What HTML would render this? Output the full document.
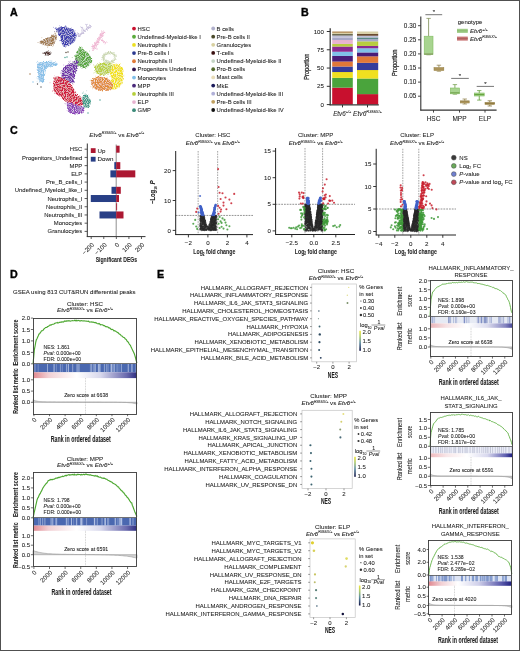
<!DOCTYPE html>
<html><head><meta charset="utf-8"><style>
html,body{margin:0;padding:0;background:#fff;}
svg{display:block;will-change:transform;}
text{font-family:"Liberation Sans", sans-serif;stroke:#1a1a1a;stroke-width:0.07px;}
</style></head><body>
<svg width="520" height="651" viewBox="0 0 520 651">
<rect x="0" y="0" width="520" height="651" fill="#fff"/>
<text x="9.90" y="15.80" font-size="10.7" text-anchor="start" fill="#000" font-weight="bold" style="stroke:#000;stroke-width:0.35px">A</text>
<defs><filter id="umf" x="-5%" y="-5%" width="110%" height="110%"><feTurbulence type="turbulence" baseFrequency="0.35" numOctaves="2" seed="4" result="t"/><feDisplacementMap in="SourceGraphic" in2="t" scale="2.6" xChannelSelector="R" yChannelSelector="G" result="d"/><feTurbulence type="fractalNoise" baseFrequency="0.9" numOctaves="1" seed="9" result="n"/><feColorMatrix in="n" type="matrix" values="0 0 0 0 1 0 0 0 0 1 0 0 0 0 1 2.3 0 0 0 -1.02" result="w"/><feComposite in="w" in2="d" operator="in" result="wc"/><feMerge><feMergeNode in="d"/><feMergeNode in="wc"/></feMerge></filter></defs>
<g filter="url(#umf)">
<path d="M55.00,28.00 C55.58,27.20 58.17,26.45 60.00,26.20 C61.83,25.95 64.17,26.20 66.00,26.50 C67.83,26.80 69.67,27.25 71.00,28.00 C72.33,28.75 73.25,29.83 74.00,31.00 C74.75,32.17 75.42,33.67 75.50,35.00 C75.58,36.33 75.08,37.83 74.50,39.00 C73.92,40.17 73.08,41.08 72.00,42.00 C70.92,42.92 69.33,43.75 68.00,44.50 C66.67,45.25 65.08,46.58 64.00,46.50 C62.92,46.42 62.17,45.08 61.50,44.00 C60.83,42.92 60.42,41.50 60.00,40.00 C59.58,38.50 59.58,36.50 59.00,35.00 C58.42,33.50 57.17,32.17 56.50,31.00 C55.83,29.83 54.42,28.80 55.00,28.00Z" fill="#3c3cb0" />
<path d="M38.50,41.00 C38.83,40.22 42.08,39.42 44.00,38.50 C45.92,37.58 48.17,36.33 50.00,35.50 C51.83,34.67 54.03,33.25 55.00,33.50 C55.97,33.75 55.83,35.75 55.80,37.00 C55.77,38.25 55.35,39.75 54.80,41.00 C54.25,42.25 53.80,43.87 52.50,44.50 C51.20,45.13 48.75,45.02 47.00,44.80 C45.25,44.58 43.42,43.83 42.00,43.20 C40.58,42.57 38.17,41.78 38.50,41.00Z" fill="#a07a50" />
<path d="M43.50,52.50 C43.83,52.03 45.00,51.35 46.00,51.20 C47.00,51.05 48.80,51.22 49.50,51.60 C50.20,51.98 50.62,53.02 50.20,53.50 C49.78,53.98 48.03,54.42 47.00,54.50 C45.97,54.58 44.58,54.33 44.00,54.00 C43.42,53.67 43.17,52.97 43.50,52.50Z" fill="#4a2820" />
<path d="M79.50,46.60 C80.58,46.27 81.75,48.10 83.00,49.00 C84.25,49.90 85.75,50.67 87.00,52.00 C88.25,53.33 89.83,55.50 90.50,57.00 C91.17,58.50 91.42,59.75 91.00,61.00 C90.58,62.25 89.17,63.38 88.00,64.50 C86.83,65.62 85.50,67.45 84.00,67.70 C82.50,67.95 80.50,66.95 79.00,66.00 C77.50,65.05 75.83,63.50 75.00,62.00 C74.17,60.50 73.75,58.83 74.00,57.00 C74.25,55.17 75.58,52.73 76.50,51.00 C77.42,49.27 78.42,46.93 79.50,46.60Z" fill="#58a840" />
<path d="M94.30,66.00 C94.80,64.50 96.38,63.60 98.00,63.00 C99.62,62.40 102.00,62.40 104.00,62.40 C106.00,62.40 108.50,62.40 110.00,63.00 C111.50,63.60 112.67,64.67 113.00,66.00 C113.33,67.33 113.17,69.67 112.00,71.00 C110.83,72.33 108.00,73.33 106.00,74.00 C104.00,74.67 101.83,75.33 100.00,75.00 C98.17,74.67 95.95,73.50 95.00,72.00 C94.05,70.50 93.80,67.50 94.30,66.00Z" fill="#b8d040" />
<path d="M112.30,64.00 C113.63,62.58 115.55,63.17 117.00,63.50 C118.45,63.83 120.00,64.58 121.00,66.00 C122.00,67.42 122.75,69.67 123.00,72.00 C123.25,74.33 123.17,77.67 122.50,80.00 C121.83,82.33 120.42,84.58 119.00,86.00 C117.58,87.42 115.50,88.33 114.00,88.50 C112.50,88.67 110.50,88.42 110.00,87.00 C109.50,85.58 111.17,82.50 111.00,80.00 C110.83,77.50 108.78,74.67 109.00,72.00 C109.22,69.33 110.97,65.42 112.30,64.00Z" fill="#f2e21c" />
<path d="M91.00,80.00 C91.50,78.42 93.33,77.17 95.00,76.50 C96.67,75.83 99.00,75.75 101.00,76.00 C103.00,76.25 105.33,77.17 107.00,78.00 C108.67,78.83 110.17,79.67 111.00,81.00 C111.83,82.33 112.33,84.58 112.00,86.00 C111.67,87.42 110.67,88.83 109.00,89.50 C107.33,90.17 104.17,90.08 102.00,90.00 C99.83,89.92 97.67,89.67 96.00,89.00 C94.33,88.33 92.83,87.50 92.00,86.00 C91.17,84.50 90.50,81.58 91.00,80.00Z" fill="#e08a3a" />
<path d="M37.00,62.00 C38.33,60.50 42.50,61.17 45.00,61.00 C47.50,60.83 50.08,60.75 52.00,61.00 C53.92,61.25 56.00,61.83 56.50,62.50 C57.00,63.17 56.25,64.33 55.00,65.00 C53.75,65.67 50.67,65.83 49.00,66.50 C47.33,67.17 45.83,67.75 45.00,69.00 C44.17,70.25 44.25,72.17 44.00,74.00 C43.75,75.83 44.17,78.67 43.50,80.00 C42.83,81.33 41.00,82.33 40.00,82.00 C39.00,81.67 38.00,80.00 37.50,78.00 C37.00,76.00 37.08,72.67 37.00,70.00 C36.92,67.33 35.67,63.50 37.00,62.00Z" fill="#88c0e8" />
<path d="M62.00,68.00 C62.92,66.33 64.50,66.00 66.00,65.00 C67.50,64.00 69.25,62.83 71.00,62.00 C72.75,61.17 75.42,59.67 76.50,60.00 C77.58,60.33 77.58,62.33 77.50,64.00 C77.42,65.67 76.58,68.00 76.00,70.00 C75.42,72.00 74.50,74.00 74.00,76.00 C73.50,78.00 74.17,81.00 73.00,82.00 C71.83,83.00 69.00,82.17 67.00,82.00 C65.00,81.83 62.08,82.17 61.00,81.00 C59.92,79.83 60.33,77.17 60.50,75.00 C60.67,72.83 61.08,69.67 62.00,68.00Z" fill="#7030a8" />
<path d="M54.30,75.90 C55.83,74.88 59.05,75.67 61.70,76.90 C64.35,78.13 68.08,80.83 70.20,83.30 C72.32,85.77 72.77,89.42 74.40,91.70 C76.03,93.98 78.73,95.20 80.00,97.00 C81.27,98.80 82.05,101.25 82.00,102.50 C81.95,103.75 81.37,104.25 79.70,104.50 C78.03,104.75 74.47,104.72 72.00,104.00 C69.53,103.28 67.23,101.70 64.90,100.20 C62.57,98.70 59.93,96.58 58.00,95.00 C56.07,93.42 54.22,92.70 53.30,90.70 C52.38,88.70 52.33,85.47 52.50,83.00 C52.67,80.53 52.77,76.92 54.30,75.90Z" fill="#d01a3e" />
<path d="M66.00,102.00 C66.75,100.83 70.00,102.50 72.00,103.00 C74.00,103.50 76.17,104.42 78.00,105.00 C79.83,105.58 82.17,105.50 83.00,106.50 C83.83,107.50 83.67,109.92 83.00,111.00 C82.33,112.08 80.83,112.58 79.00,113.00 C77.17,113.42 73.92,114.00 72.00,113.50 C70.08,113.00 68.50,111.92 67.50,110.00 C66.50,108.08 65.25,103.17 66.00,102.00Z" fill="#8a40b8" />
<path d="M82.00,95.00 C82.67,94.00 84.50,92.83 85.50,93.00 C86.50,93.17 87.25,94.67 88.00,96.00 C88.75,97.33 89.92,99.33 90.00,101.00 C90.08,102.67 89.33,104.92 88.50,106.00 C87.67,107.08 86.08,107.83 85.00,107.50 C83.92,107.17 82.58,105.42 82.00,104.00 C81.42,102.58 81.50,100.50 81.50,99.00 C81.50,97.50 81.33,96.00 82.00,95.00Z" fill="#3a9a88" />
<g stroke="#c8c0dc" stroke-linecap="round" fill="none">
<path d="M78,35 L83,31 L86.5,28 L89.5,25.5" stroke-width="2.6"/>
<path d="M83,31 L81,26 M86.5,28 L86,24.5 M79,34 L76.5,33" stroke-width="1.6"/>
</g>
<g stroke="#f0b8d4" stroke-linecap="round" fill="none">
<path d="M102.5,32 L99,37 L95.5,43 L92.5,48" stroke-width="3.6"/>
<path d="M101,39 L104,42.5 L106,41" stroke-width="1.4"/>
</g>
<ellipse cx="108.5" cy="57" rx="6" ry="5" fill="none" stroke="#ccd8b4" stroke-width="2.6"/>
</g>
<circle cx="61.63" cy="27.67" r="0.45" fill="#3c3cb0" fill-opacity="0.7"/>
<circle cx="59.39" cy="25.84" r="0.45" fill="#3c3cb0" fill-opacity="0.7"/>
<circle cx="76.18" cy="34.93" r="0.45" fill="#3c3cb0" fill-opacity="0.7"/>
<circle cx="59.90" cy="32.78" r="0.45" fill="#3c3cb0" fill-opacity="0.7"/>
<circle cx="58.88" cy="35.82" r="0.45" fill="#3c3cb0" fill-opacity="0.7"/>
<circle cx="75.34" cy="34.55" r="0.45" fill="#3c3cb0" fill-opacity="0.7"/>
<circle cx="74.99" cy="30.76" r="0.45" fill="#3c3cb0" fill-opacity="0.7"/>
<circle cx="59.82" cy="40.82" r="0.45" fill="#3c3cb0" fill-opacity="0.7"/>
<circle cx="54.68" cy="31.47" r="0.45" fill="#3c3cb0" fill-opacity="0.7"/>
<circle cx="55.70" cy="28.70" r="0.45" fill="#3c3cb0" fill-opacity="0.7"/>
<circle cx="58.44" cy="33.57" r="0.45" fill="#3c3cb0" fill-opacity="0.7"/>
<circle cx="66.21" cy="44.54" r="0.45" fill="#3c3cb0" fill-opacity="0.7"/>
<circle cx="61.22" cy="43.11" r="0.45" fill="#3c3cb0" fill-opacity="0.7"/>
<circle cx="74.96" cy="39.86" r="0.45" fill="#3c3cb0" fill-opacity="0.7"/>
<circle cx="71.65" cy="29.25" r="0.45" fill="#3c3cb0" fill-opacity="0.7"/>
<circle cx="65.75" cy="25.52" r="0.45" fill="#3c3cb0" fill-opacity="0.7"/>
<circle cx="68.30" cy="45.82" r="0.45" fill="#3c3cb0" fill-opacity="0.7"/>
<circle cx="53.46" cy="27.21" r="0.45" fill="#3c3cb0" fill-opacity="0.7"/>
<circle cx="65.92" cy="44.65" r="0.45" fill="#3c3cb0" fill-opacity="0.7"/>
<circle cx="64.63" cy="45.61" r="0.45" fill="#3c3cb0" fill-opacity="0.7"/>
<circle cx="60.99" cy="26.95" r="0.45" fill="#3c3cb0" fill-opacity="0.7"/>
<circle cx="74.98" cy="40.15" r="0.45" fill="#3c3cb0" fill-opacity="0.7"/>
<circle cx="60.74" cy="26.92" r="0.45" fill="#3c3cb0" fill-opacity="0.7"/>
<circle cx="65.88" cy="44.92" r="0.45" fill="#3c3cb0" fill-opacity="0.7"/>
<circle cx="75.44" cy="38.47" r="0.45" fill="#3c3cb0" fill-opacity="0.7"/>
<circle cx="54.98" cy="28.41" r="0.45" fill="#3c3cb0" fill-opacity="0.7"/>
<circle cx="59.72" cy="34.87" r="0.45" fill="#3c3cb0" fill-opacity="0.7"/>
<circle cx="55.59" cy="27.37" r="0.45" fill="#3c3cb0" fill-opacity="0.7"/>
<circle cx="56.53" cy="36.79" r="0.45" fill="#a07a50" fill-opacity="0.7"/>
<circle cx="44.76" cy="40.01" r="0.45" fill="#a07a50" fill-opacity="0.7"/>
<circle cx="52.91" cy="42.06" r="0.45" fill="#a07a50" fill-opacity="0.7"/>
<circle cx="56.36" cy="36.89" r="0.45" fill="#a07a50" fill-opacity="0.7"/>
<circle cx="56.51" cy="31.99" r="0.45" fill="#a07a50" fill-opacity="0.7"/>
<circle cx="42.68" cy="44.76" r="0.45" fill="#a07a50" fill-opacity="0.7"/>
<circle cx="41.64" cy="41.63" r="0.45" fill="#a07a50" fill-opacity="0.7"/>
<circle cx="52.79" cy="46.32" r="0.45" fill="#a07a50" fill-opacity="0.7"/>
<circle cx="41.87" cy="37.81" r="0.45" fill="#a07a50" fill-opacity="0.7"/>
<circle cx="47.84" cy="46.70" r="0.45" fill="#a07a50" fill-opacity="0.7"/>
<circle cx="46.10" cy="45.16" r="0.45" fill="#a07a50" fill-opacity="0.7"/>
<circle cx="46.98" cy="44.56" r="0.45" fill="#a07a50" fill-opacity="0.7"/>
<circle cx="55.26" cy="41.37" r="0.45" fill="#a07a50" fill-opacity="0.7"/>
<circle cx="54.89" cy="33.23" r="0.45" fill="#a07a50" fill-opacity="0.7"/>
<circle cx="37.92" cy="42.45" r="0.45" fill="#a07a50" fill-opacity="0.7"/>
<circle cx="54.77" cy="31.77" r="0.45" fill="#a07a50" fill-opacity="0.7"/>
<circle cx="47.64" cy="47.33" r="0.45" fill="#a07a50" fill-opacity="0.7"/>
<circle cx="55.08" cy="32.95" r="0.45" fill="#a07a50" fill-opacity="0.7"/>
<circle cx="45.09" cy="55.58" r="0.45" fill="#4a2820" fill-opacity="0.7"/>
<circle cx="48.51" cy="50.82" r="0.45" fill="#4a2820" fill-opacity="0.7"/>
<circle cx="49.20" cy="53.18" r="0.45" fill="#4a2820" fill-opacity="0.7"/>
<circle cx="43.08" cy="52.73" r="0.45" fill="#4a2820" fill-opacity="0.7"/>
<circle cx="43.53" cy="53.60" r="0.45" fill="#4a2820" fill-opacity="0.7"/>
<circle cx="49.00" cy="51.99" r="0.45" fill="#4a2820" fill-opacity="0.7"/>
<circle cx="48.46" cy="54.46" r="0.45" fill="#4a2820" fill-opacity="0.7"/>
<circle cx="42.79" cy="53.20" r="0.45" fill="#4a2820" fill-opacity="0.7"/>
<circle cx="51.09" cy="52.57" r="0.45" fill="#4a2820" fill-opacity="0.7"/>
<circle cx="48.22" cy="54.37" r="0.45" fill="#4a2820" fill-opacity="0.7"/>
<circle cx="46.12" cy="53.91" r="0.45" fill="#4a2820" fill-opacity="0.7"/>
<circle cx="48.14" cy="50.94" r="0.45" fill="#4a2820" fill-opacity="0.7"/>
<circle cx="74.30" cy="56.59" r="0.45" fill="#58a840" fill-opacity="0.7"/>
<circle cx="72.69" cy="61.91" r="0.45" fill="#58a840" fill-opacity="0.7"/>
<circle cx="80.80" cy="47.29" r="0.45" fill="#58a840" fill-opacity="0.7"/>
<circle cx="90.23" cy="60.13" r="0.45" fill="#58a840" fill-opacity="0.7"/>
<circle cx="80.41" cy="48.80" r="0.45" fill="#58a840" fill-opacity="0.7"/>
<circle cx="89.56" cy="51.02" r="0.45" fill="#58a840" fill-opacity="0.7"/>
<circle cx="83.55" cy="49.67" r="0.45" fill="#58a840" fill-opacity="0.7"/>
<circle cx="75.65" cy="62.24" r="0.45" fill="#58a840" fill-opacity="0.7"/>
<circle cx="89.20" cy="60.80" r="0.45" fill="#58a840" fill-opacity="0.7"/>
<circle cx="86.10" cy="52.15" r="0.45" fill="#58a840" fill-opacity="0.7"/>
<circle cx="88.74" cy="65.48" r="0.45" fill="#58a840" fill-opacity="0.7"/>
<circle cx="83.37" cy="49.38" r="0.45" fill="#58a840" fill-opacity="0.7"/>
<circle cx="78.46" cy="65.80" r="0.45" fill="#58a840" fill-opacity="0.7"/>
<circle cx="74.41" cy="62.47" r="0.45" fill="#58a840" fill-opacity="0.7"/>
<circle cx="79.70" cy="64.41" r="0.45" fill="#58a840" fill-opacity="0.7"/>
<circle cx="75.07" cy="56.08" r="0.45" fill="#58a840" fill-opacity="0.7"/>
<circle cx="86.76" cy="51.32" r="0.45" fill="#58a840" fill-opacity="0.7"/>
<circle cx="91.35" cy="60.31" r="0.45" fill="#58a840" fill-opacity="0.7"/>
<circle cx="85.99" cy="53.57" r="0.45" fill="#58a840" fill-opacity="0.7"/>
<circle cx="79.05" cy="64.60" r="0.45" fill="#58a840" fill-opacity="0.7"/>
<circle cx="86.13" cy="66.65" r="0.45" fill="#58a840" fill-opacity="0.7"/>
<circle cx="72.17" cy="57.57" r="0.45" fill="#58a840" fill-opacity="0.7"/>
<circle cx="108.26" cy="63.36" r="0.45" fill="#b8d040" fill-opacity="0.7"/>
<circle cx="111.20" cy="63.56" r="0.45" fill="#b8d040" fill-opacity="0.7"/>
<circle cx="105.14" cy="62.59" r="0.45" fill="#b8d040" fill-opacity="0.7"/>
<circle cx="113.40" cy="65.85" r="0.45" fill="#b8d040" fill-opacity="0.7"/>
<circle cx="93.87" cy="72.95" r="0.45" fill="#b8d040" fill-opacity="0.7"/>
<circle cx="93.69" cy="64.69" r="0.45" fill="#b8d040" fill-opacity="0.7"/>
<circle cx="100.03" cy="64.15" r="0.45" fill="#b8d040" fill-opacity="0.7"/>
<circle cx="112.38" cy="66.84" r="0.45" fill="#b8d040" fill-opacity="0.7"/>
<circle cx="99.85" cy="75.11" r="0.45" fill="#b8d040" fill-opacity="0.7"/>
<circle cx="110.22" cy="66.23" r="0.45" fill="#b8d040" fill-opacity="0.7"/>
<circle cx="105.16" cy="72.23" r="0.45" fill="#b8d040" fill-opacity="0.7"/>
<circle cx="108.18" cy="61.87" r="0.45" fill="#b8d040" fill-opacity="0.7"/>
<circle cx="97.00" cy="71.97" r="0.45" fill="#b8d040" fill-opacity="0.7"/>
<circle cx="99.31" cy="62.68" r="0.45" fill="#b8d040" fill-opacity="0.7"/>
<circle cx="104.18" cy="62.93" r="0.45" fill="#b8d040" fill-opacity="0.7"/>
<circle cx="97.49" cy="63.36" r="0.45" fill="#b8d040" fill-opacity="0.7"/>
<circle cx="110.96" cy="69.23" r="0.45" fill="#b8d040" fill-opacity="0.7"/>
<circle cx="94.03" cy="65.75" r="0.45" fill="#b8d040" fill-opacity="0.7"/>
<circle cx="122.18" cy="68.07" r="0.45" fill="#f2e21c" fill-opacity="0.7"/>
<circle cx="122.00" cy="80.84" r="0.45" fill="#f2e21c" fill-opacity="0.7"/>
<circle cx="111.86" cy="81.26" r="0.45" fill="#f2e21c" fill-opacity="0.7"/>
<circle cx="111.83" cy="64.89" r="0.45" fill="#f2e21c" fill-opacity="0.7"/>
<circle cx="110.96" cy="86.26" r="0.45" fill="#f2e21c" fill-opacity="0.7"/>
<circle cx="117.73" cy="65.01" r="0.45" fill="#f2e21c" fill-opacity="0.7"/>
<circle cx="122.32" cy="73.85" r="0.45" fill="#f2e21c" fill-opacity="0.7"/>
<circle cx="115.50" cy="64.10" r="0.45" fill="#f2e21c" fill-opacity="0.7"/>
<circle cx="108.57" cy="88.46" r="0.45" fill="#f2e21c" fill-opacity="0.7"/>
<circle cx="119.42" cy="84.60" r="0.45" fill="#f2e21c" fill-opacity="0.7"/>
<circle cx="120.48" cy="63.72" r="0.45" fill="#f2e21c" fill-opacity="0.7"/>
<circle cx="116.17" cy="63.82" r="0.45" fill="#f2e21c" fill-opacity="0.7"/>
<circle cx="112.50" cy="64.05" r="0.45" fill="#f2e21c" fill-opacity="0.7"/>
<circle cx="119.56" cy="85.75" r="0.45" fill="#f2e21c" fill-opacity="0.7"/>
<circle cx="110.18" cy="87.35" r="0.45" fill="#f2e21c" fill-opacity="0.7"/>
<circle cx="119.65" cy="84.73" r="0.45" fill="#f2e21c" fill-opacity="0.7"/>
<circle cx="110.83" cy="72.40" r="0.45" fill="#f2e21c" fill-opacity="0.7"/>
<circle cx="109.66" cy="87.41" r="0.45" fill="#f2e21c" fill-opacity="0.7"/>
<circle cx="119.33" cy="85.20" r="0.45" fill="#f2e21c" fill-opacity="0.7"/>
<circle cx="112.63" cy="62.11" r="0.45" fill="#f2e21c" fill-opacity="0.7"/>
<circle cx="100.38" cy="74.10" r="0.45" fill="#e08a3a" fill-opacity="0.7"/>
<circle cx="101.73" cy="89.55" r="0.45" fill="#e08a3a" fill-opacity="0.7"/>
<circle cx="107.63" cy="89.98" r="0.45" fill="#e08a3a" fill-opacity="0.7"/>
<circle cx="95.35" cy="78.47" r="0.45" fill="#e08a3a" fill-opacity="0.7"/>
<circle cx="101.63" cy="90.23" r="0.45" fill="#e08a3a" fill-opacity="0.7"/>
<circle cx="99.83" cy="88.62" r="0.45" fill="#e08a3a" fill-opacity="0.7"/>
<circle cx="94.95" cy="78.46" r="0.45" fill="#e08a3a" fill-opacity="0.7"/>
<circle cx="90.15" cy="80.21" r="0.45" fill="#e08a3a" fill-opacity="0.7"/>
<circle cx="100.08" cy="74.92" r="0.45" fill="#e08a3a" fill-opacity="0.7"/>
<circle cx="106.96" cy="77.95" r="0.45" fill="#e08a3a" fill-opacity="0.7"/>
<circle cx="107.16" cy="77.09" r="0.45" fill="#e08a3a" fill-opacity="0.7"/>
<circle cx="107.25" cy="81.17" r="0.45" fill="#e08a3a" fill-opacity="0.7"/>
<circle cx="92.66" cy="88.83" r="0.45" fill="#e08a3a" fill-opacity="0.7"/>
<circle cx="90.95" cy="86.75" r="0.45" fill="#e08a3a" fill-opacity="0.7"/>
<circle cx="97.32" cy="77.62" r="0.45" fill="#e08a3a" fill-opacity="0.7"/>
<circle cx="97.07" cy="89.22" r="0.45" fill="#e08a3a" fill-opacity="0.7"/>
<circle cx="102.41" cy="91.55" r="0.45" fill="#e08a3a" fill-opacity="0.7"/>
<circle cx="95.64" cy="76.08" r="0.45" fill="#e08a3a" fill-opacity="0.7"/>
<circle cx="91.23" cy="79.91" r="0.45" fill="#e08a3a" fill-opacity="0.7"/>
<circle cx="110.05" cy="80.32" r="0.45" fill="#e08a3a" fill-opacity="0.7"/>
<circle cx="41.65" cy="62.22" r="0.45" fill="#88c0e8" fill-opacity="0.7"/>
<circle cx="37.68" cy="61.74" r="0.45" fill="#88c0e8" fill-opacity="0.7"/>
<circle cx="55.53" cy="65.45" r="0.45" fill="#88c0e8" fill-opacity="0.7"/>
<circle cx="37.03" cy="81.72" r="0.45" fill="#88c0e8" fill-opacity="0.7"/>
<circle cx="53.93" cy="63.21" r="0.45" fill="#88c0e8" fill-opacity="0.7"/>
<circle cx="41.71" cy="80.61" r="0.45" fill="#88c0e8" fill-opacity="0.7"/>
<circle cx="55.68" cy="65.03" r="0.45" fill="#88c0e8" fill-opacity="0.7"/>
<circle cx="45.16" cy="73.85" r="0.45" fill="#88c0e8" fill-opacity="0.7"/>
<circle cx="42.20" cy="74.54" r="0.45" fill="#88c0e8" fill-opacity="0.7"/>
<circle cx="36.47" cy="62.42" r="0.45" fill="#88c0e8" fill-opacity="0.7"/>
<circle cx="51.86" cy="61.38" r="0.45" fill="#88c0e8" fill-opacity="0.7"/>
<circle cx="43.48" cy="80.91" r="0.45" fill="#88c0e8" fill-opacity="0.7"/>
<circle cx="48.34" cy="65.79" r="0.45" fill="#88c0e8" fill-opacity="0.7"/>
<circle cx="42.09" cy="81.88" r="0.45" fill="#88c0e8" fill-opacity="0.7"/>
<circle cx="37.47" cy="61.32" r="0.45" fill="#88c0e8" fill-opacity="0.7"/>
<circle cx="42.60" cy="80.14" r="0.45" fill="#88c0e8" fill-opacity="0.7"/>
<circle cx="38.24" cy="76.48" r="0.45" fill="#88c0e8" fill-opacity="0.7"/>
<circle cx="36.79" cy="77.89" r="0.45" fill="#88c0e8" fill-opacity="0.7"/>
<circle cx="53.67" cy="63.03" r="0.45" fill="#88c0e8" fill-opacity="0.7"/>
<circle cx="54.35" cy="65.52" r="0.45" fill="#88c0e8" fill-opacity="0.7"/>
<circle cx="37.94" cy="79.88" r="0.45" fill="#88c0e8" fill-opacity="0.7"/>
<circle cx="37.93" cy="78.52" r="0.45" fill="#88c0e8" fill-opacity="0.7"/>
<circle cx="39.10" cy="82.65" r="0.45" fill="#88c0e8" fill-opacity="0.7"/>
<circle cx="39.75" cy="81.03" r="0.45" fill="#88c0e8" fill-opacity="0.7"/>
<circle cx="73.73" cy="76.90" r="0.45" fill="#7030a8" fill-opacity="0.7"/>
<circle cx="60.95" cy="80.36" r="0.45" fill="#7030a8" fill-opacity="0.7"/>
<circle cx="77.69" cy="61.52" r="0.45" fill="#7030a8" fill-opacity="0.7"/>
<circle cx="61.73" cy="80.87" r="0.45" fill="#7030a8" fill-opacity="0.7"/>
<circle cx="60.66" cy="82.14" r="0.45" fill="#7030a8" fill-opacity="0.7"/>
<circle cx="76.63" cy="58.22" r="0.45" fill="#7030a8" fill-opacity="0.7"/>
<circle cx="69.30" cy="62.20" r="0.45" fill="#7030a8" fill-opacity="0.7"/>
<circle cx="74.56" cy="68.48" r="0.45" fill="#7030a8" fill-opacity="0.7"/>
<circle cx="60.41" cy="73.01" r="0.45" fill="#7030a8" fill-opacity="0.7"/>
<circle cx="71.90" cy="64.60" r="0.45" fill="#7030a8" fill-opacity="0.7"/>
<circle cx="68.18" cy="64.17" r="0.45" fill="#7030a8" fill-opacity="0.7"/>
<circle cx="73.41" cy="75.79" r="0.45" fill="#7030a8" fill-opacity="0.7"/>
<circle cx="74.56" cy="82.59" r="0.45" fill="#7030a8" fill-opacity="0.7"/>
<circle cx="73.10" cy="75.67" r="0.45" fill="#7030a8" fill-opacity="0.7"/>
<circle cx="65.58" cy="66.12" r="0.45" fill="#7030a8" fill-opacity="0.7"/>
<circle cx="68.94" cy="61.48" r="0.45" fill="#7030a8" fill-opacity="0.7"/>
<circle cx="62.26" cy="82.62" r="0.45" fill="#7030a8" fill-opacity="0.7"/>
<circle cx="70.45" cy="61.11" r="0.45" fill="#7030a8" fill-opacity="0.7"/>
<circle cx="76.06" cy="59.63" r="0.45" fill="#7030a8" fill-opacity="0.7"/>
<circle cx="67.30" cy="67.03" r="0.45" fill="#7030a8" fill-opacity="0.7"/>
<circle cx="65.77" cy="65.69" r="0.45" fill="#7030a8" fill-opacity="0.7"/>
<circle cx="63.73" cy="64.98" r="0.45" fill="#7030a8" fill-opacity="0.7"/>
<circle cx="73.07" cy="84.16" r="0.45" fill="#d01a3e" fill-opacity="0.7"/>
<circle cx="82.17" cy="102.27" r="0.45" fill="#d01a3e" fill-opacity="0.7"/>
<circle cx="82.86" cy="104.46" r="0.45" fill="#d01a3e" fill-opacity="0.7"/>
<circle cx="60.83" cy="77.72" r="0.45" fill="#d01a3e" fill-opacity="0.7"/>
<circle cx="77.84" cy="105.62" r="0.45" fill="#d01a3e" fill-opacity="0.7"/>
<circle cx="81.33" cy="104.77" r="0.45" fill="#d01a3e" fill-opacity="0.7"/>
<circle cx="82.95" cy="100.65" r="0.45" fill="#d01a3e" fill-opacity="0.7"/>
<circle cx="54.41" cy="77.17" r="0.45" fill="#d01a3e" fill-opacity="0.7"/>
<circle cx="62.89" cy="76.40" r="0.45" fill="#d01a3e" fill-opacity="0.7"/>
<circle cx="50.00" cy="82.87" r="0.45" fill="#d01a3e" fill-opacity="0.7"/>
<circle cx="65.28" cy="98.79" r="0.45" fill="#d01a3e" fill-opacity="0.7"/>
<circle cx="66.16" cy="99.31" r="0.45" fill="#d01a3e" fill-opacity="0.7"/>
<circle cx="73.69" cy="91.31" r="0.45" fill="#d01a3e" fill-opacity="0.7"/>
<circle cx="75.83" cy="91.96" r="0.45" fill="#d01a3e" fill-opacity="0.7"/>
<circle cx="60.20" cy="78.29" r="0.45" fill="#d01a3e" fill-opacity="0.7"/>
<circle cx="54.18" cy="90.31" r="0.45" fill="#d01a3e" fill-opacity="0.7"/>
<circle cx="80.76" cy="101.28" r="0.45" fill="#d01a3e" fill-opacity="0.7"/>
<circle cx="78.71" cy="104.92" r="0.45" fill="#d01a3e" fill-opacity="0.7"/>
<circle cx="52.41" cy="91.59" r="0.45" fill="#d01a3e" fill-opacity="0.7"/>
<circle cx="72.94" cy="104.21" r="0.45" fill="#d01a3e" fill-opacity="0.7"/>
<circle cx="52.96" cy="90.56" r="0.45" fill="#d01a3e" fill-opacity="0.7"/>
<circle cx="58.57" cy="94.96" r="0.45" fill="#d01a3e" fill-opacity="0.7"/>
<circle cx="80.50" cy="104.21" r="0.45" fill="#d01a3e" fill-opacity="0.7"/>
<circle cx="73.46" cy="91.50" r="0.45" fill="#d01a3e" fill-opacity="0.7"/>
<circle cx="72.72" cy="104.53" r="0.45" fill="#8a40b8" fill-opacity="0.7"/>
<circle cx="67.29" cy="103.00" r="0.45" fill="#8a40b8" fill-opacity="0.7"/>
<circle cx="82.06" cy="110.44" r="0.45" fill="#8a40b8" fill-opacity="0.7"/>
<circle cx="64.88" cy="103.35" r="0.45" fill="#8a40b8" fill-opacity="0.7"/>
<circle cx="71.97" cy="103.59" r="0.45" fill="#8a40b8" fill-opacity="0.7"/>
<circle cx="76.86" cy="103.91" r="0.45" fill="#8a40b8" fill-opacity="0.7"/>
<circle cx="72.60" cy="103.41" r="0.45" fill="#8a40b8" fill-opacity="0.7"/>
<circle cx="68.19" cy="111.29" r="0.45" fill="#8a40b8" fill-opacity="0.7"/>
<circle cx="71.33" cy="103.18" r="0.45" fill="#8a40b8" fill-opacity="0.7"/>
<circle cx="70.38" cy="112.86" r="0.45" fill="#8a40b8" fill-opacity="0.7"/>
<circle cx="67.32" cy="103.29" r="0.45" fill="#8a40b8" fill-opacity="0.7"/>
<circle cx="79.05" cy="112.75" r="0.45" fill="#8a40b8" fill-opacity="0.7"/>
<circle cx="67.05" cy="110.41" r="0.45" fill="#8a40b8" fill-opacity="0.7"/>
<circle cx="69.09" cy="109.56" r="0.45" fill="#8a40b8" fill-opacity="0.7"/>
<circle cx="78.99" cy="113.72" r="0.45" fill="#8a40b8" fill-opacity="0.7"/>
<circle cx="78.58" cy="105.19" r="0.45" fill="#8a40b8" fill-opacity="0.7"/>
<circle cx="83.58" cy="91.97" r="0.45" fill="#3a9a88" fill-opacity="0.7"/>
<circle cx="88.70" cy="104.89" r="0.45" fill="#3a9a88" fill-opacity="0.7"/>
<circle cx="83.55" cy="106.40" r="0.45" fill="#3a9a88" fill-opacity="0.7"/>
<circle cx="88.29" cy="104.77" r="0.45" fill="#3a9a88" fill-opacity="0.7"/>
<circle cx="83.54" cy="98.82" r="0.45" fill="#3a9a88" fill-opacity="0.7"/>
<circle cx="83.53" cy="104.35" r="0.45" fill="#3a9a88" fill-opacity="0.7"/>
<circle cx="88.19" cy="104.82" r="0.45" fill="#3a9a88" fill-opacity="0.7"/>
<circle cx="82.92" cy="93.62" r="0.45" fill="#3a9a88" fill-opacity="0.7"/>
<circle cx="82.69" cy="101.57" r="0.45" fill="#3a9a88" fill-opacity="0.7"/>
<circle cx="86.44" cy="94.86" r="0.45" fill="#3a9a88" fill-opacity="0.7"/>
<circle cx="86.68" cy="90.84" r="0.45" fill="#3a9a88" fill-opacity="0.7"/>
<circle cx="82.30" cy="93.01" r="0.45" fill="#3a9a88" fill-opacity="0.7"/>
<circle cx="79.85" cy="100.84" r="0.45" fill="#3a9a88" fill-opacity="0.7"/>
<circle cx="85.98" cy="95.75" r="0.45" fill="#3a9a88" fill-opacity="0.7"/>
<circle cx="89.00" cy="96.13" r="0.45" fill="#3a9a88" fill-opacity="0.7"/>
<circle cx="85.11" cy="93.74" r="0.45" fill="#3a9a88" fill-opacity="0.7"/>
<circle cx="30.00" cy="74.00" r="0.70" fill="#9a6b3c"/>
<circle cx="33.00" cy="82.00" r="0.70" fill="#88c4ea"/>
<circle cx="88.00" cy="113.00" r="0.70" fill="#3a9a88"/>
<circle cx="97.00" cy="49.00" r="0.70" fill="#f0b8d8"/>
<circle cx="52.00" cy="36.00" r="0.70" fill="#9a6b3c"/>
<circle cx="66.00" cy="52.50" r="0.70" fill="#4a3a2a"/>
<circle cx="68.00" cy="52.00" r="0.70" fill="#4a3a2a"/>
<circle cx="100.00" cy="100.00" r="0.70" fill="#3a9a88"/>
<circle cx="65.00" cy="57.50" r="0.70" fill="#3a9a88"/>
<circle cx="67.00" cy="57.00" r="0.70" fill="#3a9a88"/>
<circle cx="37.50" cy="84.00" r="0.70" fill="#555"/>
<circle cx="41.00" cy="87.00" r="0.70" fill="#555"/>
<circle cx="134.00" cy="28.60" r="1.90" fill="#c8102e"/>
<text x="137.60" y="30.69" font-size="5.9" text-anchor="start" fill="#1e1e1e" >HSC</text>
<circle cx="134.00" cy="36.76" r="1.90" fill="#5aab3c"/>
<text x="137.60" y="38.85" font-size="5.9" text-anchor="start" fill="#1e1e1e" >Undefined-Myeloid-like I</text>
<circle cx="134.00" cy="44.92" r="1.90" fill="#ece020"/>
<text x="137.60" y="47.01" font-size="5.9" text-anchor="start" fill="#1e1e1e" >Neutrophils I</text>
<circle cx="134.00" cy="53.08" r="1.90" fill="#2b3990"/>
<text x="137.60" y="55.17" font-size="5.9" text-anchor="start" fill="#1e1e1e" >Pre-B cells I</text>
<circle cx="134.00" cy="61.24" r="1.90" fill="#e07b39"/>
<text x="137.60" y="63.33" font-size="5.9" text-anchor="start" fill="#1e1e1e" >Neutrophils II</text>
<circle cx="134.00" cy="69.40" r="1.90" fill="#30154f"/>
<text x="137.60" y="71.49" font-size="5.9" text-anchor="start" fill="#1e1e1e" >Progenitors Undefined</text>
<circle cx="134.00" cy="77.56" r="1.90" fill="#7fbfe8"/>
<text x="137.60" y="79.65" font-size="5.9" text-anchor="start" fill="#1e1e1e" >Monocytes</text>
<circle cx="134.00" cy="85.72" r="1.90" fill="#4a2a7a"/>
<text x="137.60" y="87.81" font-size="5.9" text-anchor="start" fill="#1e1e1e" >MPP</text>
<circle cx="134.00" cy="93.88" r="1.90" fill="#b5cf3a"/>
<text x="137.60" y="95.97" font-size="5.9" text-anchor="start" fill="#1e1e1e" >Neutrophils III</text>
<circle cx="134.00" cy="102.04" r="1.90" fill="#e7b3d0"/>
<text x="137.60" y="104.13" font-size="5.9" text-anchor="start" fill="#1e1e1e" >ELP</text>
<circle cx="134.00" cy="110.20" r="1.90" fill="#3d8b7a"/>
<text x="137.60" y="112.29" font-size="5.9" text-anchor="start" fill="#1e1e1e" >GMP</text>
<circle cx="213.20" cy="28.50" r="1.90" fill="#b0b0cc"/>
<text x="216.60" y="30.59" font-size="5.9" text-anchor="start" fill="#1e1e1e" >B cells</text>
<circle cx="213.20" cy="36.65" r="1.90" fill="#4a4a2a"/>
<text x="216.60" y="38.74" font-size="5.9" text-anchor="start" fill="#1e1e1e" >Pre-B cells II</text>
<circle cx="213.20" cy="44.80" r="1.90" fill="#d8d0a0"/>
<text x="216.60" y="46.89" font-size="5.9" text-anchor="start" fill="#1e1e1e" >Granulocytes</text>
<circle cx="213.20" cy="52.95" r="1.90" fill="#3a1010"/>
<text x="216.60" y="55.04" font-size="5.9" text-anchor="start" fill="#1e1e1e" >T-cells</text>
<circle cx="213.20" cy="61.10" r="1.90" fill="#c4d4c4"/>
<text x="216.60" y="63.19" font-size="5.9" text-anchor="start" fill="#1e1e1e" >Undefined-Myeloid-like II</text>
<circle cx="213.20" cy="69.25" r="1.90" fill="#556b2f"/>
<text x="216.60" y="71.34" font-size="5.9" text-anchor="start" fill="#1e1e1e" >Pro-B cells</text>
<circle cx="213.20" cy="77.40" r="1.90" fill="#e8dcb8"/>
<text x="216.60" y="79.49" font-size="5.9" text-anchor="start" fill="#1e1e1e" >Mast cells</text>
<circle cx="213.20" cy="85.55" r="1.90" fill="#1a1a5a"/>
<text x="216.60" y="87.64" font-size="5.9" text-anchor="start" fill="#1e1e1e" >MkE</text>
<circle cx="213.20" cy="93.70" r="1.90" fill="#b0b0d8"/>
<text x="216.60" y="95.79" font-size="5.9" text-anchor="start" fill="#1e1e1e" >Undefined-Myeloid-like III</text>
<circle cx="213.20" cy="101.85" r="1.90" fill="#c0a060"/>
<text x="216.60" y="103.94" font-size="5.9" text-anchor="start" fill="#1e1e1e" >Pre-B cells III</text>
<circle cx="213.20" cy="110.00" r="1.90" fill="#111"/>
<text x="216.60" y="112.09" font-size="5.9" text-anchor="start" fill="#1e1e1e" >Undefined-Myeloid-like IV</text>
<text x="301.10" y="15.80" font-size="10.7" text-anchor="start" fill="#000" font-weight="bold" style="stroke:#000;stroke-width:0.35px">B</text>
<rect x="332.20" y="87.60" width="20.60" height="17.05" fill="#c8102e" />
<rect x="332.20" y="77.80" width="20.60" height="9.85" fill="#4aa43c" />
<rect x="332.20" y="72.00" width="20.60" height="5.85" fill="#f0e020" />
<rect x="332.20" y="66.50" width="20.60" height="5.55" fill="#343c9c" />
<rect x="332.20" y="61.50" width="20.60" height="5.05" fill="#e07838" />
<rect x="332.20" y="55.90" width="20.60" height="5.65" fill="#4a1c78" />
<rect x="332.20" y="51.70" width="20.60" height="4.25" fill="#80c0e8" />
<rect x="332.20" y="46.50" width="20.60" height="5.25" fill="#8a2a90" />
<rect x="332.20" y="43.90" width="20.60" height="2.65" fill="#b8cc40" />
<rect x="332.20" y="40.00" width="20.60" height="3.95" fill="#e8b4d0" />
<rect x="332.20" y="37.40" width="20.60" height="2.65" fill="#a8a8c8" />
<rect x="332.20" y="35.40" width="20.60" height="2.05" fill="#c0c0d8" />
<rect x="332.20" y="34.10" width="20.60" height="1.35" fill="#4a4a30" />
<rect x="332.20" y="32.80" width="20.60" height="1.35" fill="#d8d0a8" />
<rect x="332.20" y="31.50" width="20.60" height="1.35" fill="#b08850" />
<rect x="357.00" y="94.10" width="21.20" height="10.55" fill="#c8102e" />
<rect x="357.00" y="78.50" width="21.20" height="15.65" fill="#4aa43c" />
<rect x="357.00" y="70.00" width="21.20" height="8.55" fill="#f0e020" />
<rect x="357.00" y="62.80" width="21.20" height="7.25" fill="#343c9c" />
<rect x="357.00" y="56.30" width="21.20" height="6.55" fill="#e07838" />
<rect x="357.00" y="52.40" width="21.20" height="3.95" fill="#4a1c78" />
<rect x="357.00" y="48.20" width="21.20" height="4.25" fill="#80c0e8" />
<rect x="357.00" y="45.90" width="21.20" height="2.35" fill="#8a2a90" />
<rect x="357.00" y="41.30" width="21.20" height="4.65" fill="#b8cc40" />
<rect x="357.00" y="39.10" width="21.20" height="2.25" fill="#a8a8c8" />
<rect x="357.00" y="37.40" width="21.20" height="1.75" fill="#5a8a88" />
<rect x="357.00" y="35.70" width="21.20" height="1.75" fill="#c0c0d8" />
<rect x="357.00" y="33.90" width="21.20" height="1.85" fill="#6a4a30" />
<rect x="357.00" y="31.50" width="21.20" height="2.45" fill="#d8d0a8" />
<line x1="330.20" y1="28.30" x2="330.20" y2="105.20" stroke="#3a3a3a" stroke-width="1.3"/>
<line x1="329.60" y1="104.90" x2="378.80" y2="104.90" stroke="#3a3a3a" stroke-width="1.3"/>
<line x1="326.80" y1="104.60" x2="330.20" y2="104.60" stroke="#333" stroke-width="1.0"/>
<text x="323.90" y="106.77" font-size="6.1" text-anchor="end" fill="#222" >0</text>
<line x1="326.80" y1="86.32" x2="330.20" y2="86.32" stroke="#333" stroke-width="1.0"/>
<text x="323.90" y="88.49" font-size="6.1" text-anchor="end" fill="#222" >25</text>
<line x1="326.80" y1="68.05" x2="330.20" y2="68.05" stroke="#333" stroke-width="1.0"/>
<text x="323.90" y="70.22" font-size="6.1" text-anchor="end" fill="#222" >50</text>
<line x1="326.80" y1="49.77" x2="330.20" y2="49.77" stroke="#333" stroke-width="1.0"/>
<text x="323.90" y="51.94" font-size="6.1" text-anchor="end" fill="#222" >75</text>
<line x1="326.80" y1="31.50" x2="330.20" y2="31.50" stroke="#333" stroke-width="1.0"/>
<text x="323.90" y="33.67" font-size="6.1" text-anchor="end" fill="#222" >100</text>
<line x1="342.50" y1="104.90" x2="342.50" y2="107.40" stroke="#333" stroke-width="1.0"/>
<line x1="367.50" y1="104.90" x2="367.50" y2="107.40" stroke="#333" stroke-width="1.0"/>
<text x="306.20" y="69.33" font-size="7.4" text-anchor="middle" fill="#1e1e1e" textLength="26" lengthAdjust="spacingAndGlyphs" transform="rotate(-90 306.20 66.70)" style="stroke-width:0.25px">Proportion</text>
<text x="342.20" y="115.89" font-size="7.0" text-anchor="middle" fill="#1e1e1e" textLength="18" lengthAdjust="spacingAndGlyphs"><tspan font-style="italic">Etv6</tspan><tspan font-size="4.20" dy="-2.66" font-style="italic">+/+</tspan></text>
<text x="367.50" y="115.89" font-size="7.0" text-anchor="middle" fill="#1e1e1e" textLength="28.8" lengthAdjust="spacingAndGlyphs"><tspan font-style="italic">Etv6</tspan><tspan font-size="4.20" dy="-2.66" font-style="italic">R355X/+</tspan></text>
<line x1="420.80" y1="16.50" x2="420.80" y2="110.50" stroke="#333" stroke-width="1.1"/>
<line x1="420.30" y1="110.10" x2="496.60" y2="110.10" stroke="#333" stroke-width="1.1"/>
<line x1="418.00" y1="96.20" x2="420.80" y2="96.20" stroke="#333" stroke-width="0.9"/>
<text x="416.30" y="98.47" font-size="6.4" text-anchor="end" fill="#222" >0.05</text>
<line x1="418.00" y1="82.10" x2="420.80" y2="82.10" stroke="#333" stroke-width="0.9"/>
<text x="416.30" y="84.37" font-size="6.4" text-anchor="end" fill="#222" >0.10</text>
<line x1="418.00" y1="68.00" x2="420.80" y2="68.00" stroke="#333" stroke-width="0.9"/>
<text x="416.30" y="70.27" font-size="6.4" text-anchor="end" fill="#222" >0.15</text>
<line x1="418.00" y1="53.90" x2="420.80" y2="53.90" stroke="#333" stroke-width="0.9"/>
<text x="416.30" y="56.17" font-size="6.4" text-anchor="end" fill="#222" >0.20</text>
<line x1="418.00" y1="39.80" x2="420.80" y2="39.80" stroke="#333" stroke-width="0.9"/>
<text x="416.30" y="42.07" font-size="6.4" text-anchor="end" fill="#222" >0.25</text>
<line x1="418.00" y1="25.70" x2="420.80" y2="25.70" stroke="#333" stroke-width="0.9"/>
<text x="416.30" y="27.97" font-size="6.4" text-anchor="end" fill="#222" >0.30</text>
<line x1="433.50" y1="110.00" x2="433.50" y2="112.60" stroke="#333" stroke-width="0.9"/>
<text x="433.50" y="121.31" font-size="6.5" text-anchor="middle" fill="#1e1e1e" >HSC</text>
<line x1="459.50" y1="110.00" x2="459.50" y2="112.60" stroke="#333" stroke-width="0.9"/>
<text x="459.50" y="121.31" font-size="6.5" text-anchor="middle" fill="#1e1e1e" >MPP</text>
<line x1="485.00" y1="110.00" x2="485.00" y2="112.60" stroke="#333" stroke-width="0.9"/>
<text x="485.00" y="121.31" font-size="6.5" text-anchor="middle" fill="#1e1e1e" >ELP</text>
<text x="394.60" y="65.43" font-size="7.4" text-anchor="middle" fill="#1e1e1e" textLength="26.3" lengthAdjust="spacingAndGlyphs" transform="rotate(-90 394.60 62.80)" style="stroke-width:0.25px">Proportion</text>
<line x1="428.60" y1="18.40" x2="428.60" y2="36.20" stroke="#7a8a50" stroke-width="0.8"/>
<line x1="428.60" y1="54.60" x2="428.60" y2="54.80" stroke="#7a8a50" stroke-width="0.8"/>
<line x1="426.40" y1="18.40" x2="430.80" y2="18.40" stroke="#7a8a50" stroke-width="0.7"/>
<line x1="426.40" y1="54.80" x2="430.80" y2="54.80" stroke="#7a8a50" stroke-width="0.7"/>
<rect x="424.20" y="36.20" width="8.80" height="18.40" fill="#a8d490" stroke="#80bc60" stroke-width="0.6" />
<line x1="424.20" y1="54.00" x2="433.00" y2="54.00" stroke="#7a8a50" stroke-width="0.9"/>
<line x1="438.90" y1="65.20" x2="438.90" y2="67.50" stroke="#8a7a40" stroke-width="0.8"/>
<line x1="438.90" y1="70.60" x2="438.90" y2="71.20" stroke="#8a7a40" stroke-width="0.8"/>
<line x1="436.70" y1="65.20" x2="441.10" y2="65.20" stroke="#8a7a40" stroke-width="0.7"/>
<line x1="436.70" y1="71.20" x2="441.10" y2="71.20" stroke="#8a7a40" stroke-width="0.7"/>
<rect x="434.00" y="67.50" width="9.80" height="3.10" fill="#c8a870" stroke="#9a8850" stroke-width="0.6" />
<line x1="434.00" y1="69.00" x2="443.80" y2="69.00" stroke="#8a7a40" stroke-width="0.9"/>
<line x1="454.90" y1="84.60" x2="454.90" y2="88.00" stroke="#6a9a40" stroke-width="0.8"/>
<line x1="454.90" y1="93.80" x2="454.90" y2="94.20" stroke="#6a9a40" stroke-width="0.8"/>
<line x1="452.70" y1="84.60" x2="457.10" y2="84.60" stroke="#6a9a40" stroke-width="0.7"/>
<line x1="452.70" y1="94.20" x2="457.10" y2="94.20" stroke="#6a9a40" stroke-width="0.7"/>
<rect x="450.30" y="88.00" width="9.20" height="5.80" fill="#a8d490" stroke="#80bc60" stroke-width="0.6" />
<line x1="450.30" y1="92.80" x2="459.50" y2="92.80" stroke="#6a9a40" stroke-width="0.9"/>
<line x1="464.75" y1="99.00" x2="464.75" y2="100.80" stroke="#8a7a40" stroke-width="0.8"/>
<line x1="464.75" y1="103.00" x2="464.75" y2="104.00" stroke="#8a7a40" stroke-width="0.8"/>
<line x1="462.55" y1="99.00" x2="466.95" y2="99.00" stroke="#8a7a40" stroke-width="0.7"/>
<line x1="462.55" y1="104.00" x2="466.95" y2="104.00" stroke="#8a7a40" stroke-width="0.7"/>
<rect x="460.30" y="100.80" width="8.90" height="2.20" fill="#c8a870" stroke="#9a8850" stroke-width="0.6" />
<line x1="460.30" y1="101.80" x2="469.20" y2="101.80" stroke="#8a7a40" stroke-width="0.9"/>
<line x1="479.25" y1="90.60" x2="479.25" y2="93.00" stroke="#5a9a30" stroke-width="0.8"/>
<line x1="479.25" y1="96.00" x2="479.25" y2="100.10" stroke="#5a9a30" stroke-width="0.8"/>
<line x1="477.05" y1="90.60" x2="481.45" y2="90.60" stroke="#5a9a30" stroke-width="0.7"/>
<line x1="477.05" y1="100.10" x2="481.45" y2="100.10" stroke="#5a9a30" stroke-width="0.7"/>
<rect x="474.30" y="93.00" width="9.90" height="3.00" fill="#a8d490" stroke="#80bc60" stroke-width="0.6" />
<line x1="474.30" y1="94.60" x2="484.20" y2="94.60" stroke="#5a9a30" stroke-width="0.9"/>
<line x1="489.80" y1="100.80" x2="489.80" y2="102.40" stroke="#7a6a30" stroke-width="0.8"/>
<line x1="489.80" y1="104.60" x2="489.80" y2="106.00" stroke="#7a6a30" stroke-width="0.8"/>
<line x1="487.60" y1="100.80" x2="492.00" y2="100.80" stroke="#7a6a30" stroke-width="0.7"/>
<line x1="487.60" y1="106.00" x2="492.00" y2="106.00" stroke="#7a6a30" stroke-width="0.7"/>
<rect x="485.00" y="102.40" width="9.60" height="2.20" fill="#c8a870" stroke="#9a8850" stroke-width="0.6" />
<line x1="485.00" y1="103.30" x2="494.60" y2="103.30" stroke="#7a6a30" stroke-width="0.9"/>
<line x1="425.40" y1="14.70" x2="442.20" y2="14.70" stroke="#666" stroke-width="0.9"/>
<text x="433.80" y="14.23" font-size="6.0" text-anchor="middle" fill="#1e1e1e" >*</text>
<line x1="451.20" y1="78.40" x2="468.80" y2="78.40" stroke="#666" stroke-width="0.9"/>
<text x="460.00" y="77.93" font-size="6.0" text-anchor="middle" fill="#1e1e1e" >*</text>
<line x1="476.70" y1="86.40" x2="494.00" y2="86.40" stroke="#666" stroke-width="0.9"/>
<text x="485.35" y="85.93" font-size="6.0" text-anchor="middle" fill="#1e1e1e" >*</text>
<text x="457.80" y="24.23" font-size="6.0" text-anchor="start" fill="#222" textLength="24.5" lengthAdjust="spacingAndGlyphs" >genotype</text>
<rect x="457.00" y="28.80" width="10.80" height="4.10" fill="#a0cc88" />
<line x1="457.00" y1="30.85" x2="467.80" y2="30.85" stroke="#80b060" stroke-width="0.7"/>
<rect x="457.00" y="36.60" width="10.80" height="4.00" fill="#c87474" />
<line x1="457.00" y1="38.60" x2="467.80" y2="38.60" stroke="#a05858" stroke-width="0.7"/>
<text x="469.90" y="33.00" font-size="6.2" text-anchor="start" fill="#1e1e1e"><tspan font-style="italic">Etv6</tspan><tspan font-size="3.72" dy="-2.36" font-style="italic">+/+</tspan></text>
<text x="469.90" y="40.60" font-size="6.2" text-anchor="start" fill="#1e1e1e"><tspan font-style="italic">Etv6</tspan><tspan font-size="3.72" dy="-2.36" font-style="italic">R355X/+</tspan></text>
<text x="9.90" y="134.20" font-size="10.7" text-anchor="start" fill="#000" font-weight="bold" style="stroke:#000;stroke-width:0.35px">C</text>
<text x="116.80" y="136.59" font-size="5.6" text-anchor="middle" fill="#1e1e1e" textLength="55" lengthAdjust="spacingAndGlyphs"><tspan font-style="italic">Etv6</tspan><tspan font-size="3.36" dy="-2.13" font-style="italic">R355X/+</tspan><tspan dy="2.13"> vs </tspan><tspan font-style="italic">Etv6</tspan><tspan font-size="3.36" dy="-2.13" font-style="italic">+/+</tspan></text>
<text x="82.30" y="151.29" font-size="5.9" text-anchor="end" fill="#1e1e1e" >HSC</text>
<line x1="84.60" y1="149.20" x2="87.30" y2="149.20" stroke="#333" stroke-width="0.8"/>
<text x="82.30" y="159.51" font-size="5.9" text-anchor="end" fill="#1e1e1e" >Progenitors_Undefined</text>
<line x1="84.60" y1="157.42" x2="87.30" y2="157.42" stroke="#333" stroke-width="0.8"/>
<text x="82.30" y="167.73" font-size="5.9" text-anchor="end" fill="#1e1e1e" >MPP</text>
<line x1="84.60" y1="165.64" x2="87.30" y2="165.64" stroke="#333" stroke-width="0.8"/>
<text x="82.30" y="175.95" font-size="5.9" text-anchor="end" fill="#1e1e1e" >ELP</text>
<line x1="84.60" y1="173.86" x2="87.30" y2="173.86" stroke="#333" stroke-width="0.8"/>
<text x="82.30" y="184.17" font-size="5.9" text-anchor="end" fill="#1e1e1e" >Pre_B_cells_I</text>
<line x1="84.60" y1="182.08" x2="87.30" y2="182.08" stroke="#333" stroke-width="0.8"/>
<text x="82.30" y="192.39" font-size="5.9" text-anchor="end" fill="#1e1e1e" >Undefined_Myeloid_like_I</text>
<line x1="84.60" y1="190.30" x2="87.30" y2="190.30" stroke="#333" stroke-width="0.8"/>
<text x="82.30" y="200.61" font-size="5.9" text-anchor="end" fill="#1e1e1e" >Neutrophils_I</text>
<line x1="84.60" y1="198.52" x2="87.30" y2="198.52" stroke="#333" stroke-width="0.8"/>
<text x="82.30" y="208.83" font-size="5.9" text-anchor="end" fill="#1e1e1e" >Neutrophils_II</text>
<line x1="84.60" y1="206.74" x2="87.30" y2="206.74" stroke="#333" stroke-width="0.8"/>
<text x="82.30" y="217.05" font-size="5.9" text-anchor="end" fill="#1e1e1e" >Neutrophils_III</text>
<line x1="84.60" y1="214.96" x2="87.30" y2="214.96" stroke="#333" stroke-width="0.8"/>
<text x="82.30" y="225.27" font-size="5.9" text-anchor="end" fill="#1e1e1e" >Monocytes</text>
<line x1="84.60" y1="223.18" x2="87.30" y2="223.18" stroke="#333" stroke-width="0.8"/>
<text x="82.30" y="233.49" font-size="5.9" text-anchor="end" fill="#1e1e1e" >Granulocytes</text>
<line x1="84.60" y1="231.40" x2="87.30" y2="231.40" stroke="#333" stroke-width="0.8"/>
<line x1="116.20" y1="144.50" x2="116.20" y2="236.50" stroke="#444" stroke-width="0.6"/>
<rect x="116.20" y="145.70" width="3.40" height="7.00" fill="#ac1832" />
<rect x="114.30" y="162.14" width="1.90" height="7.00" fill="#283f86" />
<rect x="116.20" y="162.14" width="4.10" height="7.00" fill="#ac1832" />
<rect x="110.40" y="170.36" width="5.80" height="7.00" fill="#283f86" />
<rect x="116.20" y="170.36" width="19.10" height="7.00" fill="#ac1832" />
<rect x="111.50" y="186.80" width="4.70" height="7.00" fill="#283f86" />
<rect x="116.20" y="186.80" width="4.60" height="7.00" fill="#ac1832" />
<rect x="90.80" y="195.02" width="25.40" height="7.00" fill="#283f86" />
<rect x="116.20" y="195.02" width="2.80" height="7.00" fill="#ac1832" />
<rect x="116.20" y="203.24" width="0.90" height="7.00" fill="#ac1832" />
<rect x="99.50" y="211.46" width="16.70" height="7.00" fill="#283f86" />
<rect x="116.20" y="211.46" width="7.30" height="7.00" fill="#ac1832" />
<line x1="87.30" y1="143.50" x2="87.30" y2="237.00" stroke="#333" stroke-width="1.0"/>
<line x1="86.80" y1="236.60" x2="145.50" y2="236.60" stroke="#333" stroke-width="1.0"/>
<line x1="91.20" y1="236.60" x2="91.20" y2="239.00" stroke="#333" stroke-width="0.8"/>
<text x="93.00" y="245.84" font-size="6.3" text-anchor="end" fill="#222" transform="rotate(-45 93.00 243.60)" >−200</text>
<line x1="103.77" y1="236.60" x2="103.77" y2="239.00" stroke="#333" stroke-width="0.8"/>
<text x="105.57" y="245.84" font-size="6.3" text-anchor="end" fill="#222" transform="rotate(-45 105.57 243.60)" >−100</text>
<line x1="116.34" y1="236.60" x2="116.34" y2="239.00" stroke="#333" stroke-width="0.8"/>
<text x="118.14" y="245.84" font-size="6.3" text-anchor="end" fill="#222" transform="rotate(-45 118.14 243.60)" >0</text>
<line x1="128.91" y1="236.60" x2="128.91" y2="239.00" stroke="#333" stroke-width="0.8"/>
<text x="130.71" y="245.84" font-size="6.3" text-anchor="end" fill="#222" transform="rotate(-45 130.71 243.60)" >100</text>
<line x1="141.48" y1="236.60" x2="141.48" y2="239.00" stroke="#333" stroke-width="0.8"/>
<text x="143.28" y="245.84" font-size="6.3" text-anchor="end" fill="#222" transform="rotate(-45 143.28 243.60)" >200</text>
<text x="116.40" y="261.97" font-size="7.8" text-anchor="middle" fill="#1e1e1e" font-weight="bold" textLength="41.5" lengthAdjust="spacingAndGlyphs" >Significant DEGs</text>
<rect x="90.80" y="148.20" width="4.80" height="4.80" fill="#ac1832" />
<text x="97.50" y="152.80" font-size="6.2" text-anchor="start" fill="#1e1e1e" >Up</text>
<rect x="90.80" y="156.80" width="4.80" height="4.80" fill="#283f86" />
<text x="97.50" y="161.40" font-size="6.2" text-anchor="start" fill="#1e1e1e" >Down</text>
<text x="212.85" y="137.13" font-size="6.0" text-anchor="middle" fill="#1e1e1e" >Cluster: HSC</text>
<text x="212.85" y="144.99" font-size="5.6" text-anchor="middle" fill="#1e1e1e" textLength="54" lengthAdjust="spacingAndGlyphs"><tspan font-style="italic">Etv6</tspan><tspan font-size="3.36" dy="-2.13" font-style="italic">R355X/+</tspan><tspan dy="2.13"> vs </tspan><tspan font-style="italic">Etv6</tspan><tspan font-size="3.36" dy="-2.13" font-style="italic">+/+</tspan></text>
<line x1="198.15" y1="151.00" x2="198.15" y2="234.60" stroke="#666" stroke-width="0.6" stroke-dasharray="1.6,1.0"/>
<line x1="217.65" y1="151.00" x2="217.65" y2="234.60" stroke="#666" stroke-width="0.6" stroke-dasharray="1.6,1.0"/>
<line x1="175.70" y1="215.45" x2="253.00" y2="215.45" stroke="#666" stroke-width="0.7" stroke-dasharray="1.8,1.0"/>
<g fill="#2a2a2a" fill-opacity="0.72">
<circle cx="203.6" cy="217.2" r="0.85"/>
<circle cx="203.4" cy="229.7" r="0.85"/>
<circle cx="203.9" cy="221.9" r="0.85"/>
<circle cx="213.1" cy="218.7" r="0.85"/>
<circle cx="214.5" cy="225.2" r="0.85"/>
<circle cx="216.2" cy="223.2" r="0.85"/>
<circle cx="216.1" cy="223.3" r="0.85"/>
<circle cx="214.5" cy="217.1" r="0.85"/>
<circle cx="204.0" cy="229.4" r="0.85"/>
<circle cx="200.8" cy="228.8" r="0.85"/>
<circle cx="200.7" cy="217.3" r="0.85"/>
<circle cx="202.2" cy="226.6" r="0.85"/>
<circle cx="215.2" cy="225.5" r="0.85"/>
<circle cx="213.9" cy="223.4" r="0.85"/>
<circle cx="200.9" cy="224.9" r="0.85"/>
<circle cx="200.2" cy="229.8" r="0.85"/>
<circle cx="204.9" cy="224.1" r="0.85"/>
<circle cx="211.2" cy="226.2" r="0.85"/>
<circle cx="211.4" cy="230.3" r="0.85"/>
<circle cx="204.7" cy="227.7" r="0.85"/>
<circle cx="204.4" cy="221.6" r="0.85"/>
<circle cx="214.3" cy="228.5" r="0.85"/>
<circle cx="202.5" cy="219.6" r="0.85"/>
<circle cx="212.5" cy="221.0" r="0.85"/>
<circle cx="210.3" cy="227.6" r="0.85"/>
<circle cx="213.6" cy="222.3" r="0.85"/>
<circle cx="211.9" cy="217.8" r="0.85"/>
<circle cx="202.9" cy="217.4" r="0.85"/>
<circle cx="210.7" cy="225.6" r="0.85"/>
<circle cx="215.9" cy="222.5" r="0.85"/>
<circle cx="201.3" cy="225.2" r="0.85"/>
<circle cx="203.2" cy="221.1" r="0.85"/>
<circle cx="205.2" cy="220.6" r="0.85"/>
<circle cx="205.3" cy="221.1" r="0.85"/>
<circle cx="213.5" cy="218.9" r="0.85"/>
<circle cx="212.6" cy="227.1" r="0.85"/>
<circle cx="201.8" cy="220.4" r="0.85"/>
<circle cx="204.4" cy="223.0" r="0.85"/>
<circle cx="203.4" cy="228.5" r="0.85"/>
<circle cx="213.6" cy="229.5" r="0.85"/>
<circle cx="216.1" cy="215.7" r="0.85"/>
<circle cx="206.0" cy="226.4" r="0.85"/>
<circle cx="209.5" cy="229.2" r="0.85"/>
<circle cx="216.1" cy="216.6" r="0.85"/>
<circle cx="208.7" cy="227.4" r="0.85"/>
<circle cx="214.6" cy="223.0" r="0.85"/>
<circle cx="204.1" cy="219.4" r="0.85"/>
<circle cx="211.0" cy="220.5" r="0.85"/>
<circle cx="212.5" cy="224.8" r="0.85"/>
<circle cx="210.7" cy="227.0" r="0.85"/>
<circle cx="216.0" cy="229.8" r="0.85"/>
<circle cx="202.5" cy="223.3" r="0.85"/>
<circle cx="214.2" cy="217.6" r="0.85"/>
<circle cx="212.6" cy="229.0" r="0.85"/>
<circle cx="209.7" cy="228.7" r="0.85"/>
<circle cx="207.9" cy="226.9" r="0.85"/>
<circle cx="214.1" cy="221.0" r="0.85"/>
<circle cx="208.6" cy="229.2" r="0.85"/>
<circle cx="200.8" cy="223.4" r="0.85"/>
<circle cx="215.1" cy="223.5" r="0.85"/>
<circle cx="212.6" cy="225.3" r="0.85"/>
<circle cx="214.1" cy="217.0" r="0.85"/>
<circle cx="204.7" cy="224.9" r="0.85"/>
<circle cx="211.7" cy="225.9" r="0.85"/>
<circle cx="212.1" cy="226.3" r="0.85"/>
<circle cx="213.0" cy="225.2" r="0.85"/>
<circle cx="216.1" cy="219.4" r="0.85"/>
<circle cx="211.8" cy="225.3" r="0.85"/>
<circle cx="202.7" cy="218.1" r="0.85"/>
<circle cx="216.1" cy="220.1" r="0.85"/>
<circle cx="206.7" cy="226.0" r="0.85"/>
<circle cx="216.2" cy="228.0" r="0.85"/>
<circle cx="213.1" cy="223.7" r="0.85"/>
<circle cx="201.3" cy="218.2" r="0.85"/>
<circle cx="203.1" cy="215.9" r="0.85"/>
<circle cx="209.1" cy="227.7" r="0.85"/>
<circle cx="203.4" cy="216.1" r="0.85"/>
<circle cx="205.8" cy="226.1" r="0.85"/>
<circle cx="204.0" cy="216.2" r="0.85"/>
<circle cx="204.1" cy="226.2" r="0.85"/>
<circle cx="211.7" cy="227.9" r="0.85"/>
<circle cx="214.4" cy="229.9" r="0.85"/>
<circle cx="210.5" cy="229.9" r="0.85"/>
<circle cx="215.7" cy="216.7" r="0.85"/>
<circle cx="214.2" cy="229.7" r="0.85"/>
<circle cx="210.0" cy="228.2" r="0.85"/>
<circle cx="214.6" cy="220.9" r="0.85"/>
<circle cx="202.4" cy="222.2" r="0.85"/>
<circle cx="215.6" cy="217.9" r="0.85"/>
<circle cx="202.2" cy="219.2" r="0.85"/>
<circle cx="203.3" cy="219.8" r="0.85"/>
<circle cx="201.6" cy="228.0" r="0.85"/>
<circle cx="204.7" cy="225.8" r="0.85"/>
<circle cx="209.4" cy="225.9" r="0.85"/>
<circle cx="214.9" cy="228.6" r="0.85"/>
<circle cx="212.6" cy="216.4" r="0.85"/>
<circle cx="202.9" cy="219.2" r="0.85"/>
<circle cx="203.3" cy="217.4" r="0.85"/>
<circle cx="203.3" cy="221.2" r="0.85"/>
<circle cx="211.6" cy="220.4" r="0.85"/>
<circle cx="211.9" cy="224.8" r="0.85"/>
<circle cx="214.7" cy="224.3" r="0.85"/>
<circle cx="214.2" cy="221.5" r="0.85"/>
<circle cx="200.7" cy="227.8" r="0.85"/>
<circle cx="212.0" cy="219.3" r="0.85"/>
<circle cx="200.6" cy="223.1" r="0.85"/>
<circle cx="202.8" cy="224.8" r="0.85"/>
<circle cx="200.5" cy="219.0" r="0.85"/>
<circle cx="209.9" cy="224.8" r="0.85"/>
<circle cx="214.1" cy="218.2" r="0.85"/>
<circle cx="213.5" cy="220.8" r="0.85"/>
<circle cx="211.0" cy="220.9" r="0.85"/>
<circle cx="203.7" cy="219.2" r="0.85"/>
<circle cx="201.2" cy="226.2" r="0.85"/>
<circle cx="216.0" cy="224.1" r="0.85"/>
<circle cx="210.9" cy="227.0" r="0.85"/>
<circle cx="201.2" cy="216.4" r="0.85"/>
<circle cx="200.4" cy="219.3" r="0.85"/>
<circle cx="214.4" cy="219.3" r="0.85"/>
<circle cx="201.6" cy="224.5" r="0.85"/>
<circle cx="212.7" cy="219.3" r="0.85"/>
<circle cx="205.6" cy="222.3" r="0.85"/>
<circle cx="215.2" cy="229.5" r="0.85"/>
<circle cx="215.0" cy="221.8" r="0.85"/>
<circle cx="203.5" cy="222.2" r="0.85"/>
<circle cx="210.9" cy="222.7" r="0.85"/>
<circle cx="200.6" cy="228.5" r="0.85"/>
<circle cx="200.2" cy="218.6" r="0.85"/>
<circle cx="200.9" cy="220.4" r="0.85"/>
<circle cx="214.2" cy="228.4" r="0.85"/>
<circle cx="201.4" cy="216.4" r="0.85"/>
<circle cx="201.6" cy="228.6" r="0.85"/>
<circle cx="201.0" cy="226.8" r="0.85"/>
<circle cx="204.4" cy="218.8" r="0.85"/>
<circle cx="200.2" cy="226.4" r="0.85"/>
<circle cx="205.7" cy="226.6" r="0.85"/>
<circle cx="215.7" cy="230.2" r="0.85"/>
<circle cx="203.6" cy="223.6" r="0.85"/>
<circle cx="216.0" cy="217.5" r="0.85"/>
<circle cx="205.0" cy="227.6" r="0.85"/>
<circle cx="214.7" cy="229.4" r="0.85"/>
<circle cx="202.4" cy="227.0" r="0.85"/>
<circle cx="201.8" cy="230.3" r="0.85"/>
<circle cx="210.3" cy="229.5" r="0.85"/>
<circle cx="212.2" cy="229.3" r="0.85"/>
<circle cx="214.5" cy="223.9" r="0.85"/>
<circle cx="204.8" cy="225.2" r="0.85"/>
<circle cx="209.1" cy="225.4" r="0.85"/>
<circle cx="212.2" cy="219.1" r="0.85"/>
<circle cx="202.9" cy="218.3" r="0.85"/>
<circle cx="205.9" cy="229.4" r="0.85"/>
<circle cx="213.9" cy="222.7" r="0.85"/>
<circle cx="203.6" cy="216.4" r="0.85"/>
<circle cx="201.6" cy="220.3" r="0.85"/>
<circle cx="202.5" cy="216.0" r="0.85"/>
<circle cx="206.0" cy="230.1" r="0.85"/>
<circle cx="203.4" cy="220.4" r="0.85"/>
<circle cx="213.1" cy="220.9" r="0.85"/>
<circle cx="214.9" cy="226.9" r="0.85"/>
<circle cx="204.3" cy="218.7" r="0.85"/>
<circle cx="201.8" cy="223.1" r="0.85"/>
<circle cx="200.9" cy="221.0" r="0.85"/>
<circle cx="202.8" cy="224.3" r="0.85"/>
<circle cx="213.3" cy="215.9" r="0.85"/>
<circle cx="206.2" cy="229.2" r="0.85"/>
<circle cx="203.3" cy="218.1" r="0.85"/>
<circle cx="200.2" cy="224.6" r="0.85"/>
<circle cx="214.4" cy="216.7" r="0.85"/>
<circle cx="202.8" cy="218.2" r="0.85"/>
<circle cx="213.2" cy="224.6" r="0.85"/>
<circle cx="203.5" cy="218.4" r="0.85"/>
<circle cx="205.1" cy="220.2" r="0.85"/>
<circle cx="204.9" cy="222.6" r="0.85"/>
<circle cx="205.9" cy="224.2" r="0.85"/>
<circle cx="216.1" cy="217.9" r="0.85"/>
<circle cx="212.5" cy="221.3" r="0.85"/>
<circle cx="200.9" cy="218.8" r="0.85"/>
<circle cx="212.6" cy="217.1" r="0.85"/>
<circle cx="209.7" cy="223.8" r="0.85"/>
<circle cx="201.3" cy="218.5" r="0.85"/>
<circle cx="209.5" cy="229.3" r="0.85"/>
<circle cx="215.1" cy="216.4" r="0.85"/>
<circle cx="211.5" cy="227.0" r="0.85"/>
<circle cx="213.7" cy="227.6" r="0.85"/>
<circle cx="204.5" cy="224.4" r="0.85"/>
<circle cx="211.3" cy="221.8" r="0.85"/>
<circle cx="202.0" cy="215.5" r="0.85"/>
<circle cx="203.0" cy="219.8" r="0.85"/>
<circle cx="200.6" cy="218.0" r="0.85"/>
<circle cx="213.1" cy="229.1" r="0.85"/>
<circle cx="202.5" cy="229.9" r="0.85"/>
<circle cx="200.2" cy="228.7" r="0.85"/>
<circle cx="201.4" cy="217.2" r="0.85"/>
<circle cx="216.2" cy="221.8" r="0.85"/>
<circle cx="211.1" cy="219.2" r="0.85"/>
<circle cx="205.2" cy="230.0" r="0.85"/>
<circle cx="212.6" cy="224.5" r="0.85"/>
<circle cx="202.2" cy="221.6" r="0.85"/>
<circle cx="201.8" cy="217.6" r="0.85"/>
<circle cx="206.6" cy="229.9" r="0.85"/>
<circle cx="200.5" cy="216.2" r="0.85"/>
<circle cx="200.3" cy="216.5" r="0.85"/>
<circle cx="207.7" cy="228.5" r="0.85"/>
<circle cx="215.3" cy="226.5" r="0.85"/>
<circle cx="200.8" cy="221.9" r="0.85"/>
<circle cx="214.0" cy="218.3" r="0.85"/>
<circle cx="202.9" cy="222.3" r="0.85"/>
<circle cx="211.1" cy="229.9" r="0.85"/>
<circle cx="212.0" cy="221.7" r="0.85"/>
<circle cx="212.2" cy="222.2" r="0.85"/>
<circle cx="211.4" cy="226.5" r="0.85"/>
<circle cx="212.2" cy="221.2" r="0.85"/>
<circle cx="213.8" cy="226.0" r="0.85"/>
<circle cx="210.3" cy="230.4" r="0.85"/>
<circle cx="214.7" cy="216.2" r="0.85"/>
<circle cx="209.3" cy="224.6" r="0.85"/>
<circle cx="212.2" cy="216.2" r="0.85"/>
<circle cx="202.6" cy="228.6" r="0.85"/>
<circle cx="207.0" cy="226.2" r="0.85"/>
<circle cx="211.7" cy="224.5" r="0.85"/>
<circle cx="202.5" cy="224.1" r="0.85"/>
<circle cx="211.3" cy="228.3" r="0.85"/>
<circle cx="215.0" cy="217.2" r="0.85"/>
<circle cx="212.8" cy="228.1" r="0.85"/>
<circle cx="212.6" cy="228.2" r="0.85"/>
<circle cx="215.3" cy="215.9" r="0.85"/>
<circle cx="203.8" cy="217.9" r="0.85"/>
<circle cx="204.1" cy="228.7" r="0.85"/>
<circle cx="205.0" cy="221.7" r="0.85"/>
<circle cx="212.6" cy="217.5" r="0.85"/>
<circle cx="203.8" cy="216.7" r="0.85"/>
<circle cx="202.7" cy="228.9" r="0.85"/>
<circle cx="215.1" cy="218.2" r="0.85"/>
<circle cx="204.5" cy="221.0" r="0.85"/>
<circle cx="212.3" cy="229.9" r="0.85"/>
<circle cx="215.5" cy="220.9" r="0.85"/>
<circle cx="216.1" cy="216.0" r="0.85"/>
<circle cx="215.1" cy="219.8" r="0.85"/>
<circle cx="208.8" cy="229.0" r="0.85"/>
<circle cx="213.5" cy="223.8" r="0.85"/>
<circle cx="212.0" cy="215.7" r="0.85"/>
<circle cx="211.5" cy="217.0" r="0.85"/>
<circle cx="210.9" cy="219.4" r="0.85"/>
<circle cx="214.5" cy="222.7" r="0.85"/>
<circle cx="204.8" cy="223.1" r="0.85"/>
<circle cx="213.8" cy="220.1" r="0.85"/>
<circle cx="213.4" cy="216.5" r="0.85"/>
<circle cx="214.2" cy="221.8" r="0.85"/>
<circle cx="202.7" cy="226.0" r="0.85"/>
<circle cx="212.9" cy="227.3" r="0.85"/>
<circle cx="211.4" cy="229.3" r="0.85"/>
<circle cx="204.1" cy="218.9" r="0.85"/>
<circle cx="215.0" cy="224.9" r="0.85"/>
<circle cx="212.9" cy="222.6" r="0.85"/>
<circle cx="204.0" cy="218.7" r="0.85"/>
<circle cx="211.6" cy="219.6" r="0.85"/>
<circle cx="204.4" cy="222.2" r="0.85"/>
<circle cx="202.2" cy="222.7" r="0.85"/>
<circle cx="202.9" cy="221.9" r="0.85"/>
<circle cx="211.1" cy="218.6" r="0.85"/>
<circle cx="213.2" cy="229.8" r="0.85"/>
<circle cx="205.7" cy="224.3" r="0.85"/>
<circle cx="204.4" cy="217.6" r="0.85"/>
<circle cx="211.8" cy="220.7" r="0.85"/>
<circle cx="200.9" cy="215.7" r="0.85"/>
<circle cx="215.4" cy="227.1" r="0.85"/>
<circle cx="214.8" cy="216.0" r="0.85"/>
<circle cx="201.7" cy="229.3" r="0.85"/>
<circle cx="201.6" cy="220.2" r="0.85"/>
<circle cx="214.6" cy="221.9" r="0.85"/>
<circle cx="206.6" cy="229.7" r="0.85"/>
<circle cx="211.4" cy="222.8" r="0.85"/>
<circle cx="202.4" cy="229.4" r="0.85"/>
<circle cx="201.9" cy="221.2" r="0.85"/>
<circle cx="213.5" cy="225.7" r="0.85"/>
<circle cx="204.3" cy="222.4" r="0.85"/>
<circle cx="215.3" cy="220.3" r="0.85"/>
<circle cx="213.6" cy="217.7" r="0.85"/>
<circle cx="213.6" cy="226.0" r="0.85"/>
<circle cx="209.5" cy="226.9" r="0.85"/>
<circle cx="208.6" cy="229.7" r="0.85"/>
<circle cx="212.3" cy="215.6" r="0.85"/>
<circle cx="208.4" cy="228.4" r="0.85"/>
<circle cx="213.8" cy="220.7" r="0.85"/>
<circle cx="209.0" cy="230.1" r="0.85"/>
<circle cx="202.8" cy="219.3" r="0.85"/>
<circle cx="215.9" cy="226.6" r="0.85"/>
<circle cx="203.0" cy="227.0" r="0.85"/>
<circle cx="214.1" cy="215.9" r="0.85"/>
<circle cx="204.4" cy="230.3" r="0.85"/>
<circle cx="206.0" cy="224.8" r="0.85"/>
<circle cx="213.0" cy="224.0" r="0.85"/>
<circle cx="213.0" cy="216.7" r="0.85"/>
<circle cx="215.7" cy="228.6" r="0.85"/>
<circle cx="203.7" cy="219.7" r="0.85"/>
<circle cx="212.2" cy="216.8" r="0.85"/>
<circle cx="211.2" cy="223.2" r="0.85"/>
<circle cx="213.6" cy="229.9" r="0.85"/>
<circle cx="210.7" cy="224.0" r="0.85"/>
<circle cx="205.0" cy="224.7" r="0.85"/>
<circle cx="215.8" cy="225.3" r="0.85"/>
<circle cx="214.6" cy="217.3" r="0.85"/>
<circle cx="201.7" cy="226.9" r="0.85"/>
<circle cx="211.5" cy="219.1" r="0.85"/>
<circle cx="205.5" cy="223.7" r="0.85"/>
<circle cx="214.9" cy="227.3" r="0.85"/>
<circle cx="215.0" cy="225.8" r="0.85"/>
<circle cx="208.7" cy="226.9" r="0.85"/>
<circle cx="211.2" cy="219.8" r="0.85"/>
<circle cx="201.3" cy="215.8" r="0.85"/>
<circle cx="205.5" cy="227.4" r="0.85"/>
<circle cx="216.1" cy="226.8" r="0.85"/>
<circle cx="201.7" cy="226.2" r="0.85"/>
<circle cx="210.3" cy="222.0" r="0.85"/>
<circle cx="208.2" cy="228.2" r="0.85"/>
<circle cx="200.2" cy="225.7" r="0.85"/>
<circle cx="211.3" cy="223.9" r="0.85"/>
<circle cx="210.8" cy="221.3" r="0.85"/>
<circle cx="212.6" cy="223.0" r="0.85"/>
<circle cx="211.5" cy="217.6" r="0.85"/>
<circle cx="211.2" cy="225.1" r="0.85"/>
<circle cx="202.8" cy="227.6" r="0.85"/>
<circle cx="202.7" cy="221.0" r="0.85"/>
<circle cx="211.5" cy="224.9" r="0.85"/>
<circle cx="207.6" cy="226.9" r="0.85"/>
<circle cx="203.8" cy="226.3" r="0.85"/>
<circle cx="203.6" cy="230.1" r="0.85"/>
<circle cx="212.6" cy="218.5" r="0.85"/>
<circle cx="203.1" cy="223.9" r="0.85"/>
<circle cx="210.4" cy="229.1" r="0.85"/>
<circle cx="215.7" cy="222.9" r="0.85"/>
<circle cx="200.3" cy="223.4" r="0.85"/>
<circle cx="215.7" cy="219.1" r="0.85"/>
<circle cx="215.5" cy="220.0" r="0.85"/>
<circle cx="213.6" cy="218.0" r="0.85"/>
<circle cx="215.4" cy="229.2" r="0.85"/>
<circle cx="213.6" cy="215.7" r="0.85"/>
<circle cx="211.6" cy="220.0" r="0.85"/>
<circle cx="204.9" cy="228.7" r="0.85"/>
<circle cx="203.1" cy="228.9" r="0.85"/>
<circle cx="205.9" cy="227.4" r="0.85"/>
<circle cx="202.3" cy="218.7" r="0.85"/>
<circle cx="216.1" cy="229.7" r="0.85"/>
<circle cx="204.8" cy="228.9" r="0.85"/>
<circle cx="203.9" cy="223.3" r="0.85"/>
<circle cx="200.1" cy="220.6" r="0.85"/>
<circle cx="210.4" cy="225.8" r="0.85"/>
<circle cx="204.6" cy="225.5" r="0.85"/>
<circle cx="211.8" cy="223.1" r="0.85"/>
<circle cx="214.3" cy="227.0" r="0.85"/>
<circle cx="204.0" cy="223.8" r="0.85"/>
<circle cx="211.0" cy="229.5" r="0.85"/>
<circle cx="205.8" cy="225.4" r="0.85"/>
<circle cx="211.0" cy="225.3" r="0.85"/>
<circle cx="207.2" cy="228.5" r="0.85"/>
<circle cx="200.8" cy="226.3" r="0.85"/>
<circle cx="200.5" cy="225.6" r="0.85"/>
<circle cx="213.7" cy="222.8" r="0.85"/>
<circle cx="213.4" cy="228.3" r="0.85"/>
<circle cx="204.1" cy="227.5" r="0.85"/>
<circle cx="211.6" cy="227.7" r="0.85"/>
<circle cx="200.6" cy="220.1" r="0.85"/>
<circle cx="203.5" cy="226.5" r="0.85"/>
<circle cx="214.7" cy="229.0" r="0.85"/>
<circle cx="210.2" cy="223.8" r="0.85"/>
<circle cx="212.5" cy="225.9" r="0.85"/>
<circle cx="202.7" cy="222.5" r="0.85"/>
<circle cx="210.1" cy="222.0" r="0.85"/>
<circle cx="215.4" cy="217.5" r="0.85"/>
<circle cx="213.3" cy="218.5" r="0.85"/>
<circle cx="211.3" cy="218.1" r="0.85"/>
<circle cx="201.1" cy="215.8" r="0.85"/>
<circle cx="205.5" cy="225.0" r="0.85"/>
<circle cx="204.1" cy="220.1" r="0.85"/>
<circle cx="207.1" cy="229.2" r="0.85"/>
<circle cx="215.2" cy="220.6" r="0.85"/>
<circle cx="200.7" cy="221.2" r="0.85"/>
<circle cx="202.9" cy="228.0" r="0.85"/>
<circle cx="202.2" cy="226.8" r="0.85"/>
<circle cx="207.1" cy="226.7" r="0.85"/>
<circle cx="214.3" cy="219.9" r="0.85"/>
<circle cx="201.8" cy="216.1" r="0.85"/>
<circle cx="213.4" cy="224.9" r="0.85"/>
<circle cx="204.4" cy="229.6" r="0.85"/>
<circle cx="206.9" cy="227.0" r="0.85"/>
<circle cx="200.4" cy="229.1" r="0.85"/>
<circle cx="214.0" cy="224.0" r="0.85"/>
<circle cx="214.4" cy="228.0" r="0.85"/>
<circle cx="200.9" cy="227.7" r="0.85"/>
<circle cx="200.8" cy="225.6" r="0.85"/>
<circle cx="215.5" cy="215.7" r="0.85"/>
<circle cx="211.7" cy="216.5" r="0.85"/>
</g>
<g fill="#3f9a3a" fill-opacity="0.85">
<circle cx="219.6" cy="216.9" r="1.05"/>
<circle cx="222.5" cy="218.4" r="1.05"/>
<circle cx="220.6" cy="221.4" r="1.05"/>
<circle cx="224.5" cy="219.9" r="1.05"/>
<circle cx="218.6" cy="223.8" r="1.05"/>
<circle cx="226.4" cy="225.3" r="1.05"/>
<circle cx="221.6" cy="226.8" r="1.05"/>
<circle cx="229.4" cy="226.2" r="1.05"/>
<circle cx="223.5" cy="228.6" r="1.05"/>
<circle cx="227.4" cy="229.5" r="1.05"/>
<circle cx="219.6" cy="228.0" r="1.05"/>
<circle cx="196.2" cy="226.5" r="1.05"/>
<circle cx="193.3" cy="223.8" r="1.05"/>
<circle cx="195.2" cy="219.9" r="1.05"/>
<circle cx="197.2" cy="228.9" r="1.05"/>
<circle cx="221.6" cy="222.9" r="1.05"/>
<circle cx="218.1" cy="219.3" r="1.05"/>
<circle cx="225.5" cy="222.6" r="1.05"/>
</g>
<g fill="#4060c8" fill-opacity="0.85">
<circle cx="215.4" cy="206.0" r="1.05"/>
<circle cx="200.6" cy="208.3" r="1.05"/>
<circle cx="215.6" cy="205.6" r="1.05"/>
<circle cx="214.2" cy="212.6" r="1.05"/>
<circle cx="215.5" cy="204.8" r="1.05"/>
<circle cx="202.7" cy="212.7" r="1.05"/>
<circle cx="213.9" cy="211.2" r="1.05"/>
<circle cx="213.5" cy="212.0" r="1.05"/>
<circle cx="213.2" cy="215.0" r="1.05"/>
<circle cx="214.4" cy="207.7" r="1.05"/>
<circle cx="214.4" cy="207.9" r="1.05"/>
<circle cx="203.3" cy="214.2" r="1.05"/>
<circle cx="202.0" cy="213.8" r="1.05"/>
<circle cx="213.9" cy="214.4" r="1.05"/>
<circle cx="200.7" cy="206.9" r="1.05"/>
<circle cx="201.7" cy="212.6" r="1.05"/>
<circle cx="202.5" cy="211.7" r="1.05"/>
<circle cx="214.7" cy="212.2" r="1.05"/>
<circle cx="200.8" cy="206.8" r="1.05"/>
<circle cx="214.9" cy="207.5" r="1.05"/>
<circle cx="201.1" cy="210.0" r="1.05"/>
<circle cx="200.7" cy="207.6" r="1.05"/>
<circle cx="201.0" cy="213.0" r="1.05"/>
<circle cx="213.2" cy="214.1" r="1.05"/>
<circle cx="203.6" cy="215.2" r="1.05"/>
<circle cx="201.3" cy="208.6" r="1.05"/>
<circle cx="214.6" cy="209.8" r="1.05"/>
<circle cx="203.0" cy="213.3" r="1.05"/>
<circle cx="201.4" cy="207.5" r="1.05"/>
<circle cx="201.2" cy="211.0" r="1.05"/>
<circle cx="202.3" cy="212.2" r="1.05"/>
<circle cx="214.9" cy="212.8" r="1.05"/>
<circle cx="214.2" cy="210.2" r="1.05"/>
<circle cx="201.4" cy="210.2" r="1.05"/>
<circle cx="214.6" cy="208.4" r="1.05"/>
<circle cx="214.8" cy="212.3" r="1.05"/>
<circle cx="214.9" cy="206.3" r="1.05"/>
<circle cx="213.7" cy="214.5" r="1.05"/>
<circle cx="200.8" cy="206.4" r="1.05"/>
<circle cx="200.5" cy="208.0" r="1.05"/>
<circle cx="215.0" cy="207.8" r="1.05"/>
<circle cx="215.8" cy="204.8" r="1.05"/>
<circle cx="201.5" cy="214.8" r="1.05"/>
<circle cx="202.0" cy="209.9" r="1.05"/>
<circle cx="214.7" cy="209.7" r="1.05"/>
<circle cx="200.3" cy="206.6" r="1.05"/>
<circle cx="202.3" cy="212.8" r="1.05"/>
<circle cx="213.7" cy="214.2" r="1.05"/>
<circle cx="214.9" cy="209.5" r="1.05"/>
<circle cx="214.5" cy="212.8" r="1.05"/>
<circle cx="201.0" cy="209.3" r="1.05"/>
<circle cx="213.3" cy="213.7" r="1.05"/>
<circle cx="215.6" cy="206.4" r="1.05"/>
<circle cx="201.6" cy="211.7" r="1.05"/>
<circle cx="201.4" cy="210.6" r="1.05"/>
<circle cx="202.1" cy="214.4" r="1.05"/>
<circle cx="201.5" cy="209.5" r="1.05"/>
<circle cx="201.9" cy="211.4" r="1.05"/>
<circle cx="201.5" cy="208.9" r="1.05"/>
<circle cx="200.7" cy="210.1" r="1.05"/>
<circle cx="212.2" cy="215.2" r="1.05"/>
<circle cx="200.2" cy="206.6" r="1.05"/>
<circle cx="215.0" cy="208.6" r="1.05"/>
<circle cx="201.7" cy="214.4" r="1.05"/>
<circle cx="213.0" cy="213.4" r="1.05"/>
<circle cx="214.0" cy="210.4" r="1.05"/>
<circle cx="214.3" cy="209.2" r="1.05"/>
<circle cx="202.6" cy="214.9" r="1.05"/>
<circle cx="201.9" cy="209.3" r="1.05"/>
<circle cx="201.9" cy="210.7" r="1.05"/>
<circle cx="214.3" cy="214.5" r="1.05"/>
<circle cx="200.2" cy="206.1" r="1.05"/>
<circle cx="214.2" cy="215.3" r="1.05"/>
<circle cx="201.3" cy="213.3" r="1.05"/>
<circle cx="202.2" cy="211.9" r="1.05"/>
<circle cx="214.4" cy="213.3" r="1.05"/>
<circle cx="200.8" cy="212.1" r="1.05"/>
<circle cx="200.1" cy="196.0" r="1.05"/>
<circle cx="198.6" cy="212.5" r="1.05"/>
</g>
<g fill="#c8202e" fill-opacity="0.85">
<circle cx="218.1" cy="169.1" r="1.05"/>
<circle cx="218.6" cy="187.0" r="1.05"/>
<circle cx="219.6" cy="192.7" r="1.05"/>
<circle cx="222.5" cy="193.3" r="1.05"/>
<circle cx="234.2" cy="193.9" r="1.05"/>
<circle cx="220.6" cy="199.0" r="1.05"/>
<circle cx="225.5" cy="197.5" r="1.05"/>
<circle cx="229.4" cy="199.6" r="1.05"/>
<circle cx="223.5" cy="202.6" r="1.05"/>
<circle cx="231.3" cy="203.2" r="1.05"/>
<circle cx="218.1" cy="205.9" r="1.05"/>
<circle cx="226.4" cy="209.2" r="1.05"/>
<circle cx="219.6" cy="207.7" r="1.05"/>
<circle cx="220.6" cy="211.6" r="1.05"/>
<circle cx="218.6" cy="213.7" r="1.05"/>
<circle cx="196.2" cy="211.9" r="1.05"/>
<circle cx="197.2" cy="208.6" r="1.05"/>
<circle cx="223.5" cy="205.6" r="1.05"/>
<circle cx="221.1" cy="209.5" r="1.05"/>
</g>
<line x1="175.70" y1="151.00" x2="175.70" y2="235.00" stroke="#222" stroke-width="1.0"/>
<line x1="175.30" y1="234.60" x2="253.00" y2="234.60" stroke="#222" stroke-width="1.0"/>
<line x1="172.70" y1="230.40" x2="175.70" y2="230.40" stroke="#222" stroke-width="0.9"/>
<text x="170.90" y="232.57" font-size="6.1" text-anchor="end" fill="#1e1e1e" >0</text>
<line x1="172.70" y1="200.50" x2="175.70" y2="200.50" stroke="#222" stroke-width="0.9"/>
<text x="170.90" y="202.67" font-size="6.1" text-anchor="end" fill="#1e1e1e" >10</text>
<line x1="172.70" y1="170.60" x2="175.70" y2="170.60" stroke="#222" stroke-width="0.9"/>
<text x="170.90" y="172.77" font-size="6.1" text-anchor="end" fill="#1e1e1e" >20</text>
<line x1="188.40" y1="234.60" x2="188.40" y2="237.40" stroke="#222" stroke-width="0.9"/>
<text x="188.40" y="245.10" font-size="6.2" text-anchor="middle" fill="#1e1e1e" >−2</text>
<line x1="207.90" y1="234.60" x2="207.90" y2="237.40" stroke="#222" stroke-width="0.9"/>
<text x="207.90" y="245.10" font-size="6.2" text-anchor="middle" fill="#1e1e1e" >0</text>
<line x1="227.40" y1="234.60" x2="227.40" y2="237.40" stroke="#222" stroke-width="0.9"/>
<text x="227.40" y="245.10" font-size="6.2" text-anchor="middle" fill="#1e1e1e" >2</text>
<line x1="246.90" y1="234.60" x2="246.90" y2="237.40" stroke="#222" stroke-width="0.9"/>
<text x="246.90" y="245.10" font-size="6.2" text-anchor="middle" fill="#1e1e1e" >4</text>
<text x="214.30" y="253.90" font-size="7.6" text-anchor="middle" fill="#1e1e1e" textLength="42" lengthAdjust="spacingAndGlyphs" font-weight="bold"><tspan>Log</tspan><tspan font-size="4.56" dy="1.67">2</tspan><tspan dy="-1.67"> fold change</tspan></text>
<text x="315.70" y="137.13" font-size="6.0" text-anchor="middle" fill="#1e1e1e" >Cluster: MPP</text>
<text x="315.70" y="144.99" font-size="5.6" text-anchor="middle" fill="#1e1e1e" textLength="54" lengthAdjust="spacingAndGlyphs"><tspan font-style="italic">Etv6</tspan><tspan font-size="3.36" dy="-2.13" font-style="italic">R355X/+</tspan><tspan dy="2.13"> vs </tspan><tspan font-style="italic">Etv6</tspan><tspan font-size="3.36" dy="-2.13" font-style="italic">+/+</tspan></text>
<line x1="305.00" y1="148.00" x2="305.00" y2="234.50" stroke="#666" stroke-width="0.6" stroke-dasharray="1.6,1.0"/>
<line x1="322.60" y1="148.00" x2="322.60" y2="234.50" stroke="#666" stroke-width="0.6" stroke-dasharray="1.6,1.0"/>
<line x1="275.60" y1="204.30" x2="355.00" y2="204.30" stroke="#666" stroke-width="0.7" stroke-dasharray="1.8,1.0"/>
<g fill="#2a2a2a" fill-opacity="0.72">
<circle cx="321.0" cy="219.4" r="0.85"/>
<circle cx="307.6" cy="225.9" r="0.85"/>
<circle cx="316.8" cy="222.1" r="0.85"/>
<circle cx="309.4" cy="206.9" r="0.85"/>
<circle cx="308.9" cy="213.8" r="0.85"/>
<circle cx="306.9" cy="207.6" r="0.85"/>
<circle cx="318.1" cy="215.1" r="0.85"/>
<circle cx="306.5" cy="211.3" r="0.85"/>
<circle cx="309.0" cy="217.5" r="0.85"/>
<circle cx="318.2" cy="205.9" r="0.85"/>
<circle cx="307.8" cy="221.6" r="0.85"/>
<circle cx="306.0" cy="211.1" r="0.85"/>
<circle cx="307.7" cy="213.6" r="0.85"/>
<circle cx="310.4" cy="216.8" r="0.85"/>
<circle cx="319.8" cy="225.6" r="0.85"/>
<circle cx="306.2" cy="213.0" r="0.85"/>
<circle cx="308.0" cy="215.3" r="0.85"/>
<circle cx="319.2" cy="222.7" r="0.85"/>
<circle cx="321.0" cy="225.1" r="0.85"/>
<circle cx="318.0" cy="225.6" r="0.85"/>
<circle cx="305.4" cy="208.0" r="0.85"/>
<circle cx="309.7" cy="211.4" r="0.85"/>
<circle cx="309.6" cy="206.0" r="0.85"/>
<circle cx="306.8" cy="218.2" r="0.85"/>
<circle cx="313.8" cy="229.9" r="0.85"/>
<circle cx="316.2" cy="227.9" r="0.85"/>
<circle cx="317.7" cy="210.9" r="0.85"/>
<circle cx="317.1" cy="221.3" r="0.85"/>
<circle cx="322.0" cy="208.2" r="0.85"/>
<circle cx="310.1" cy="209.7" r="0.85"/>
<circle cx="319.7" cy="222.2" r="0.85"/>
<circle cx="309.1" cy="227.7" r="0.85"/>
<circle cx="319.0" cy="226.2" r="0.85"/>
<circle cx="321.1" cy="215.3" r="0.85"/>
<circle cx="307.9" cy="214.6" r="0.85"/>
<circle cx="309.6" cy="209.8" r="0.85"/>
<circle cx="317.6" cy="210.2" r="0.85"/>
<circle cx="308.6" cy="230.6" r="0.85"/>
<circle cx="318.2" cy="221.5" r="0.85"/>
<circle cx="310.9" cy="216.1" r="0.85"/>
<circle cx="307.6" cy="212.6" r="0.85"/>
<circle cx="308.9" cy="205.9" r="0.85"/>
<circle cx="318.8" cy="223.4" r="0.85"/>
<circle cx="320.1" cy="214.1" r="0.85"/>
<circle cx="322.1" cy="206.4" r="0.85"/>
<circle cx="309.2" cy="204.6" r="0.85"/>
<circle cx="321.1" cy="221.8" r="0.85"/>
<circle cx="308.7" cy="204.9" r="0.85"/>
<circle cx="318.2" cy="205.3" r="0.85"/>
<circle cx="321.0" cy="204.4" r="0.85"/>
<circle cx="321.7" cy="218.7" r="0.85"/>
<circle cx="317.6" cy="220.1" r="0.85"/>
<circle cx="316.3" cy="222.0" r="0.85"/>
<circle cx="318.1" cy="204.8" r="0.85"/>
<circle cx="309.5" cy="220.0" r="0.85"/>
<circle cx="316.4" cy="220.5" r="0.85"/>
<circle cx="316.9" cy="216.1" r="0.85"/>
<circle cx="310.3" cy="228.1" r="0.85"/>
<circle cx="308.6" cy="206.9" r="0.85"/>
<circle cx="322.2" cy="207.3" r="0.85"/>
<circle cx="318.5" cy="208.1" r="0.85"/>
<circle cx="316.9" cy="223.2" r="0.85"/>
<circle cx="320.6" cy="214.2" r="0.85"/>
<circle cx="316.5" cy="227.4" r="0.85"/>
<circle cx="311.3" cy="222.3" r="0.85"/>
<circle cx="320.6" cy="218.1" r="0.85"/>
<circle cx="310.3" cy="216.0" r="0.85"/>
<circle cx="320.2" cy="229.3" r="0.85"/>
<circle cx="312.3" cy="227.8" r="0.85"/>
<circle cx="321.8" cy="213.6" r="0.85"/>
<circle cx="311.1" cy="218.0" r="0.85"/>
<circle cx="316.5" cy="216.6" r="0.85"/>
<circle cx="311.1" cy="217.7" r="0.85"/>
<circle cx="317.5" cy="212.8" r="0.85"/>
<circle cx="307.9" cy="224.7" r="0.85"/>
<circle cx="320.5" cy="215.5" r="0.85"/>
<circle cx="305.5" cy="208.5" r="0.85"/>
<circle cx="308.1" cy="212.2" r="0.85"/>
<circle cx="308.2" cy="210.0" r="0.85"/>
<circle cx="317.3" cy="216.7" r="0.85"/>
<circle cx="321.1" cy="227.6" r="0.85"/>
<circle cx="321.4" cy="206.9" r="0.85"/>
<circle cx="309.7" cy="215.9" r="0.85"/>
<circle cx="312.2" cy="225.9" r="0.85"/>
<circle cx="308.5" cy="227.7" r="0.85"/>
<circle cx="311.8" cy="224.4" r="0.85"/>
<circle cx="319.6" cy="218.0" r="0.85"/>
<circle cx="320.6" cy="224.3" r="0.85"/>
<circle cx="318.9" cy="205.2" r="0.85"/>
<circle cx="319.0" cy="205.9" r="0.85"/>
<circle cx="306.9" cy="208.1" r="0.85"/>
<circle cx="305.4" cy="204.3" r="0.85"/>
<circle cx="321.7" cy="219.7" r="0.85"/>
<circle cx="320.9" cy="221.5" r="0.85"/>
<circle cx="307.0" cy="215.6" r="0.85"/>
<circle cx="312.4" cy="229.8" r="0.85"/>
<circle cx="305.9" cy="210.2" r="0.85"/>
<circle cx="322.6" cy="210.9" r="0.85"/>
<circle cx="308.0" cy="217.9" r="0.85"/>
<circle cx="320.0" cy="206.0" r="0.85"/>
<circle cx="319.8" cy="227.7" r="0.85"/>
<circle cx="318.9" cy="229.2" r="0.85"/>
<circle cx="318.4" cy="219.6" r="0.85"/>
<circle cx="316.3" cy="221.0" r="0.85"/>
<circle cx="310.1" cy="221.9" r="0.85"/>
<circle cx="319.9" cy="219.5" r="0.85"/>
<circle cx="309.7" cy="209.5" r="0.85"/>
<circle cx="318.3" cy="204.4" r="0.85"/>
<circle cx="317.9" cy="207.3" r="0.85"/>
<circle cx="318.8" cy="214.5" r="0.85"/>
<circle cx="308.7" cy="205.5" r="0.85"/>
<circle cx="320.2" cy="206.7" r="0.85"/>
<circle cx="311.1" cy="216.6" r="0.85"/>
<circle cx="306.2" cy="229.7" r="0.85"/>
<circle cx="309.9" cy="222.5" r="0.85"/>
<circle cx="318.5" cy="211.1" r="0.85"/>
<circle cx="307.9" cy="208.0" r="0.85"/>
<circle cx="310.6" cy="212.4" r="0.85"/>
<circle cx="307.5" cy="228.1" r="0.85"/>
<circle cx="321.3" cy="210.4" r="0.85"/>
<circle cx="320.2" cy="217.4" r="0.85"/>
<circle cx="318.0" cy="208.5" r="0.85"/>
<circle cx="321.8" cy="223.8" r="0.85"/>
<circle cx="316.1" cy="225.1" r="0.85"/>
<circle cx="319.1" cy="209.4" r="0.85"/>
<circle cx="309.5" cy="223.8" r="0.85"/>
<circle cx="307.3" cy="215.8" r="0.85"/>
<circle cx="320.5" cy="211.0" r="0.85"/>
<circle cx="318.2" cy="208.9" r="0.85"/>
<circle cx="320.3" cy="205.9" r="0.85"/>
<circle cx="322.2" cy="207.0" r="0.85"/>
<circle cx="312.9" cy="230.7" r="0.85"/>
<circle cx="320.6" cy="221.2" r="0.85"/>
<circle cx="322.2" cy="215.8" r="0.85"/>
<circle cx="318.3" cy="206.4" r="0.85"/>
<circle cx="322.2" cy="205.9" r="0.85"/>
<circle cx="307.3" cy="225.2" r="0.85"/>
<circle cx="321.9" cy="221.2" r="0.85"/>
<circle cx="322.0" cy="222.4" r="0.85"/>
<circle cx="308.9" cy="206.8" r="0.85"/>
<circle cx="319.9" cy="211.8" r="0.85"/>
<circle cx="321.3" cy="222.1" r="0.85"/>
<circle cx="320.9" cy="218.0" r="0.85"/>
<circle cx="308.5" cy="208.4" r="0.85"/>
<circle cx="309.7" cy="214.9" r="0.85"/>
<circle cx="307.2" cy="208.8" r="0.85"/>
<circle cx="319.7" cy="208.9" r="0.85"/>
<circle cx="322.5" cy="217.5" r="0.85"/>
<circle cx="318.8" cy="208.1" r="0.85"/>
<circle cx="307.2" cy="210.4" r="0.85"/>
<circle cx="306.4" cy="223.1" r="0.85"/>
<circle cx="309.1" cy="223.7" r="0.85"/>
<circle cx="317.3" cy="217.8" r="0.85"/>
<circle cx="319.5" cy="220.7" r="0.85"/>
<circle cx="319.7" cy="210.0" r="0.85"/>
<circle cx="317.8" cy="207.8" r="0.85"/>
<circle cx="309.3" cy="205.6" r="0.85"/>
<circle cx="310.7" cy="214.7" r="0.85"/>
<circle cx="306.5" cy="219.8" r="0.85"/>
<circle cx="318.9" cy="225.5" r="0.85"/>
<circle cx="305.0" cy="210.2" r="0.85"/>
<circle cx="317.1" cy="214.8" r="0.85"/>
<circle cx="309.1" cy="209.7" r="0.85"/>
<circle cx="310.6" cy="221.7" r="0.85"/>
<circle cx="321.2" cy="229.8" r="0.85"/>
<circle cx="310.1" cy="225.2" r="0.85"/>
<circle cx="319.3" cy="219.8" r="0.85"/>
<circle cx="319.0" cy="210.8" r="0.85"/>
<circle cx="315.9" cy="223.3" r="0.85"/>
<circle cx="306.0" cy="219.5" r="0.85"/>
<circle cx="307.1" cy="213.1" r="0.85"/>
<circle cx="306.5" cy="205.7" r="0.85"/>
<circle cx="320.6" cy="208.9" r="0.85"/>
<circle cx="321.4" cy="207.5" r="0.85"/>
<circle cx="308.1" cy="218.9" r="0.85"/>
<circle cx="317.0" cy="225.1" r="0.85"/>
<circle cx="317.1" cy="218.0" r="0.85"/>
<circle cx="320.2" cy="210.5" r="0.85"/>
<circle cx="317.5" cy="214.3" r="0.85"/>
<circle cx="307.8" cy="208.9" r="0.85"/>
<circle cx="322.0" cy="216.4" r="0.85"/>
<circle cx="317.9" cy="223.5" r="0.85"/>
<circle cx="318.2" cy="224.2" r="0.85"/>
<circle cx="306.5" cy="206.3" r="0.85"/>
<circle cx="320.8" cy="223.2" r="0.85"/>
<circle cx="312.0" cy="224.9" r="0.85"/>
<circle cx="309.9" cy="219.0" r="0.85"/>
<circle cx="321.5" cy="223.5" r="0.85"/>
<circle cx="319.7" cy="207.7" r="0.85"/>
<circle cx="318.7" cy="212.7" r="0.85"/>
<circle cx="314.7" cy="229.3" r="0.85"/>
<circle cx="306.9" cy="211.3" r="0.85"/>
<circle cx="318.6" cy="216.8" r="0.85"/>
<circle cx="309.5" cy="212.8" r="0.85"/>
<circle cx="320.0" cy="212.8" r="0.85"/>
<circle cx="321.6" cy="209.9" r="0.85"/>
<circle cx="307.2" cy="220.3" r="0.85"/>
<circle cx="306.8" cy="221.9" r="0.85"/>
<circle cx="317.7" cy="215.2" r="0.85"/>
<circle cx="310.4" cy="213.5" r="0.85"/>
<circle cx="322.3" cy="209.7" r="0.85"/>
<circle cx="308.4" cy="212.3" r="0.85"/>
<circle cx="310.4" cy="224.2" r="0.85"/>
<circle cx="308.4" cy="219.3" r="0.85"/>
<circle cx="308.6" cy="219.2" r="0.85"/>
<circle cx="305.8" cy="223.5" r="0.85"/>
<circle cx="305.3" cy="230.7" r="0.85"/>
<circle cx="317.7" cy="220.7" r="0.85"/>
<circle cx="316.2" cy="223.0" r="0.85"/>
<circle cx="305.6" cy="214.3" r="0.85"/>
<circle cx="319.6" cy="213.4" r="0.85"/>
<circle cx="307.4" cy="212.2" r="0.85"/>
<circle cx="317.8" cy="212.6" r="0.85"/>
<circle cx="308.8" cy="227.9" r="0.85"/>
<circle cx="319.8" cy="209.5" r="0.85"/>
<circle cx="318.9" cy="208.5" r="0.85"/>
<circle cx="322.4" cy="221.8" r="0.85"/>
<circle cx="313.9" cy="228.5" r="0.85"/>
<circle cx="316.6" cy="217.9" r="0.85"/>
<circle cx="318.1" cy="209.6" r="0.85"/>
<circle cx="307.0" cy="205.1" r="0.85"/>
<circle cx="321.1" cy="216.2" r="0.85"/>
<circle cx="308.3" cy="211.5" r="0.85"/>
<circle cx="309.4" cy="204.6" r="0.85"/>
<circle cx="309.8" cy="212.1" r="0.85"/>
<circle cx="308.5" cy="205.8" r="0.85"/>
<circle cx="321.0" cy="209.2" r="0.85"/>
<circle cx="318.6" cy="204.8" r="0.85"/>
<circle cx="309.8" cy="216.7" r="0.85"/>
<circle cx="317.4" cy="223.9" r="0.85"/>
<circle cx="319.5" cy="204.9" r="0.85"/>
<circle cx="309.8" cy="212.6" r="0.85"/>
<circle cx="312.6" cy="226.9" r="0.85"/>
<circle cx="320.2" cy="223.2" r="0.85"/>
<circle cx="309.7" cy="227.9" r="0.85"/>
<circle cx="318.4" cy="214.7" r="0.85"/>
<circle cx="308.9" cy="219.7" r="0.85"/>
<circle cx="305.1" cy="229.5" r="0.85"/>
<circle cx="319.6" cy="205.3" r="0.85"/>
<circle cx="311.3" cy="217.4" r="0.85"/>
<circle cx="318.1" cy="213.1" r="0.85"/>
<circle cx="309.8" cy="211.0" r="0.85"/>
<circle cx="310.6" cy="215.6" r="0.85"/>
<circle cx="307.9" cy="219.5" r="0.85"/>
<circle cx="305.3" cy="224.9" r="0.85"/>
<circle cx="322.2" cy="213.2" r="0.85"/>
<circle cx="309.1" cy="208.7" r="0.85"/>
<circle cx="312.4" cy="224.8" r="0.85"/>
<circle cx="317.2" cy="219.7" r="0.85"/>
<circle cx="321.1" cy="210.0" r="0.85"/>
<circle cx="305.2" cy="209.1" r="0.85"/>
<circle cx="307.4" cy="222.3" r="0.85"/>
<circle cx="308.8" cy="212.4" r="0.85"/>
<circle cx="316.3" cy="230.2" r="0.85"/>
<circle cx="312.1" cy="225.7" r="0.85"/>
<circle cx="321.9" cy="218.0" r="0.85"/>
<circle cx="320.9" cy="212.7" r="0.85"/>
<circle cx="320.1" cy="227.0" r="0.85"/>
<circle cx="321.9" cy="230.6" r="0.85"/>
<circle cx="307.3" cy="204.9" r="0.85"/>
<circle cx="310.4" cy="225.1" r="0.85"/>
<circle cx="321.2" cy="210.3" r="0.85"/>
<circle cx="316.5" cy="222.6" r="0.85"/>
<circle cx="319.7" cy="208.3" r="0.85"/>
<circle cx="307.3" cy="228.7" r="0.85"/>
<circle cx="320.4" cy="213.7" r="0.85"/>
<circle cx="318.6" cy="227.1" r="0.85"/>
<circle cx="309.8" cy="213.6" r="0.85"/>
<circle cx="321.5" cy="222.3" r="0.85"/>
<circle cx="318.3" cy="205.8" r="0.85"/>
<circle cx="314.9" cy="226.6" r="0.85"/>
<circle cx="307.4" cy="208.1" r="0.85"/>
<circle cx="311.4" cy="226.0" r="0.85"/>
<circle cx="305.1" cy="212.9" r="0.85"/>
<circle cx="320.9" cy="205.5" r="0.85"/>
<circle cx="317.9" cy="211.2" r="0.85"/>
<circle cx="320.5" cy="219.5" r="0.85"/>
<circle cx="305.5" cy="221.7" r="0.85"/>
<circle cx="319.8" cy="204.9" r="0.85"/>
<circle cx="316.5" cy="225.8" r="0.85"/>
<circle cx="321.8" cy="205.3" r="0.85"/>
<circle cx="306.3" cy="206.8" r="0.85"/>
<circle cx="319.1" cy="213.5" r="0.85"/>
<circle cx="317.9" cy="229.0" r="0.85"/>
<circle cx="311.3" cy="219.0" r="0.85"/>
<circle cx="306.0" cy="223.2" r="0.85"/>
<circle cx="305.2" cy="215.8" r="0.85"/>
<circle cx="320.5" cy="221.4" r="0.85"/>
<circle cx="317.9" cy="221.1" r="0.85"/>
<circle cx="317.6" cy="212.0" r="0.85"/>
<circle cx="309.7" cy="225.3" r="0.85"/>
<circle cx="306.7" cy="225.3" r="0.85"/>
<circle cx="305.4" cy="224.2" r="0.85"/>
<circle cx="317.9" cy="216.4" r="0.85"/>
<circle cx="309.9" cy="221.6" r="0.85"/>
<circle cx="308.0" cy="221.2" r="0.85"/>
<circle cx="308.0" cy="213.5" r="0.85"/>
<circle cx="309.4" cy="223.7" r="0.85"/>
<circle cx="308.9" cy="226.9" r="0.85"/>
<circle cx="316.0" cy="219.7" r="0.85"/>
<circle cx="308.6" cy="207.3" r="0.85"/>
<circle cx="305.2" cy="218.7" r="0.85"/>
<circle cx="309.6" cy="208.8" r="0.85"/>
<circle cx="313.0" cy="228.8" r="0.85"/>
<circle cx="318.0" cy="220.6" r="0.85"/>
<circle cx="306.5" cy="220.9" r="0.85"/>
<circle cx="307.2" cy="204.6" r="0.85"/>
<circle cx="307.1" cy="210.1" r="0.85"/>
<circle cx="320.8" cy="217.5" r="0.85"/>
<circle cx="312.0" cy="222.8" r="0.85"/>
<circle cx="315.6" cy="225.8" r="0.85"/>
<circle cx="317.5" cy="210.5" r="0.85"/>
<circle cx="320.7" cy="218.5" r="0.85"/>
<circle cx="309.7" cy="221.2" r="0.85"/>
<circle cx="308.1" cy="209.3" r="0.85"/>
<circle cx="310.8" cy="224.1" r="0.85"/>
<circle cx="310.7" cy="219.4" r="0.85"/>
<circle cx="320.8" cy="218.3" r="0.85"/>
<circle cx="322.6" cy="230.5" r="0.85"/>
<circle cx="320.6" cy="211.9" r="0.85"/>
<circle cx="315.5" cy="222.4" r="0.85"/>
<circle cx="315.4" cy="227.7" r="0.85"/>
<circle cx="320.1" cy="208.4" r="0.85"/>
<circle cx="317.1" cy="212.8" r="0.85"/>
<circle cx="305.1" cy="211.0" r="0.85"/>
<circle cx="312.5" cy="230.6" r="0.85"/>
<circle cx="310.9" cy="221.3" r="0.85"/>
<circle cx="317.1" cy="211.8" r="0.85"/>
<circle cx="321.9" cy="212.2" r="0.85"/>
<circle cx="321.8" cy="229.0" r="0.85"/>
<circle cx="311.6" cy="219.7" r="0.85"/>
<circle cx="306.1" cy="205.9" r="0.85"/>
<circle cx="307.8" cy="205.8" r="0.85"/>
<circle cx="318.3" cy="208.3" r="0.85"/>
<circle cx="318.8" cy="217.0" r="0.85"/>
<circle cx="308.7" cy="211.0" r="0.85"/>
<circle cx="309.6" cy="221.8" r="0.85"/>
<circle cx="313.7" cy="230.3" r="0.85"/>
<circle cx="310.9" cy="224.5" r="0.85"/>
<circle cx="321.9" cy="214.3" r="0.85"/>
<circle cx="308.4" cy="209.5" r="0.85"/>
<circle cx="319.7" cy="227.9" r="0.85"/>
<circle cx="307.2" cy="213.7" r="0.85"/>
<circle cx="322.0" cy="222.0" r="0.85"/>
<circle cx="309.7" cy="217.1" r="0.85"/>
<circle cx="306.8" cy="219.6" r="0.85"/>
<circle cx="317.0" cy="227.4" r="0.85"/>
<circle cx="317.2" cy="223.8" r="0.85"/>
<circle cx="316.2" cy="226.5" r="0.85"/>
<circle cx="305.5" cy="205.8" r="0.85"/>
<circle cx="308.0" cy="227.3" r="0.85"/>
<circle cx="308.8" cy="224.2" r="0.85"/>
<circle cx="305.4" cy="210.5" r="0.85"/>
<circle cx="317.9" cy="207.2" r="0.85"/>
<circle cx="319.7" cy="215.1" r="0.85"/>
<circle cx="316.9" cy="214.3" r="0.85"/>
<circle cx="317.9" cy="227.5" r="0.85"/>
<circle cx="320.4" cy="220.3" r="0.85"/>
<circle cx="309.2" cy="205.1" r="0.85"/>
<circle cx="319.5" cy="222.5" r="0.85"/>
<circle cx="307.9" cy="217.2" r="0.85"/>
<circle cx="307.7" cy="207.5" r="0.85"/>
<circle cx="310.4" cy="218.0" r="0.85"/>
<circle cx="306.9" cy="205.7" r="0.85"/>
<circle cx="318.0" cy="210.2" r="0.85"/>
<circle cx="311.4" cy="222.0" r="0.85"/>
<circle cx="321.6" cy="208.6" r="0.85"/>
<circle cx="305.4" cy="223.6" r="0.85"/>
<circle cx="321.8" cy="216.9" r="0.85"/>
<circle cx="306.4" cy="207.3" r="0.85"/>
<circle cx="314.7" cy="230.4" r="0.85"/>
<circle cx="306.0" cy="208.8" r="0.85"/>
<circle cx="310.5" cy="211.7" r="0.85"/>
<circle cx="316.4" cy="218.6" r="0.85"/>
<circle cx="316.7" cy="217.1" r="0.85"/>
<circle cx="305.0" cy="207.1" r="0.85"/>
<circle cx="318.4" cy="205.4" r="0.85"/>
<circle cx="308.6" cy="212.8" r="0.85"/>
<circle cx="322.1" cy="229.3" r="0.85"/>
<circle cx="310.4" cy="220.6" r="0.85"/>
<circle cx="317.2" cy="227.8" r="0.85"/>
<circle cx="318.7" cy="228.6" r="0.85"/>
<circle cx="322.2" cy="205.0" r="0.85"/>
<circle cx="311.3" cy="228.7" r="0.85"/>
<circle cx="317.5" cy="211.3" r="0.85"/>
<circle cx="318.2" cy="206.7" r="0.85"/>
<circle cx="308.6" cy="222.1" r="0.85"/>
<circle cx="307.0" cy="211.2" r="0.85"/>
<circle cx="313.8" cy="230.3" r="0.85"/>
<circle cx="322.2" cy="227.2" r="0.85"/>
<circle cx="320.6" cy="224.2" r="0.85"/>
<circle cx="320.4" cy="209.9" r="0.85"/>
<circle cx="317.1" cy="220.2" r="0.85"/>
<circle cx="310.2" cy="223.2" r="0.85"/>
<circle cx="307.6" cy="215.1" r="0.85"/>
<circle cx="311.8" cy="226.5" r="0.85"/>
<circle cx="310.8" cy="214.8" r="0.85"/>
<circle cx="318.9" cy="215.9" r="0.85"/>
<circle cx="322.2" cy="210.9" r="0.85"/>
<circle cx="321.2" cy="209.7" r="0.85"/>
<circle cx="321.2" cy="206.7" r="0.85"/>
<circle cx="318.3" cy="207.2" r="0.85"/>
<circle cx="313.3" cy="229.5" r="0.85"/>
<circle cx="316.9" cy="216.4" r="0.85"/>
<circle cx="312.2" cy="230.4" r="0.85"/>
<circle cx="306.5" cy="215.9" r="0.85"/>
<circle cx="308.4" cy="210.7" r="0.85"/>
<circle cx="308.3" cy="214.0" r="0.85"/>
<circle cx="307.7" cy="219.3" r="0.85"/>
<circle cx="309.2" cy="223.2" r="0.85"/>
<circle cx="305.8" cy="213.3" r="0.85"/>
<circle cx="312.7" cy="227.6" r="0.85"/>
<circle cx="311.0" cy="226.9" r="0.85"/>
<circle cx="308.4" cy="213.3" r="0.85"/>
<circle cx="321.4" cy="204.9" r="0.85"/>
<circle cx="320.8" cy="217.2" r="0.85"/>
<circle cx="307.9" cy="212.7" r="0.85"/>
<circle cx="321.0" cy="207.9" r="0.85"/>
<circle cx="310.8" cy="219.9" r="0.85"/>
<circle cx="306.7" cy="218.9" r="0.85"/>
<circle cx="316.2" cy="220.8" r="0.85"/>
<circle cx="309.4" cy="214.5" r="0.85"/>
<circle cx="307.5" cy="206.4" r="0.85"/>
<circle cx="316.0" cy="229.4" r="0.85"/>
<circle cx="317.3" cy="222.1" r="0.85"/>
<circle cx="310.6" cy="213.9" r="0.85"/>
<circle cx="321.7" cy="204.4" r="0.85"/>
<circle cx="319.0" cy="210.7" r="0.85"/>
<circle cx="309.6" cy="216.5" r="0.85"/>
<circle cx="318.8" cy="221.6" r="0.85"/>
<circle cx="317.0" cy="222.5" r="0.85"/>
<circle cx="318.6" cy="211.4" r="0.85"/>
<circle cx="306.6" cy="212.6" r="0.85"/>
<circle cx="308.7" cy="215.3" r="0.85"/>
<circle cx="311.2" cy="219.3" r="0.85"/>
<circle cx="315.7" cy="220.8" r="0.85"/>
<circle cx="317.3" cy="216.2" r="0.85"/>
<circle cx="305.2" cy="210.4" r="0.85"/>
<circle cx="313.6" cy="229.2" r="0.85"/>
<circle cx="318.4" cy="226.2" r="0.85"/>
<circle cx="322.5" cy="210.3" r="0.85"/>
<circle cx="309.4" cy="218.4" r="0.85"/>
<circle cx="320.0" cy="224.9" r="0.85"/>
<circle cx="308.9" cy="205.3" r="0.85"/>
<circle cx="320.6" cy="207.7" r="0.85"/>
<circle cx="310.0" cy="214.9" r="0.85"/>
<circle cx="314.0" cy="229.0" r="0.85"/>
<circle cx="316.8" cy="220.8" r="0.85"/>
<circle cx="319.8" cy="221.8" r="0.85"/>
<circle cx="322.1" cy="214.9" r="0.85"/>
<circle cx="322.1" cy="220.4" r="0.85"/>
<circle cx="319.1" cy="208.9" r="0.85"/>
<circle cx="320.6" cy="216.9" r="0.85"/>
<circle cx="310.3" cy="221.0" r="0.85"/>
<circle cx="320.5" cy="207.9" r="0.85"/>
<circle cx="322.5" cy="206.8" r="0.85"/>
<circle cx="309.4" cy="213.9" r="0.85"/>
<circle cx="312.3" cy="226.0" r="0.85"/>
<circle cx="321.3" cy="229.5" r="0.85"/>
<circle cx="318.4" cy="221.8" r="0.85"/>
<circle cx="322.4" cy="225.9" r="0.85"/>
<circle cx="321.7" cy="217.4" r="0.85"/>
<circle cx="318.7" cy="215.3" r="0.85"/>
<circle cx="321.8" cy="204.5" r="0.85"/>
<circle cx="306.8" cy="209.4" r="0.85"/>
<circle cx="309.9" cy="215.7" r="0.85"/>
<circle cx="306.1" cy="218.8" r="0.85"/>
<circle cx="321.0" cy="216.5" r="0.85"/>
<circle cx="322.0" cy="209.8" r="0.85"/>
<circle cx="308.6" cy="228.5" r="0.85"/>
<circle cx="306.8" cy="229.9" r="0.85"/>
<circle cx="309.7" cy="212.6" r="0.85"/>
<circle cx="316.3" cy="217.5" r="0.85"/>
<circle cx="305.6" cy="220.1" r="0.85"/>
<circle cx="308.6" cy="209.8" r="0.85"/>
<circle cx="319.8" cy="221.5" r="0.85"/>
<circle cx="308.4" cy="209.2" r="0.85"/>
<circle cx="305.8" cy="206.4" r="0.85"/>
<circle cx="316.4" cy="226.9" r="0.85"/>
<circle cx="306.6" cy="211.2" r="0.85"/>
<circle cx="319.8" cy="224.4" r="0.85"/>
<circle cx="308.0" cy="212.9" r="0.85"/>
<circle cx="321.0" cy="213.6" r="0.85"/>
<circle cx="319.0" cy="212.6" r="0.85"/>
<circle cx="305.3" cy="206.4" r="0.85"/>
<circle cx="320.5" cy="229.2" r="0.85"/>
<circle cx="319.1" cy="215.4" r="0.85"/>
<circle cx="305.6" cy="215.8" r="0.85"/>
<circle cx="317.4" cy="223.1" r="0.85"/>
<circle cx="318.5" cy="226.5" r="0.85"/>
<circle cx="310.4" cy="220.0" r="0.85"/>
<circle cx="305.6" cy="216.9" r="0.85"/>
<circle cx="305.8" cy="217.5" r="0.85"/>
<circle cx="320.9" cy="220.8" r="0.85"/>
<circle cx="306.3" cy="219.4" r="0.85"/>
<circle cx="317.5" cy="229.2" r="0.85"/>
<circle cx="320.1" cy="220.7" r="0.85"/>
<circle cx="315.6" cy="223.6" r="0.85"/>
<circle cx="317.3" cy="221.4" r="0.85"/>
<circle cx="318.5" cy="210.6" r="0.85"/>
<circle cx="308.3" cy="220.0" r="0.85"/>
<circle cx="319.6" cy="206.1" r="0.85"/>
<circle cx="321.7" cy="206.5" r="0.85"/>
<circle cx="309.8" cy="227.2" r="0.85"/>
<circle cx="319.1" cy="207.6" r="0.85"/>
<circle cx="312.4" cy="225.6" r="0.85"/>
<circle cx="318.0" cy="219.5" r="0.85"/>
<circle cx="305.6" cy="205.7" r="0.85"/>
<circle cx="306.0" cy="213.8" r="0.85"/>
<circle cx="306.2" cy="220.4" r="0.85"/>
<circle cx="305.5" cy="220.8" r="0.85"/>
<circle cx="309.4" cy="227.4" r="0.85"/>
<circle cx="320.3" cy="210.6" r="0.85"/>
<circle cx="313.7" cy="228.3" r="0.85"/>
<circle cx="310.1" cy="213.8" r="0.85"/>
<circle cx="305.1" cy="226.1" r="0.85"/>
<circle cx="321.5" cy="210.9" r="0.85"/>
<circle cx="318.9" cy="229.8" r="0.85"/>
<circle cx="307.3" cy="216.4" r="0.85"/>
<circle cx="310.2" cy="218.7" r="0.85"/>
<circle cx="319.0" cy="224.6" r="0.85"/>
<circle cx="306.9" cy="212.1" r="0.85"/>
<circle cx="308.1" cy="206.7" r="0.85"/>
<circle cx="320.9" cy="204.8" r="0.85"/>
<circle cx="311.0" cy="229.8" r="0.85"/>
<circle cx="316.4" cy="224.3" r="0.85"/>
<circle cx="321.4" cy="221.7" r="0.85"/>
<circle cx="317.1" cy="212.5" r="0.85"/>
<circle cx="305.6" cy="217.9" r="0.85"/>
<circle cx="306.5" cy="230.8" r="0.85"/>
<circle cx="308.0" cy="222.1" r="0.85"/>
<circle cx="311.7" cy="220.9" r="0.85"/>
<circle cx="310.0" cy="224.2" r="0.85"/>
<circle cx="321.7" cy="226.2" r="0.85"/>
<circle cx="307.4" cy="230.4" r="0.85"/>
<circle cx="311.0" cy="217.1" r="0.85"/>
<circle cx="312.0" cy="227.9" r="0.85"/>
<circle cx="307.3" cy="217.8" r="0.85"/>
<circle cx="318.4" cy="212.9" r="0.85"/>
<circle cx="306.3" cy="213.6" r="0.85"/>
<circle cx="319.6" cy="219.2" r="0.85"/>
<circle cx="319.7" cy="206.3" r="0.85"/>
<circle cx="309.2" cy="222.0" r="0.85"/>
<circle cx="308.9" cy="207.7" r="0.85"/>
<circle cx="309.0" cy="220.7" r="0.85"/>
<circle cx="315.8" cy="220.6" r="0.85"/>
<circle cx="315.9" cy="226.2" r="0.85"/>
<circle cx="321.8" cy="223.4" r="0.85"/>
<circle cx="308.8" cy="211.4" r="0.85"/>
<circle cx="318.3" cy="218.9" r="0.85"/>
<circle cx="308.7" cy="218.0" r="0.85"/>
<circle cx="306.6" cy="209.9" r="0.85"/>
<circle cx="311.1" cy="222.3" r="0.85"/>
<circle cx="308.7" cy="206.5" r="0.85"/>
<circle cx="319.3" cy="223.7" r="0.85"/>
<circle cx="305.1" cy="223.2" r="0.85"/>
<circle cx="307.3" cy="214.6" r="0.85"/>
<circle cx="316.0" cy="225.5" r="0.85"/>
<circle cx="305.5" cy="213.1" r="0.85"/>
<circle cx="321.5" cy="214.6" r="0.85"/>
<circle cx="319.7" cy="224.4" r="0.85"/>
<circle cx="308.4" cy="221.3" r="0.85"/>
<circle cx="321.4" cy="224.5" r="0.85"/>
<circle cx="321.5" cy="227.2" r="0.85"/>
<circle cx="307.9" cy="222.7" r="0.85"/>
<circle cx="306.8" cy="223.0" r="0.85"/>
<circle cx="311.8" cy="223.6" r="0.85"/>
<circle cx="320.1" cy="211.2" r="0.85"/>
<circle cx="309.5" cy="220.4" r="0.85"/>
<circle cx="307.7" cy="209.6" r="0.85"/>
<circle cx="317.7" cy="212.7" r="0.85"/>
<circle cx="305.2" cy="204.9" r="0.85"/>
<circle cx="311.6" cy="219.8" r="0.85"/>
<circle cx="310.3" cy="211.9" r="0.85"/>
<circle cx="305.4" cy="217.3" r="0.85"/>
<circle cx="308.8" cy="221.7" r="0.85"/>
<circle cx="320.7" cy="227.7" r="0.85"/>
<circle cx="316.7" cy="225.7" r="0.85"/>
<circle cx="307.6" cy="221.6" r="0.85"/>
<circle cx="310.8" cy="214.6" r="0.85"/>
<circle cx="321.9" cy="210.3" r="0.85"/>
<circle cx="318.3" cy="221.2" r="0.85"/>
<circle cx="310.6" cy="224.6" r="0.85"/>
<circle cx="305.3" cy="216.5" r="0.85"/>
<circle cx="305.4" cy="212.5" r="0.85"/>
<circle cx="310.0" cy="225.8" r="0.85"/>
<circle cx="305.8" cy="222.0" r="0.85"/>
<circle cx="317.2" cy="217.6" r="0.85"/>
<circle cx="321.5" cy="228.3" r="0.85"/>
<circle cx="317.4" cy="225.6" r="0.85"/>
<circle cx="310.4" cy="216.5" r="0.85"/>
<circle cx="305.4" cy="218.7" r="0.85"/>
<circle cx="309.0" cy="215.5" r="0.85"/>
<circle cx="321.0" cy="220.7" r="0.85"/>
<circle cx="315.3" cy="224.1" r="0.85"/>
<circle cx="318.6" cy="218.0" r="0.85"/>
<circle cx="306.2" cy="207.8" r="0.85"/>
<circle cx="320.1" cy="206.9" r="0.85"/>
<circle cx="309.9" cy="209.2" r="0.85"/>
<circle cx="312.7" cy="226.3" r="0.85"/>
<circle cx="316.9" cy="214.2" r="0.85"/>
<circle cx="306.1" cy="207.0" r="0.85"/>
<circle cx="317.4" cy="227.0" r="0.85"/>
<circle cx="305.3" cy="209.8" r="0.85"/>
<circle cx="318.8" cy="206.8" r="0.85"/>
<circle cx="305.1" cy="206.7" r="0.85"/>
<circle cx="321.4" cy="208.8" r="0.85"/>
<circle cx="322.4" cy="220.4" r="0.85"/>
<circle cx="315.3" cy="225.2" r="0.85"/>
<circle cx="317.9" cy="218.7" r="0.85"/>
<circle cx="320.8" cy="212.1" r="0.85"/>
<circle cx="311.7" cy="223.3" r="0.85"/>
<circle cx="317.9" cy="217.3" r="0.85"/>
<circle cx="305.8" cy="207.3" r="0.85"/>
<circle cx="309.0" cy="211.2" r="0.85"/>
<circle cx="307.6" cy="215.3" r="0.85"/>
<circle cx="319.3" cy="207.8" r="0.85"/>
<circle cx="306.0" cy="208.3" r="0.85"/>
<circle cx="320.6" cy="222.5" r="0.85"/>
<circle cx="319.6" cy="223.1" r="0.85"/>
<circle cx="308.1" cy="216.3" r="0.85"/>
<circle cx="318.7" cy="218.6" r="0.85"/>
<circle cx="310.0" cy="228.5" r="0.85"/>
<circle cx="321.1" cy="207.0" r="0.85"/>
<circle cx="319.7" cy="227.0" r="0.85"/>
<circle cx="319.2" cy="225.2" r="0.85"/>
<circle cx="308.8" cy="207.8" r="0.85"/>
<circle cx="318.0" cy="210.7" r="0.85"/>
<circle cx="318.7" cy="213.6" r="0.85"/>
<circle cx="306.5" cy="208.8" r="0.85"/>
<circle cx="309.2" cy="216.0" r="0.85"/>
<circle cx="310.2" cy="230.6" r="0.85"/>
<circle cx="309.0" cy="209.0" r="0.85"/>
<circle cx="308.8" cy="215.0" r="0.85"/>
<circle cx="322.1" cy="228.0" r="0.85"/>
<circle cx="309.2" cy="218.1" r="0.85"/>
<circle cx="305.4" cy="209.0" r="0.85"/>
<circle cx="320.6" cy="205.0" r="0.85"/>
<circle cx="305.4" cy="213.3" r="0.85"/>
<circle cx="309.3" cy="215.5" r="0.85"/>
<circle cx="319.6" cy="213.0" r="0.85"/>
<circle cx="316.5" cy="228.3" r="0.85"/>
<circle cx="322.5" cy="223.7" r="0.85"/>
<circle cx="306.2" cy="215.0" r="0.85"/>
<circle cx="318.1" cy="211.3" r="0.85"/>
<circle cx="308.2" cy="213.9" r="0.85"/>
<circle cx="306.9" cy="229.4" r="0.85"/>
<circle cx="320.4" cy="216.2" r="0.85"/>
<circle cx="306.7" cy="214.1" r="0.85"/>
<circle cx="317.2" cy="210.8" r="0.85"/>
<circle cx="322.1" cy="212.5" r="0.85"/>
<circle cx="321.1" cy="214.2" r="0.85"/>
<circle cx="320.0" cy="217.8" r="0.85"/>
<circle cx="322.6" cy="210.1" r="0.85"/>
<circle cx="310.7" cy="223.7" r="0.85"/>
<circle cx="310.9" cy="218.3" r="0.85"/>
<circle cx="316.7" cy="214.8" r="0.85"/>
<circle cx="318.6" cy="209.3" r="0.85"/>
<circle cx="315.1" cy="228.6" r="0.85"/>
<circle cx="306.4" cy="208.6" r="0.85"/>
<circle cx="309.0" cy="217.1" r="0.85"/>
<circle cx="309.7" cy="208.1" r="0.85"/>
<circle cx="305.2" cy="229.9" r="0.85"/>
<circle cx="320.1" cy="228.7" r="0.85"/>
<circle cx="319.6" cy="206.8" r="0.85"/>
<circle cx="308.6" cy="207.9" r="0.85"/>
<circle cx="315.6" cy="230.2" r="0.85"/>
<circle cx="319.8" cy="223.3" r="0.85"/>
<circle cx="318.9" cy="228.7" r="0.85"/>
<circle cx="318.4" cy="224.2" r="0.85"/>
<circle cx="316.3" cy="221.5" r="0.85"/>
<circle cx="318.7" cy="213.8" r="0.85"/>
<circle cx="319.8" cy="227.8" r="0.85"/>
<circle cx="307.1" cy="208.6" r="0.85"/>
<circle cx="305.2" cy="214.0" r="0.85"/>
<circle cx="316.7" cy="214.2" r="0.85"/>
<circle cx="319.6" cy="217.5" r="0.85"/>
<circle cx="308.4" cy="224.9" r="0.85"/>
<circle cx="308.2" cy="206.9" r="0.85"/>
<circle cx="316.7" cy="224.2" r="0.85"/>
<circle cx="317.1" cy="215.4" r="0.85"/>
<circle cx="310.2" cy="211.5" r="0.85"/>
<circle cx="309.9" cy="217.5" r="0.85"/>
<circle cx="307.6" cy="222.0" r="0.85"/>
<circle cx="309.5" cy="223.2" r="0.85"/>
<circle cx="315.4" cy="226.8" r="0.85"/>
<circle cx="306.8" cy="228.1" r="0.85"/>
<circle cx="322.4" cy="230.0" r="0.85"/>
<circle cx="321.7" cy="215.1" r="0.85"/>
<circle cx="321.8" cy="211.7" r="0.85"/>
<circle cx="317.8" cy="212.2" r="0.85"/>
<circle cx="315.1" cy="227.4" r="0.85"/>
<circle cx="309.5" cy="224.3" r="0.85"/>
<circle cx="308.6" cy="221.2" r="0.85"/>
<circle cx="308.0" cy="226.7" r="0.85"/>
<circle cx="321.4" cy="230.7" r="0.85"/>
<circle cx="320.6" cy="226.4" r="0.85"/>
<circle cx="319.6" cy="204.4" r="0.85"/>
<circle cx="322.2" cy="208.6" r="0.85"/>
<circle cx="311.1" cy="225.1" r="0.85"/>
<circle cx="305.9" cy="204.6" r="0.85"/>
<circle cx="322.3" cy="213.9" r="0.85"/>
<circle cx="313.5" cy="230.0" r="0.85"/>
<circle cx="315.9" cy="222.5" r="0.85"/>
<circle cx="309.7" cy="222.6" r="0.85"/>
<circle cx="306.8" cy="225.5" r="0.85"/>
<circle cx="305.6" cy="227.9" r="0.85"/>
<circle cx="306.1" cy="205.4" r="0.85"/>
<circle cx="322.1" cy="219.9" r="0.85"/>
<circle cx="309.4" cy="219.7" r="0.85"/>
<circle cx="317.6" cy="209.5" r="0.85"/>
<circle cx="320.3" cy="222.9" r="0.85"/>
<circle cx="309.6" cy="219.1" r="0.85"/>
<circle cx="322.1" cy="214.0" r="0.85"/>
<circle cx="316.8" cy="227.1" r="0.85"/>
<circle cx="320.2" cy="213.4" r="0.85"/>
<circle cx="318.2" cy="226.2" r="0.85"/>
<circle cx="308.0" cy="215.1" r="0.85"/>
<circle cx="310.6" cy="230.0" r="0.85"/>
<circle cx="307.1" cy="225.9" r="0.85"/>
<circle cx="307.2" cy="206.0" r="0.85"/>
<circle cx="318.8" cy="226.4" r="0.85"/>
<circle cx="309.0" cy="209.9" r="0.85"/>
<circle cx="311.0" cy="220.5" r="0.85"/>
<circle cx="305.9" cy="205.2" r="0.85"/>
<circle cx="305.8" cy="221.3" r="0.85"/>
<circle cx="311.9" cy="221.7" r="0.85"/>
<circle cx="322.3" cy="208.4" r="0.85"/>
<circle cx="309.6" cy="207.6" r="0.85"/>
<circle cx="318.4" cy="222.7" r="0.85"/>
<circle cx="321.6" cy="208.0" r="0.85"/>
<circle cx="322.3" cy="212.1" r="0.85"/>
<circle cx="305.4" cy="222.0" r="0.85"/>
<circle cx="308.8" cy="230.6" r="0.85"/>
<circle cx="321.4" cy="220.5" r="0.85"/>
<circle cx="317.3" cy="213.9" r="0.85"/>
<circle cx="316.0" cy="221.7" r="0.85"/>
<circle cx="309.6" cy="228.5" r="0.85"/>
<circle cx="320.1" cy="205.7" r="0.85"/>
<circle cx="319.2" cy="214.2" r="0.85"/>
<circle cx="321.2" cy="208.7" r="0.85"/>
<circle cx="321.6" cy="217.2" r="0.85"/>
<circle cx="311.5" cy="226.5" r="0.85"/>
<circle cx="309.2" cy="218.8" r="0.85"/>
<circle cx="306.4" cy="216.3" r="0.85"/>
<circle cx="306.1" cy="209.6" r="0.85"/>
<circle cx="320.9" cy="207.6" r="0.85"/>
<circle cx="309.0" cy="226.2" r="0.85"/>
<circle cx="310.3" cy="219.2" r="0.85"/>
<circle cx="318.7" cy="209.8" r="0.85"/>
<circle cx="314.9" cy="227.2" r="0.85"/>
<circle cx="307.2" cy="224.5" r="0.85"/>
<circle cx="307.6" cy="209.1" r="0.85"/>
<circle cx="305.3" cy="213.9" r="0.85"/>
<circle cx="319.1" cy="216.6" r="0.85"/>
<circle cx="305.2" cy="214.3" r="0.85"/>
<circle cx="320.4" cy="212.5" r="0.85"/>
<circle cx="317.1" cy="213.5" r="0.85"/>
<circle cx="320.1" cy="222.6" r="0.85"/>
<circle cx="308.8" cy="216.7" r="0.85"/>
<circle cx="318.2" cy="204.5" r="0.85"/>
<circle cx="307.5" cy="211.6" r="0.85"/>
<circle cx="317.8" cy="218.8" r="0.85"/>
<circle cx="314.6" cy="229.2" r="0.85"/>
<circle cx="307.3" cy="213.2" r="0.85"/>
<circle cx="305.9" cy="227.3" r="0.85"/>
<circle cx="316.9" cy="223.7" r="0.85"/>
<circle cx="306.1" cy="211.5" r="0.85"/>
<circle cx="308.5" cy="215.9" r="0.85"/>
<circle cx="318.0" cy="213.5" r="0.85"/>
<circle cx="319.6" cy="229.1" r="0.85"/>
<circle cx="305.6" cy="215.7" r="0.85"/>
<circle cx="322.6" cy="215.9" r="0.85"/>
<circle cx="317.8" cy="213.9" r="0.85"/>
<circle cx="308.2" cy="205.2" r="0.85"/>
<circle cx="317.8" cy="230.6" r="0.85"/>
<circle cx="307.7" cy="205.7" r="0.85"/>
<circle cx="315.6" cy="223.0" r="0.85"/>
<circle cx="318.7" cy="216.4" r="0.85"/>
<circle cx="320.0" cy="207.7" r="0.85"/>
<circle cx="307.7" cy="224.1" r="0.85"/>
<circle cx="315.6" cy="222.2" r="0.85"/>
<circle cx="312.7" cy="228.8" r="0.85"/>
<circle cx="306.3" cy="221.8" r="0.85"/>
<circle cx="309.8" cy="208.2" r="0.85"/>
<circle cx="317.5" cy="222.3" r="0.85"/>
<circle cx="305.2" cy="207.9" r="0.85"/>
<circle cx="308.7" cy="225.4" r="0.85"/>
<circle cx="319.1" cy="210.0" r="0.85"/>
<circle cx="320.8" cy="222.7" r="0.85"/>
<circle cx="318.6" cy="227.8" r="0.85"/>
<circle cx="306.6" cy="206.2" r="0.85"/>
<circle cx="307.1" cy="215.0" r="0.85"/>
<circle cx="310.5" cy="230.4" r="0.85"/>
<circle cx="306.5" cy="217.5" r="0.85"/>
<circle cx="306.6" cy="207.9" r="0.85"/>
<circle cx="320.7" cy="205.4" r="0.85"/>
<circle cx="317.6" cy="219.6" r="0.85"/>
<circle cx="310.0" cy="208.4" r="0.85"/>
<circle cx="322.5" cy="225.6" r="0.85"/>
<circle cx="315.5" cy="230.9" r="0.85"/>
<circle cx="312.0" cy="229.5" r="0.85"/>
<circle cx="321.5" cy="226.7" r="0.85"/>
<circle cx="319.9" cy="212.3" r="0.85"/>
<circle cx="321.7" cy="217.8" r="0.85"/>
<circle cx="320.1" cy="208.9" r="0.85"/>
<circle cx="322.4" cy="204.7" r="0.85"/>
<circle cx="311.4" cy="223.8" r="0.85"/>
<circle cx="306.6" cy="214.6" r="0.85"/>
<circle cx="306.9" cy="221.7" r="0.85"/>
<circle cx="307.3" cy="229.4" r="0.85"/>
<circle cx="305.7" cy="207.3" r="0.85"/>
<circle cx="310.0" cy="229.1" r="0.85"/>
<circle cx="307.5" cy="225.7" r="0.85"/>
<circle cx="321.7" cy="211.3" r="0.85"/>
<circle cx="318.4" cy="209.0" r="0.85"/>
<circle cx="317.7" cy="207.5" r="0.85"/>
<circle cx="318.9" cy="229.5" r="0.85"/>
<circle cx="319.5" cy="211.6" r="0.85"/>
<circle cx="320.1" cy="220.9" r="0.85"/>
<circle cx="321.1" cy="211.7" r="0.85"/>
<circle cx="319.1" cy="213.2" r="0.85"/>
<circle cx="319.9" cy="204.7" r="0.85"/>
<circle cx="307.8" cy="218.4" r="0.85"/>
<circle cx="309.9" cy="216.0" r="0.85"/>
</g>
<g fill="#3f9a3a" fill-opacity="0.85">
<circle cx="324.5" cy="208.1" r="1.05"/>
<circle cx="325.8" cy="221.0" r="1.05"/>
<circle cx="325.4" cy="221.2" r="1.05"/>
<circle cx="323.2" cy="220.6" r="1.05"/>
<circle cx="326.1" cy="229.2" r="1.05"/>
<circle cx="327.2" cy="223.3" r="1.05"/>
<circle cx="327.2" cy="217.3" r="1.05"/>
<circle cx="327.4" cy="208.0" r="1.05"/>
<circle cx="324.6" cy="218.4" r="1.05"/>
<circle cx="327.0" cy="224.4" r="1.05"/>
<circle cx="326.2" cy="220.6" r="1.05"/>
<circle cx="323.7" cy="219.7" r="1.05"/>
<circle cx="323.8" cy="222.0" r="1.05"/>
<circle cx="327.6" cy="220.3" r="1.05"/>
<circle cx="324.4" cy="227.2" r="1.05"/>
<circle cx="325.3" cy="209.2" r="1.05"/>
<circle cx="323.2" cy="227.9" r="1.05"/>
<circle cx="325.0" cy="222.9" r="1.05"/>
<circle cx="324.2" cy="209.1" r="1.05"/>
<circle cx="325.1" cy="225.6" r="1.05"/>
<circle cx="325.1" cy="221.2" r="1.05"/>
<circle cx="323.8" cy="205.3" r="1.05"/>
<circle cx="324.2" cy="229.0" r="1.05"/>
<circle cx="324.4" cy="223.1" r="1.05"/>
<circle cx="326.1" cy="220.1" r="1.05"/>
<circle cx="322.8" cy="224.7" r="1.05"/>
<circle cx="324.6" cy="230.5" r="1.05"/>
<circle cx="327.7" cy="207.7" r="1.05"/>
<circle cx="325.8" cy="209.3" r="1.05"/>
<circle cx="325.1" cy="216.0" r="1.05"/>
<circle cx="323.7" cy="212.5" r="1.05"/>
<circle cx="326.7" cy="220.5" r="1.05"/>
<circle cx="326.9" cy="214.9" r="1.05"/>
<circle cx="325.8" cy="205.9" r="1.05"/>
<circle cx="323.4" cy="224.0" r="1.05"/>
<circle cx="324.8" cy="214.6" r="1.05"/>
<circle cx="327.9" cy="215.3" r="1.05"/>
<circle cx="323.8" cy="213.6" r="1.05"/>
<circle cx="325.0" cy="230.1" r="1.05"/>
<circle cx="324.5" cy="222.3" r="1.05"/>
<circle cx="326.2" cy="221.9" r="1.05"/>
<circle cx="325.5" cy="222.0" r="1.05"/>
<circle cx="324.9" cy="212.8" r="1.05"/>
<circle cx="323.1" cy="213.7" r="1.05"/>
<circle cx="327.2" cy="219.1" r="1.05"/>
<circle cx="326.6" cy="222.7" r="1.05"/>
<circle cx="324.4" cy="219.8" r="1.05"/>
<circle cx="323.3" cy="222.7" r="1.05"/>
<circle cx="325.0" cy="206.8" r="1.05"/>
<circle cx="324.4" cy="224.4" r="1.05"/>
<circle cx="322.9" cy="208.8" r="1.05"/>
<circle cx="327.6" cy="221.5" r="1.05"/>
<circle cx="323.5" cy="214.9" r="1.05"/>
<circle cx="327.6" cy="221.8" r="1.05"/>
<circle cx="302.2" cy="225.8" r="1.05"/>
<circle cx="302.5" cy="213.6" r="1.05"/>
<circle cx="299.1" cy="225.5" r="1.05"/>
<circle cx="303.6" cy="207.4" r="1.05"/>
<circle cx="301.2" cy="217.1" r="1.05"/>
<circle cx="304.2" cy="209.1" r="1.05"/>
<circle cx="303.9" cy="229.4" r="1.05"/>
<circle cx="301.1" cy="213.4" r="1.05"/>
<circle cx="304.5" cy="210.9" r="1.05"/>
<circle cx="302.7" cy="214.5" r="1.05"/>
<circle cx="301.5" cy="227.7" r="1.05"/>
<circle cx="301.7" cy="226.0" r="1.05"/>
<circle cx="304.4" cy="228.8" r="1.05"/>
<circle cx="304.1" cy="217.4" r="1.05"/>
<circle cx="303.6" cy="225.8" r="1.05"/>
<circle cx="301.8" cy="224.3" r="1.05"/>
<circle cx="303.3" cy="206.8" r="1.05"/>
<circle cx="304.4" cy="212.8" r="1.05"/>
<circle cx="304.3" cy="209.8" r="1.05"/>
<circle cx="304.7" cy="208.1" r="1.05"/>
<circle cx="302.0" cy="215.6" r="1.05"/>
<circle cx="300.2" cy="209.9" r="1.05"/>
<circle cx="300.1" cy="228.1" r="1.05"/>
<circle cx="301.4" cy="219.6" r="1.05"/>
<circle cx="301.0" cy="209.9" r="1.05"/>
<circle cx="293.6" cy="227.7" r="1.05"/>
<circle cx="296.2" cy="227.2" r="1.05"/>
<circle cx="297.1" cy="229.3" r="1.05"/>
<circle cx="336.7" cy="227.2" r="1.05"/>
<circle cx="339.3" cy="226.6" r="1.05"/>
<circle cx="340.2" cy="225.0" r="1.05"/>
<circle cx="290.9" cy="228.2" r="1.05"/>
<circle cx="333.2" cy="226.1" r="1.05"/>
<circle cx="295.3" cy="228.8" r="1.05"/>
<circle cx="298.0" cy="226.6" r="1.05"/>
<circle cx="289.2" cy="227.7" r="1.05"/>
<circle cx="291.8" cy="228.2" r="1.05"/>
<circle cx="334.9" cy="225.6" r="1.05"/>
</g>
<g fill="#4060c8" fill-opacity="0.85">
<circle cx="307.7" cy="201.5" r="1.05"/>
<circle cx="319.9" cy="197.9" r="1.05"/>
<circle cx="320.6" cy="198.7" r="1.05"/>
<circle cx="319.3" cy="202.2" r="1.05"/>
<circle cx="320.8" cy="200.6" r="1.05"/>
<circle cx="320.3" cy="198.1" r="1.05"/>
<circle cx="308.9" cy="201.9" r="1.05"/>
<circle cx="318.4" cy="203.7" r="1.05"/>
<circle cx="307.8" cy="199.3" r="1.05"/>
<circle cx="309.0" cy="202.9" r="1.05"/>
<circle cx="320.1" cy="203.3" r="1.05"/>
<circle cx="306.7" cy="199.6" r="1.05"/>
<circle cx="308.8" cy="200.6" r="1.05"/>
<circle cx="320.6" cy="197.6" r="1.05"/>
<circle cx="307.6" cy="199.9" r="1.05"/>
<circle cx="320.3" cy="200.7" r="1.05"/>
<circle cx="307.2" cy="201.5" r="1.05"/>
<circle cx="306.7" cy="198.5" r="1.05"/>
<circle cx="320.3" cy="200.0" r="1.05"/>
<circle cx="307.9" cy="200.4" r="1.05"/>
<circle cx="318.8" cy="201.0" r="1.05"/>
<circle cx="318.6" cy="202.5" r="1.05"/>
<circle cx="307.3" cy="203.6" r="1.05"/>
<circle cx="307.7" cy="199.4" r="1.05"/>
<circle cx="307.1" cy="197.8" r="1.05"/>
<circle cx="308.4" cy="198.8" r="1.05"/>
<circle cx="308.8" cy="204.2" r="1.05"/>
<circle cx="320.8" cy="200.1" r="1.05"/>
<circle cx="319.4" cy="199.3" r="1.05"/>
<circle cx="308.7" cy="200.7" r="1.05"/>
<circle cx="307.3" cy="198.5" r="1.05"/>
<circle cx="320.0" cy="200.2" r="1.05"/>
<circle cx="307.4" cy="197.8" r="1.05"/>
<circle cx="320.3" cy="198.8" r="1.05"/>
<circle cx="319.1" cy="203.3" r="1.05"/>
<circle cx="318.6" cy="203.8" r="1.05"/>
<circle cx="306.8" cy="202.9" r="1.05"/>
<circle cx="308.8" cy="201.6" r="1.05"/>
<circle cx="308.4" cy="198.3" r="1.05"/>
<circle cx="308.3" cy="202.5" r="1.05"/>
<circle cx="320.0" cy="200.6" r="1.05"/>
<circle cx="318.6" cy="202.2" r="1.05"/>
<circle cx="320.9" cy="201.2" r="1.05"/>
<circle cx="307.9" cy="204.1" r="1.05"/>
<circle cx="308.2" cy="199.9" r="1.05"/>
<circle cx="307.1" cy="200.9" r="1.05"/>
<circle cx="307.3" cy="199.2" r="1.05"/>
<circle cx="307.3" cy="202.3" r="1.05"/>
<circle cx="308.7" cy="202.2" r="1.05"/>
<circle cx="307.3" cy="200.9" r="1.05"/>
<circle cx="319.4" cy="201.1" r="1.05"/>
<circle cx="319.1" cy="202.7" r="1.05"/>
<circle cx="320.9" cy="197.7" r="1.05"/>
<circle cx="318.8" cy="202.2" r="1.05"/>
<circle cx="307.0" cy="201.9" r="1.05"/>
<circle cx="318.9" cy="200.3" r="1.05"/>
<circle cx="308.7" cy="201.1" r="1.05"/>
<circle cx="308.2" cy="203.1" r="1.05"/>
<circle cx="308.4" cy="197.8" r="1.05"/>
</g>
<g fill="#c8202e" fill-opacity="0.85">
<circle cx="324.5" cy="199.2" r="1.05"/>
<circle cx="325.6" cy="197.4" r="1.05"/>
<circle cx="328.1" cy="203.5" r="1.05"/>
<circle cx="329.8" cy="196.1" r="1.05"/>
<circle cx="329.7" cy="200.8" r="1.05"/>
<circle cx="323.8" cy="199.1" r="1.05"/>
<circle cx="325.9" cy="194.5" r="1.05"/>
<circle cx="323.2" cy="203.4" r="1.05"/>
<circle cx="323.4" cy="198.6" r="1.05"/>
<circle cx="329.3" cy="200.6" r="1.05"/>
<circle cx="323.3" cy="199.0" r="1.05"/>
<circle cx="324.2" cy="198.1" r="1.05"/>
<circle cx="330.2" cy="200.7" r="1.05"/>
<circle cx="324.7" cy="195.4" r="1.05"/>
<circle cx="299.0" cy="192.6" r="1.05"/>
<circle cx="299.4" cy="198.6" r="1.05"/>
<circle cx="301.7" cy="192.6" r="1.05"/>
<circle cx="299.7" cy="196.4" r="1.05"/>
<circle cx="300.8" cy="203.5" r="1.05"/>
<circle cx="303.5" cy="197.8" r="1.05"/>
<circle cx="302.8" cy="203.6" r="1.05"/>
<circle cx="303.2" cy="198.1" r="1.05"/>
<circle cx="302.5" cy="197.1" r="1.05"/>
<circle cx="303.5" cy="193.1" r="1.05"/>
<circle cx="326.6" cy="179.3" r="1.05"/>
<circle cx="324.8" cy="184.6" r="1.05"/>
<circle cx="332.3" cy="200.6" r="1.05"/>
<circle cx="334.0" cy="202.7" r="1.05"/>
<circle cx="323.0" cy="188.3" r="1.05"/>
<circle cx="322.6" cy="191.5" r="1.05"/>
<circle cx="299.7" cy="194.2" r="1.05"/>
<circle cx="303.2" cy="196.3" r="1.05"/>
</g>
<line x1="275.60" y1="148.00" x2="275.60" y2="234.90" stroke="#222" stroke-width="1.0"/>
<line x1="275.20" y1="234.50" x2="355.00" y2="234.50" stroke="#222" stroke-width="1.0"/>
<line x1="272.60" y1="230.90" x2="275.60" y2="230.90" stroke="#222" stroke-width="0.9"/>
<text x="270.80" y="233.07" font-size="6.1" text-anchor="end" fill="#1e1e1e" >0</text>
<line x1="272.60" y1="204.30" x2="275.60" y2="204.30" stroke="#222" stroke-width="0.9"/>
<text x="270.80" y="206.47" font-size="6.1" text-anchor="end" fill="#1e1e1e" >5</text>
<line x1="272.60" y1="177.70" x2="275.60" y2="177.70" stroke="#222" stroke-width="0.9"/>
<text x="270.80" y="179.87" font-size="6.1" text-anchor="end" fill="#1e1e1e" >10</text>
<line x1="272.60" y1="151.10" x2="275.60" y2="151.10" stroke="#222" stroke-width="0.9"/>
<text x="270.80" y="153.27" font-size="6.1" text-anchor="end" fill="#1e1e1e" >15</text>
<line x1="291.80" y1="234.50" x2="291.80" y2="237.30" stroke="#222" stroke-width="0.9"/>
<text x="291.80" y="245.00" font-size="6.2" text-anchor="middle" fill="#1e1e1e" >−2.5</text>
<line x1="313.80" y1="234.50" x2="313.80" y2="237.30" stroke="#222" stroke-width="0.9"/>
<text x="313.80" y="245.00" font-size="6.2" text-anchor="middle" fill="#1e1e1e" >0.0</text>
<line x1="335.80" y1="234.50" x2="335.80" y2="237.30" stroke="#222" stroke-width="0.9"/>
<text x="335.80" y="245.00" font-size="6.2" text-anchor="middle" fill="#1e1e1e" >2.5</text>
<text x="315.80" y="253.80" font-size="7.6" text-anchor="middle" fill="#1e1e1e" textLength="42" lengthAdjust="spacingAndGlyphs" font-weight="bold"><tspan>Log</tspan><tspan font-size="4.56" dy="1.67">2</tspan><tspan dy="-1.67"> fold change</tspan></text>
<text x="417.10" y="137.13" font-size="6.0" text-anchor="middle" fill="#1e1e1e" >Cluster: ELP</text>
<text x="417.10" y="144.99" font-size="5.6" text-anchor="middle" fill="#1e1e1e" textLength="54" lengthAdjust="spacingAndGlyphs"><tspan font-style="italic">Etv6</tspan><tspan font-size="3.36" dy="-2.13" font-style="italic">R355X/+</tspan><tspan dy="2.13"> vs </tspan><tspan font-style="italic">Etv6</tspan><tspan font-size="3.36" dy="-2.13" font-style="italic">+/+</tspan></text>
<line x1="402.80" y1="148.80" x2="402.80" y2="235.00" stroke="#666" stroke-width="0.6" stroke-dasharray="1.6,1.0"/>
<line x1="418.80" y1="148.80" x2="418.80" y2="235.00" stroke="#666" stroke-width="0.6" stroke-dasharray="1.6,1.0"/>
<line x1="376.20" y1="209.00" x2="456.00" y2="209.00" stroke="#666" stroke-width="0.7" stroke-dasharray="1.8,1.0"/>
<g fill="#2a2a2a" fill-opacity="0.72">
<circle cx="417.1" cy="227.2" r="0.85"/>
<circle cx="416.1" cy="211.7" r="0.85"/>
<circle cx="417.3" cy="214.5" r="0.85"/>
<circle cx="414.9" cy="226.1" r="0.85"/>
<circle cx="404.4" cy="215.9" r="0.85"/>
<circle cx="416.7" cy="217.6" r="0.85"/>
<circle cx="404.7" cy="219.9" r="0.85"/>
<circle cx="405.3" cy="222.4" r="0.85"/>
<circle cx="408.0" cy="224.9" r="0.85"/>
<circle cx="407.2" cy="216.8" r="0.85"/>
<circle cx="404.7" cy="223.7" r="0.85"/>
<circle cx="406.4" cy="212.1" r="0.85"/>
<circle cx="402.9" cy="210.5" r="0.85"/>
<circle cx="414.2" cy="217.7" r="0.85"/>
<circle cx="408.5" cy="222.6" r="0.85"/>
<circle cx="417.7" cy="219.9" r="0.85"/>
<circle cx="407.0" cy="212.7" r="0.85"/>
<circle cx="417.0" cy="209.0" r="0.85"/>
<circle cx="404.9" cy="209.3" r="0.85"/>
<circle cx="416.3" cy="212.4" r="0.85"/>
<circle cx="415.1" cy="225.7" r="0.85"/>
<circle cx="417.4" cy="213.1" r="0.85"/>
<circle cx="418.2" cy="217.1" r="0.85"/>
<circle cx="415.0" cy="217.0" r="0.85"/>
<circle cx="416.3" cy="214.5" r="0.85"/>
<circle cx="415.0" cy="214.4" r="0.85"/>
<circle cx="416.9" cy="211.9" r="0.85"/>
<circle cx="407.7" cy="217.1" r="0.85"/>
<circle cx="407.2" cy="224.1" r="0.85"/>
<circle cx="415.6" cy="209.4" r="0.85"/>
<circle cx="413.9" cy="220.5" r="0.85"/>
<circle cx="406.8" cy="212.9" r="0.85"/>
<circle cx="403.5" cy="216.4" r="0.85"/>
<circle cx="403.3" cy="223.9" r="0.85"/>
<circle cx="414.6" cy="212.9" r="0.85"/>
<circle cx="407.0" cy="216.3" r="0.85"/>
<circle cx="415.8" cy="209.3" r="0.85"/>
<circle cx="415.9" cy="213.5" r="0.85"/>
<circle cx="416.5" cy="231.4" r="0.85"/>
<circle cx="406.0" cy="212.2" r="0.85"/>
<circle cx="403.8" cy="209.3" r="0.85"/>
<circle cx="417.0" cy="217.1" r="0.85"/>
<circle cx="403.9" cy="227.5" r="0.85"/>
<circle cx="407.4" cy="217.3" r="0.85"/>
<circle cx="404.4" cy="214.3" r="0.85"/>
<circle cx="408.1" cy="230.6" r="0.85"/>
<circle cx="406.7" cy="215.8" r="0.85"/>
<circle cx="405.6" cy="210.1" r="0.85"/>
<circle cx="404.2" cy="209.8" r="0.85"/>
<circle cx="402.9" cy="230.6" r="0.85"/>
<circle cx="413.6" cy="221.8" r="0.85"/>
<circle cx="417.9" cy="211.2" r="0.85"/>
<circle cx="406.6" cy="222.7" r="0.85"/>
<circle cx="405.2" cy="214.0" r="0.85"/>
<circle cx="403.4" cy="223.4" r="0.85"/>
<circle cx="413.8" cy="219.0" r="0.85"/>
<circle cx="403.9" cy="217.3" r="0.85"/>
<circle cx="415.0" cy="212.7" r="0.85"/>
<circle cx="415.6" cy="216.8" r="0.85"/>
<circle cx="407.4" cy="216.0" r="0.85"/>
<circle cx="408.2" cy="218.8" r="0.85"/>
<circle cx="405.0" cy="215.4" r="0.85"/>
<circle cx="414.6" cy="216.3" r="0.85"/>
<circle cx="415.7" cy="209.8" r="0.85"/>
<circle cx="416.9" cy="219.7" r="0.85"/>
<circle cx="404.3" cy="211.4" r="0.85"/>
<circle cx="413.6" cy="220.0" r="0.85"/>
<circle cx="404.8" cy="221.6" r="0.85"/>
<circle cx="406.5" cy="210.3" r="0.85"/>
<circle cx="416.5" cy="214.8" r="0.85"/>
<circle cx="403.6" cy="222.9" r="0.85"/>
<circle cx="406.8" cy="213.8" r="0.85"/>
<circle cx="409.7" cy="227.2" r="0.85"/>
<circle cx="404.8" cy="228.4" r="0.85"/>
<circle cx="417.9" cy="217.7" r="0.85"/>
<circle cx="405.3" cy="213.2" r="0.85"/>
<circle cx="415.4" cy="227.3" r="0.85"/>
<circle cx="414.2" cy="220.0" r="0.85"/>
<circle cx="417.7" cy="217.6" r="0.85"/>
<circle cx="416.5" cy="224.9" r="0.85"/>
<circle cx="418.6" cy="216.9" r="0.85"/>
<circle cx="406.2" cy="214.1" r="0.85"/>
<circle cx="403.7" cy="211.4" r="0.85"/>
<circle cx="408.6" cy="221.7" r="0.85"/>
<circle cx="412.2" cy="228.1" r="0.85"/>
<circle cx="414.1" cy="215.3" r="0.85"/>
<circle cx="407.5" cy="223.7" r="0.85"/>
<circle cx="417.2" cy="216.2" r="0.85"/>
<circle cx="405.3" cy="216.9" r="0.85"/>
<circle cx="403.1" cy="211.8" r="0.85"/>
<circle cx="411.7" cy="228.7" r="0.85"/>
<circle cx="404.8" cy="217.5" r="0.85"/>
<circle cx="417.8" cy="212.1" r="0.85"/>
<circle cx="417.7" cy="210.8" r="0.85"/>
<circle cx="416.7" cy="229.2" r="0.85"/>
<circle cx="414.1" cy="228.9" r="0.85"/>
<circle cx="407.1" cy="220.6" r="0.85"/>
<circle cx="413.7" cy="223.3" r="0.85"/>
<circle cx="416.6" cy="209.9" r="0.85"/>
<circle cx="403.8" cy="221.0" r="0.85"/>
<circle cx="416.6" cy="224.4" r="0.85"/>
<circle cx="409.5" cy="228.3" r="0.85"/>
<circle cx="403.1" cy="209.3" r="0.85"/>
<circle cx="417.7" cy="227.9" r="0.85"/>
<circle cx="417.6" cy="213.8" r="0.85"/>
<circle cx="415.2" cy="224.9" r="0.85"/>
<circle cx="407.1" cy="221.3" r="0.85"/>
<circle cx="408.0" cy="223.7" r="0.85"/>
<circle cx="409.1" cy="228.0" r="0.85"/>
<circle cx="412.2" cy="225.5" r="0.85"/>
<circle cx="415.0" cy="210.0" r="0.85"/>
<circle cx="404.7" cy="213.1" r="0.85"/>
<circle cx="407.1" cy="215.9" r="0.85"/>
<circle cx="406.6" cy="215.7" r="0.85"/>
<circle cx="417.3" cy="222.5" r="0.85"/>
<circle cx="407.1" cy="214.7" r="0.85"/>
<circle cx="413.1" cy="222.1" r="0.85"/>
<circle cx="413.7" cy="220.5" r="0.85"/>
<circle cx="413.9" cy="216.3" r="0.85"/>
<circle cx="404.6" cy="218.8" r="0.85"/>
<circle cx="414.2" cy="216.0" r="0.85"/>
<circle cx="403.9" cy="216.3" r="0.85"/>
<circle cx="403.9" cy="215.0" r="0.85"/>
<circle cx="409.1" cy="224.4" r="0.85"/>
<circle cx="415.9" cy="214.8" r="0.85"/>
<circle cx="414.6" cy="223.7" r="0.85"/>
<circle cx="414.5" cy="214.0" r="0.85"/>
<circle cx="406.7" cy="216.5" r="0.85"/>
<circle cx="415.8" cy="222.5" r="0.85"/>
<circle cx="417.0" cy="220.2" r="0.85"/>
<circle cx="414.1" cy="225.3" r="0.85"/>
<circle cx="409.3" cy="225.3" r="0.85"/>
<circle cx="403.6" cy="224.8" r="0.85"/>
<circle cx="403.9" cy="223.6" r="0.85"/>
<circle cx="414.5" cy="215.7" r="0.85"/>
<circle cx="408.4" cy="220.7" r="0.85"/>
<circle cx="406.8" cy="213.6" r="0.85"/>
<circle cx="406.2" cy="221.2" r="0.85"/>
<circle cx="413.6" cy="218.9" r="0.85"/>
<circle cx="403.6" cy="213.9" r="0.85"/>
<circle cx="403.0" cy="216.4" r="0.85"/>
<circle cx="417.7" cy="219.2" r="0.85"/>
<circle cx="407.3" cy="214.6" r="0.85"/>
<circle cx="403.4" cy="211.1" r="0.85"/>
<circle cx="404.5" cy="209.0" r="0.85"/>
<circle cx="416.2" cy="210.0" r="0.85"/>
<circle cx="406.0" cy="209.9" r="0.85"/>
<circle cx="416.4" cy="220.9" r="0.85"/>
<circle cx="406.9" cy="219.0" r="0.85"/>
<circle cx="417.2" cy="209.6" r="0.85"/>
<circle cx="406.5" cy="218.0" r="0.85"/>
<circle cx="414.3" cy="215.0" r="0.85"/>
<circle cx="404.2" cy="219.5" r="0.85"/>
<circle cx="410.4" cy="229.8" r="0.85"/>
<circle cx="413.4" cy="224.6" r="0.85"/>
<circle cx="417.1" cy="209.9" r="0.85"/>
<circle cx="405.2" cy="220.3" r="0.85"/>
<circle cx="405.3" cy="219.9" r="0.85"/>
<circle cx="412.5" cy="227.8" r="0.85"/>
<circle cx="406.1" cy="213.1" r="0.85"/>
<circle cx="405.0" cy="209.9" r="0.85"/>
<circle cx="405.3" cy="215.6" r="0.85"/>
<circle cx="415.8" cy="211.1" r="0.85"/>
<circle cx="404.5" cy="212.7" r="0.85"/>
<circle cx="412.0" cy="227.1" r="0.85"/>
<circle cx="414.4" cy="220.1" r="0.85"/>
<circle cx="407.8" cy="226.9" r="0.85"/>
<circle cx="418.3" cy="217.3" r="0.85"/>
<circle cx="407.7" cy="228.3" r="0.85"/>
<circle cx="413.1" cy="222.4" r="0.85"/>
<circle cx="418.8" cy="218.0" r="0.85"/>
<circle cx="413.6" cy="225.3" r="0.85"/>
<circle cx="418.1" cy="215.1" r="0.85"/>
<circle cx="407.2" cy="223.5" r="0.85"/>
<circle cx="403.6" cy="212.1" r="0.85"/>
<circle cx="403.9" cy="214.3" r="0.85"/>
<circle cx="403.9" cy="224.6" r="0.85"/>
<circle cx="404.8" cy="221.9" r="0.85"/>
<circle cx="415.1" cy="222.3" r="0.85"/>
<circle cx="405.5" cy="209.6" r="0.85"/>
<circle cx="414.6" cy="218.7" r="0.85"/>
<circle cx="416.4" cy="210.5" r="0.85"/>
<circle cx="418.4" cy="209.7" r="0.85"/>
<circle cx="403.7" cy="217.2" r="0.85"/>
<circle cx="418.6" cy="219.4" r="0.85"/>
<circle cx="405.1" cy="213.1" r="0.85"/>
<circle cx="403.7" cy="222.5" r="0.85"/>
<circle cx="406.3" cy="225.7" r="0.85"/>
<circle cx="416.7" cy="223.8" r="0.85"/>
<circle cx="406.3" cy="223.5" r="0.85"/>
<circle cx="417.8" cy="213.1" r="0.85"/>
<circle cx="406.6" cy="219.2" r="0.85"/>
<circle cx="418.5" cy="214.9" r="0.85"/>
<circle cx="408.3" cy="219.6" r="0.85"/>
<circle cx="416.7" cy="225.4" r="0.85"/>
<circle cx="414.7" cy="215.9" r="0.85"/>
<circle cx="414.9" cy="221.5" r="0.85"/>
<circle cx="418.6" cy="210.0" r="0.85"/>
<circle cx="408.2" cy="219.4" r="0.85"/>
<circle cx="412.6" cy="230.2" r="0.85"/>
<circle cx="404.9" cy="211.3" r="0.85"/>
<circle cx="415.3" cy="221.6" r="0.85"/>
<circle cx="412.6" cy="223.7" r="0.85"/>
<circle cx="408.1" cy="220.8" r="0.85"/>
<circle cx="417.8" cy="210.6" r="0.85"/>
<circle cx="406.4" cy="213.1" r="0.85"/>
<circle cx="406.9" cy="212.0" r="0.85"/>
<circle cx="416.6" cy="220.3" r="0.85"/>
<circle cx="407.0" cy="224.4" r="0.85"/>
<circle cx="403.2" cy="218.1" r="0.85"/>
<circle cx="414.3" cy="214.4" r="0.85"/>
<circle cx="417.2" cy="215.7" r="0.85"/>
<circle cx="404.3" cy="210.9" r="0.85"/>
<circle cx="416.0" cy="219.0" r="0.85"/>
<circle cx="417.9" cy="227.2" r="0.85"/>
<circle cx="406.2" cy="218.8" r="0.85"/>
<circle cx="418.7" cy="220.5" r="0.85"/>
<circle cx="404.7" cy="210.0" r="0.85"/>
<circle cx="415.8" cy="221.3" r="0.85"/>
<circle cx="407.0" cy="215.2" r="0.85"/>
<circle cx="413.9" cy="219.6" r="0.85"/>
<circle cx="418.5" cy="211.3" r="0.85"/>
<circle cx="408.6" cy="225.8" r="0.85"/>
<circle cx="414.6" cy="227.3" r="0.85"/>
<circle cx="408.9" cy="223.2" r="0.85"/>
<circle cx="403.4" cy="226.7" r="0.85"/>
<circle cx="406.1" cy="212.4" r="0.85"/>
<circle cx="408.1" cy="218.7" r="0.85"/>
<circle cx="404.4" cy="219.4" r="0.85"/>
<circle cx="418.5" cy="214.3" r="0.85"/>
<circle cx="412.8" cy="223.2" r="0.85"/>
<circle cx="406.2" cy="209.3" r="0.85"/>
<circle cx="416.1" cy="227.2" r="0.85"/>
<circle cx="413.5" cy="218.6" r="0.85"/>
<circle cx="418.3" cy="230.0" r="0.85"/>
<circle cx="418.6" cy="212.3" r="0.85"/>
<circle cx="406.2" cy="223.1" r="0.85"/>
<circle cx="417.7" cy="229.6" r="0.85"/>
<circle cx="416.8" cy="210.8" r="0.85"/>
<circle cx="415.7" cy="213.9" r="0.85"/>
<circle cx="415.1" cy="209.3" r="0.85"/>
<circle cx="416.2" cy="221.8" r="0.85"/>
<circle cx="416.7" cy="216.1" r="0.85"/>
<circle cx="405.9" cy="216.1" r="0.85"/>
<circle cx="406.7" cy="215.1" r="0.85"/>
<circle cx="418.3" cy="219.0" r="0.85"/>
<circle cx="418.2" cy="213.3" r="0.85"/>
<circle cx="412.0" cy="227.4" r="0.85"/>
<circle cx="404.5" cy="223.8" r="0.85"/>
<circle cx="407.5" cy="223.8" r="0.85"/>
<circle cx="417.0" cy="223.1" r="0.85"/>
<circle cx="412.4" cy="230.9" r="0.85"/>
<circle cx="406.2" cy="224.7" r="0.85"/>
<circle cx="414.4" cy="221.4" r="0.85"/>
<circle cx="415.0" cy="211.3" r="0.85"/>
<circle cx="413.9" cy="221.3" r="0.85"/>
<circle cx="414.3" cy="226.6" r="0.85"/>
<circle cx="407.9" cy="217.2" r="0.85"/>
<circle cx="414.4" cy="213.5" r="0.85"/>
<circle cx="407.4" cy="221.5" r="0.85"/>
<circle cx="412.8" cy="225.5" r="0.85"/>
<circle cx="408.2" cy="225.9" r="0.85"/>
<circle cx="417.6" cy="223.6" r="0.85"/>
<circle cx="417.3" cy="211.7" r="0.85"/>
<circle cx="415.6" cy="218.5" r="0.85"/>
<circle cx="415.1" cy="214.1" r="0.85"/>
<circle cx="412.5" cy="224.0" r="0.85"/>
<circle cx="403.7" cy="231.1" r="0.85"/>
<circle cx="408.8" cy="230.3" r="0.85"/>
<circle cx="404.8" cy="214.5" r="0.85"/>
<circle cx="403.6" cy="226.2" r="0.85"/>
<circle cx="417.0" cy="229.8" r="0.85"/>
<circle cx="405.9" cy="211.4" r="0.85"/>
<circle cx="414.9" cy="212.2" r="0.85"/>
<circle cx="405.1" cy="212.5" r="0.85"/>
<circle cx="416.4" cy="230.3" r="0.85"/>
<circle cx="414.5" cy="217.8" r="0.85"/>
<circle cx="418.4" cy="223.7" r="0.85"/>
<circle cx="414.2" cy="215.2" r="0.85"/>
<circle cx="403.9" cy="220.6" r="0.85"/>
<circle cx="418.5" cy="215.4" r="0.85"/>
<circle cx="405.4" cy="214.2" r="0.85"/>
<circle cx="413.9" cy="223.9" r="0.85"/>
<circle cx="407.6" cy="219.8" r="0.85"/>
<circle cx="418.1" cy="213.8" r="0.85"/>
<circle cx="416.6" cy="222.1" r="0.85"/>
<circle cx="402.9" cy="220.0" r="0.85"/>
<circle cx="408.0" cy="217.9" r="0.85"/>
<circle cx="406.4" cy="222.9" r="0.85"/>
<circle cx="415.3" cy="224.0" r="0.85"/>
<circle cx="407.0" cy="221.2" r="0.85"/>
<circle cx="409.0" cy="225.6" r="0.85"/>
<circle cx="417.4" cy="226.6" r="0.85"/>
<circle cx="405.4" cy="218.6" r="0.85"/>
<circle cx="415.0" cy="231.0" r="0.85"/>
<circle cx="413.6" cy="219.4" r="0.85"/>
<circle cx="406.1" cy="218.1" r="0.85"/>
<circle cx="414.1" cy="221.8" r="0.85"/>
<circle cx="415.1" cy="219.6" r="0.85"/>
<circle cx="408.3" cy="224.4" r="0.85"/>
<circle cx="418.4" cy="225.1" r="0.85"/>
<circle cx="406.3" cy="209.4" r="0.85"/>
<circle cx="406.3" cy="210.8" r="0.85"/>
<circle cx="418.6" cy="220.8" r="0.85"/>
<circle cx="405.5" cy="228.5" r="0.85"/>
<circle cx="416.9" cy="221.5" r="0.85"/>
<circle cx="417.6" cy="212.4" r="0.85"/>
<circle cx="408.1" cy="222.5" r="0.85"/>
<circle cx="404.1" cy="217.9" r="0.85"/>
<circle cx="418.4" cy="212.1" r="0.85"/>
<circle cx="418.8" cy="229.5" r="0.85"/>
<circle cx="403.7" cy="217.3" r="0.85"/>
<circle cx="412.2" cy="226.7" r="0.85"/>
<circle cx="413.9" cy="217.1" r="0.85"/>
<circle cx="410.6" cy="229.4" r="0.85"/>
<circle cx="413.1" cy="224.5" r="0.85"/>
<circle cx="412.2" cy="226.2" r="0.85"/>
<circle cx="416.2" cy="212.1" r="0.85"/>
<circle cx="405.0" cy="210.5" r="0.85"/>
<circle cx="404.3" cy="225.2" r="0.85"/>
<circle cx="408.5" cy="220.9" r="0.85"/>
<circle cx="416.8" cy="225.9" r="0.85"/>
<circle cx="403.6" cy="210.2" r="0.85"/>
<circle cx="413.7" cy="222.5" r="0.85"/>
<circle cx="413.2" cy="220.9" r="0.85"/>
<circle cx="407.9" cy="230.2" r="0.85"/>
<circle cx="407.3" cy="214.1" r="0.85"/>
<circle cx="406.4" cy="209.8" r="0.85"/>
<circle cx="405.6" cy="223.2" r="0.85"/>
<circle cx="417.5" cy="209.1" r="0.85"/>
<circle cx="408.0" cy="224.0" r="0.85"/>
<circle cx="409.3" cy="227.5" r="0.85"/>
<circle cx="414.8" cy="217.5" r="0.85"/>
<circle cx="415.4" cy="209.2" r="0.85"/>
<circle cx="416.2" cy="216.0" r="0.85"/>
<circle cx="404.2" cy="225.8" r="0.85"/>
<circle cx="406.2" cy="218.7" r="0.85"/>
<circle cx="413.9" cy="218.1" r="0.85"/>
<circle cx="410.8" cy="229.3" r="0.85"/>
<circle cx="418.2" cy="220.8" r="0.85"/>
<circle cx="404.3" cy="209.3" r="0.85"/>
<circle cx="415.5" cy="211.8" r="0.85"/>
<circle cx="407.5" cy="215.4" r="0.85"/>
<circle cx="415.8" cy="217.3" r="0.85"/>
<circle cx="414.8" cy="223.9" r="0.85"/>
<circle cx="415.5" cy="224.4" r="0.85"/>
<circle cx="404.6" cy="210.6" r="0.85"/>
<circle cx="418.5" cy="213.3" r="0.85"/>
<circle cx="407.4" cy="218.0" r="0.85"/>
<circle cx="404.6" cy="227.8" r="0.85"/>
<circle cx="405.9" cy="215.0" r="0.85"/>
<circle cx="418.3" cy="228.3" r="0.85"/>
<circle cx="404.0" cy="227.9" r="0.85"/>
<circle cx="413.7" cy="227.6" r="0.85"/>
<circle cx="417.8" cy="215.8" r="0.85"/>
<circle cx="406.0" cy="229.0" r="0.85"/>
<circle cx="403.0" cy="213.0" r="0.85"/>
<circle cx="409.1" cy="229.4" r="0.85"/>
<circle cx="406.8" cy="217.5" r="0.85"/>
<circle cx="414.2" cy="222.3" r="0.85"/>
<circle cx="405.0" cy="218.2" r="0.85"/>
<circle cx="415.8" cy="212.4" r="0.85"/>
<circle cx="404.2" cy="229.1" r="0.85"/>
<circle cx="404.8" cy="221.2" r="0.85"/>
<circle cx="418.1" cy="223.7" r="0.85"/>
<circle cx="403.9" cy="215.9" r="0.85"/>
<circle cx="404.2" cy="213.4" r="0.85"/>
<circle cx="406.0" cy="210.5" r="0.85"/>
<circle cx="415.1" cy="213.3" r="0.85"/>
<circle cx="412.5" cy="224.9" r="0.85"/>
<circle cx="403.4" cy="228.9" r="0.85"/>
<circle cx="414.1" cy="227.7" r="0.85"/>
<circle cx="416.1" cy="220.8" r="0.85"/>
<circle cx="406.2" cy="230.9" r="0.85"/>
<circle cx="416.1" cy="227.6" r="0.85"/>
<circle cx="404.8" cy="216.6" r="0.85"/>
<circle cx="407.2" cy="218.4" r="0.85"/>
<circle cx="412.8" cy="225.1" r="0.85"/>
<circle cx="414.9" cy="210.8" r="0.85"/>
<circle cx="412.8" cy="226.6" r="0.85"/>
<circle cx="415.3" cy="214.5" r="0.85"/>
<circle cx="405.7" cy="210.6" r="0.85"/>
<circle cx="415.0" cy="210.7" r="0.85"/>
<circle cx="416.5" cy="212.9" r="0.85"/>
<circle cx="405.3" cy="225.4" r="0.85"/>
<circle cx="407.8" cy="227.9" r="0.85"/>
<circle cx="407.3" cy="220.7" r="0.85"/>
<circle cx="403.3" cy="220.1" r="0.85"/>
<circle cx="416.3" cy="215.5" r="0.85"/>
<circle cx="411.1" cy="230.0" r="0.85"/>
<circle cx="405.7" cy="223.9" r="0.85"/>
<circle cx="414.8" cy="219.8" r="0.85"/>
<circle cx="416.0" cy="216.5" r="0.85"/>
<circle cx="417.3" cy="222.8" r="0.85"/>
<circle cx="418.0" cy="225.7" r="0.85"/>
<circle cx="412.5" cy="227.6" r="0.85"/>
<circle cx="406.0" cy="222.1" r="0.85"/>
<circle cx="418.7" cy="210.9" r="0.85"/>
<circle cx="406.9" cy="225.2" r="0.85"/>
<circle cx="404.5" cy="213.5" r="0.85"/>
<circle cx="417.0" cy="214.6" r="0.85"/>
<circle cx="415.6" cy="225.8" r="0.85"/>
<circle cx="404.4" cy="217.6" r="0.85"/>
<circle cx="403.4" cy="215.6" r="0.85"/>
<circle cx="418.3" cy="229.4" r="0.85"/>
<circle cx="416.5" cy="219.2" r="0.85"/>
<circle cx="403.2" cy="222.6" r="0.85"/>
<circle cx="409.3" cy="228.9" r="0.85"/>
<circle cx="418.4" cy="210.6" r="0.85"/>
<circle cx="412.3" cy="230.5" r="0.85"/>
<circle cx="414.3" cy="229.0" r="0.85"/>
<circle cx="417.6" cy="218.0" r="0.85"/>
<circle cx="418.3" cy="214.0" r="0.85"/>
<circle cx="415.0" cy="228.0" r="0.85"/>
<circle cx="403.2" cy="229.3" r="0.85"/>
<circle cx="406.4" cy="220.4" r="0.85"/>
<circle cx="411.4" cy="230.7" r="0.85"/>
<circle cx="415.6" cy="217.5" r="0.85"/>
<circle cx="413.3" cy="224.8" r="0.85"/>
<circle cx="406.8" cy="223.0" r="0.85"/>
<circle cx="418.8" cy="216.7" r="0.85"/>
<circle cx="416.6" cy="209.1" r="0.85"/>
<circle cx="406.1" cy="209.2" r="0.85"/>
<circle cx="413.1" cy="221.6" r="0.85"/>
<circle cx="404.4" cy="212.0" r="0.85"/>
<circle cx="404.8" cy="211.0" r="0.85"/>
<circle cx="406.7" cy="211.6" r="0.85"/>
<circle cx="416.9" cy="216.3" r="0.85"/>
<circle cx="405.9" cy="217.1" r="0.85"/>
<circle cx="405.3" cy="211.5" r="0.85"/>
<circle cx="416.1" cy="228.4" r="0.85"/>
<circle cx="407.2" cy="218.0" r="0.85"/>
<circle cx="415.7" cy="221.0" r="0.85"/>
<circle cx="405.1" cy="229.0" r="0.85"/>
<circle cx="416.2" cy="214.2" r="0.85"/>
<circle cx="407.7" cy="230.1" r="0.85"/>
<circle cx="407.3" cy="229.5" r="0.85"/>
<circle cx="418.2" cy="230.8" r="0.85"/>
<circle cx="415.9" cy="226.7" r="0.85"/>
<circle cx="404.1" cy="212.7" r="0.85"/>
<circle cx="409.5" cy="226.7" r="0.85"/>
<circle cx="403.3" cy="209.5" r="0.85"/>
<circle cx="409.2" cy="228.6" r="0.85"/>
<circle cx="417.5" cy="216.4" r="0.85"/>
<circle cx="415.6" cy="211.6" r="0.85"/>
<circle cx="415.3" cy="220.1" r="0.85"/>
<circle cx="413.8" cy="226.8" r="0.85"/>
<circle cx="414.3" cy="222.0" r="0.85"/>
<circle cx="412.4" cy="224.6" r="0.85"/>
<circle cx="417.8" cy="214.6" r="0.85"/>
<circle cx="417.8" cy="219.1" r="0.85"/>
<circle cx="404.6" cy="229.9" r="0.85"/>
<circle cx="406.6" cy="227.0" r="0.85"/>
<circle cx="403.8" cy="230.7" r="0.85"/>
<circle cx="415.3" cy="215.5" r="0.85"/>
<circle cx="412.5" cy="229.6" r="0.85"/>
<circle cx="404.7" cy="226.4" r="0.85"/>
<circle cx="407.3" cy="221.0" r="0.85"/>
<circle cx="416.3" cy="218.1" r="0.85"/>
<circle cx="405.8" cy="229.3" r="0.85"/>
<circle cx="417.8" cy="212.6" r="0.85"/>
<circle cx="417.8" cy="230.4" r="0.85"/>
<circle cx="405.3" cy="216.1" r="0.85"/>
<circle cx="414.3" cy="225.9" r="0.85"/>
<circle cx="413.6" cy="228.6" r="0.85"/>
<circle cx="413.7" cy="229.8" r="0.85"/>
<circle cx="418.5" cy="216.4" r="0.85"/>
<circle cx="404.6" cy="221.2" r="0.85"/>
<circle cx="415.8" cy="229.2" r="0.85"/>
<circle cx="417.6" cy="222.0" r="0.85"/>
<circle cx="405.4" cy="227.1" r="0.85"/>
<circle cx="414.8" cy="226.9" r="0.85"/>
<circle cx="406.0" cy="216.3" r="0.85"/>
<circle cx="405.4" cy="211.2" r="0.85"/>
<circle cx="403.1" cy="225.7" r="0.85"/>
<circle cx="418.8" cy="214.2" r="0.85"/>
<circle cx="405.8" cy="214.4" r="0.85"/>
<circle cx="406.1" cy="227.0" r="0.85"/>
<circle cx="404.9" cy="229.6" r="0.85"/>
<circle cx="404.0" cy="225.2" r="0.85"/>
<circle cx="407.0" cy="219.4" r="0.85"/>
<circle cx="407.3" cy="222.8" r="0.85"/>
<circle cx="404.9" cy="216.2" r="0.85"/>
<circle cx="405.1" cy="227.6" r="0.85"/>
<circle cx="416.0" cy="214.4" r="0.85"/>
<circle cx="405.3" cy="213.6" r="0.85"/>
<circle cx="416.9" cy="229.2" r="0.85"/>
<circle cx="414.2" cy="222.9" r="0.85"/>
<circle cx="407.6" cy="221.8" r="0.85"/>
<circle cx="403.6" cy="221.7" r="0.85"/>
<circle cx="414.7" cy="212.3" r="0.85"/>
<circle cx="418.8" cy="214.8" r="0.85"/>
<circle cx="414.8" cy="229.7" r="0.85"/>
<circle cx="415.0" cy="217.8" r="0.85"/>
<circle cx="408.3" cy="227.3" r="0.85"/>
<circle cx="413.5" cy="229.5" r="0.85"/>
<circle cx="403.9" cy="215.3" r="0.85"/>
<circle cx="415.6" cy="213.7" r="0.85"/>
<circle cx="412.8" cy="224.0" r="0.85"/>
<circle cx="406.4" cy="213.3" r="0.85"/>
<circle cx="418.7" cy="225.4" r="0.85"/>
<circle cx="408.8" cy="223.4" r="0.85"/>
<circle cx="414.5" cy="222.4" r="0.85"/>
<circle cx="409.6" cy="227.9" r="0.85"/>
<circle cx="415.2" cy="215.4" r="0.85"/>
<circle cx="408.4" cy="226.4" r="0.85"/>
<circle cx="415.2" cy="209.1" r="0.85"/>
<circle cx="417.7" cy="213.5" r="0.85"/>
<circle cx="408.2" cy="221.4" r="0.85"/>
<circle cx="407.0" cy="226.2" r="0.85"/>
<circle cx="415.8" cy="215.5" r="0.85"/>
<circle cx="416.8" cy="211.6" r="0.85"/>
<circle cx="413.3" cy="227.9" r="0.85"/>
<circle cx="418.4" cy="226.5" r="0.85"/>
<circle cx="415.8" cy="224.1" r="0.85"/>
<circle cx="418.1" cy="226.7" r="0.85"/>
<circle cx="406.9" cy="219.9" r="0.85"/>
<circle cx="406.0" cy="217.4" r="0.85"/>
<circle cx="407.6" cy="225.0" r="0.85"/>
<circle cx="402.8" cy="210.1" r="0.85"/>
<circle cx="415.0" cy="213.0" r="0.85"/>
<circle cx="405.4" cy="220.7" r="0.85"/>
<circle cx="416.4" cy="211.2" r="0.85"/>
<circle cx="405.0" cy="214.9" r="0.85"/>
<circle cx="412.7" cy="225.8" r="0.85"/>
<circle cx="403.4" cy="218.4" r="0.85"/>
<circle cx="405.7" cy="227.7" r="0.85"/>
<circle cx="407.7" cy="231.3" r="0.85"/>
<circle cx="416.5" cy="212.2" r="0.85"/>
<circle cx="417.4" cy="225.9" r="0.85"/>
<circle cx="404.1" cy="226.5" r="0.85"/>
<circle cx="415.4" cy="212.3" r="0.85"/>
<circle cx="417.6" cy="216.1" r="0.85"/>
<circle cx="406.3" cy="217.1" r="0.85"/>
<circle cx="405.1" cy="223.6" r="0.85"/>
<circle cx="416.6" cy="230.0" r="0.85"/>
<circle cx="414.4" cy="220.9" r="0.85"/>
<circle cx="402.9" cy="210.8" r="0.85"/>
<circle cx="403.1" cy="224.0" r="0.85"/>
<circle cx="404.5" cy="230.6" r="0.85"/>
<circle cx="407.7" cy="219.6" r="0.85"/>
<circle cx="408.1" cy="223.0" r="0.85"/>
<circle cx="406.8" cy="211.4" r="0.85"/>
<circle cx="415.1" cy="228.4" r="0.85"/>
<circle cx="404.5" cy="213.9" r="0.85"/>
<circle cx="403.6" cy="221.8" r="0.85"/>
<circle cx="406.0" cy="221.3" r="0.85"/>
<circle cx="408.9" cy="228.8" r="0.85"/>
<circle cx="404.6" cy="216.8" r="0.85"/>
<circle cx="407.0" cy="228.2" r="0.85"/>
<circle cx="408.5" cy="222.1" r="0.85"/>
<circle cx="417.7" cy="217.1" r="0.85"/>
<circle cx="418.8" cy="220.4" r="0.85"/>
<circle cx="414.9" cy="228.9" r="0.85"/>
<circle cx="410.7" cy="229.2" r="0.85"/>
<circle cx="404.0" cy="212.0" r="0.85"/>
<circle cx="411.5" cy="229.0" r="0.85"/>
<circle cx="402.9" cy="216.0" r="0.85"/>
<circle cx="405.9" cy="230.0" r="0.85"/>
<circle cx="403.4" cy="219.2" r="0.85"/>
<circle cx="406.2" cy="220.4" r="0.85"/>
<circle cx="407.0" cy="222.4" r="0.85"/>
<circle cx="416.7" cy="213.6" r="0.85"/>
<circle cx="413.8" cy="226.1" r="0.85"/>
<circle cx="403.2" cy="227.9" r="0.85"/>
<circle cx="406.1" cy="226.4" r="0.85"/>
<circle cx="415.4" cy="230.9" r="0.85"/>
<circle cx="406.3" cy="224.2" r="0.85"/>
<circle cx="411.4" cy="229.9" r="0.85"/>
<circle cx="415.5" cy="229.8" r="0.85"/>
<circle cx="408.2" cy="225.6" r="0.85"/>
<circle cx="413.8" cy="230.4" r="0.85"/>
<circle cx="415.3" cy="226.3" r="0.85"/>
<circle cx="417.1" cy="212.9" r="0.85"/>
<circle cx="413.0" cy="230.7" r="0.85"/>
<circle cx="415.8" cy="209.1" r="0.85"/>
<circle cx="415.7" cy="219.2" r="0.85"/>
<circle cx="404.4" cy="222.6" r="0.85"/>
<circle cx="416.2" cy="225.9" r="0.85"/>
<circle cx="417.2" cy="229.7" r="0.85"/>
<circle cx="404.9" cy="209.1" r="0.85"/>
<circle cx="403.8" cy="210.3" r="0.85"/>
<circle cx="403.3" cy="212.9" r="0.85"/>
<circle cx="405.6" cy="221.7" r="0.85"/>
<circle cx="407.4" cy="215.2" r="0.85"/>
<circle cx="414.8" cy="215.0" r="0.85"/>
<circle cx="404.5" cy="215.0" r="0.85"/>
<circle cx="410.5" cy="230.6" r="0.85"/>
<circle cx="404.7" cy="220.5" r="0.85"/>
<circle cx="407.7" cy="230.3" r="0.85"/>
<circle cx="414.4" cy="231.3" r="0.85"/>
<circle cx="417.3" cy="219.7" r="0.85"/>
<circle cx="405.6" cy="230.8" r="0.85"/>
<circle cx="405.3" cy="218.8" r="0.85"/>
<circle cx="407.9" cy="220.7" r="0.85"/>
<circle cx="415.6" cy="216.7" r="0.85"/>
<circle cx="407.0" cy="225.7" r="0.85"/>
<circle cx="417.0" cy="230.7" r="0.85"/>
<circle cx="413.8" cy="226.4" r="0.85"/>
<circle cx="418.0" cy="218.2" r="0.85"/>
<circle cx="413.8" cy="225.2" r="0.85"/>
<circle cx="403.5" cy="213.6" r="0.85"/>
<circle cx="414.0" cy="229.4" r="0.85"/>
<circle cx="403.5" cy="217.9" r="0.85"/>
<circle cx="418.8" cy="218.3" r="0.85"/>
<circle cx="416.8" cy="222.2" r="0.85"/>
<circle cx="418.7" cy="228.9" r="0.85"/>
<circle cx="405.4" cy="209.2" r="0.85"/>
<circle cx="404.6" cy="216.5" r="0.85"/>
<circle cx="414.8" cy="220.5" r="0.85"/>
<circle cx="415.5" cy="220.3" r="0.85"/>
<circle cx="415.3" cy="218.2" r="0.85"/>
<circle cx="415.9" cy="217.8" r="0.85"/>
<circle cx="412.9" cy="229.3" r="0.85"/>
<circle cx="407.5" cy="224.3" r="0.85"/>
<circle cx="417.0" cy="227.5" r="0.85"/>
<circle cx="402.8" cy="225.1" r="0.85"/>
<circle cx="415.6" cy="214.9" r="0.85"/>
<circle cx="408.6" cy="224.8" r="0.85"/>
<circle cx="416.1" cy="223.0" r="0.85"/>
<circle cx="413.3" cy="221.2" r="0.85"/>
<circle cx="405.9" cy="225.1" r="0.85"/>
<circle cx="416.7" cy="228.6" r="0.85"/>
<circle cx="416.9" cy="231.3" r="0.85"/>
<circle cx="411.3" cy="229.5" r="0.85"/>
<circle cx="411.0" cy="230.7" r="0.85"/>
<circle cx="418.0" cy="220.0" r="0.85"/>
<circle cx="405.2" cy="213.7" r="0.85"/>
<circle cx="408.5" cy="223.1" r="0.85"/>
<circle cx="410.2" cy="229.5" r="0.85"/>
<circle cx="407.0" cy="229.4" r="0.85"/>
<circle cx="412.4" cy="225.3" r="0.85"/>
<circle cx="403.1" cy="212.7" r="0.85"/>
<circle cx="405.1" cy="212.0" r="0.85"/>
<circle cx="407.6" cy="219.1" r="0.85"/>
<circle cx="404.2" cy="221.8" r="0.85"/>
<circle cx="414.6" cy="219.6" r="0.85"/>
<circle cx="410.2" cy="229.9" r="0.85"/>
<circle cx="403.6" cy="215.9" r="0.85"/>
<circle cx="405.5" cy="214.4" r="0.85"/>
<circle cx="417.6" cy="228.6" r="0.85"/>
<circle cx="415.9" cy="219.3" r="0.85"/>
<circle cx="405.5" cy="221.8" r="0.85"/>
<circle cx="408.3" cy="219.8" r="0.85"/>
<circle cx="404.2" cy="229.8" r="0.85"/>
</g>
<g fill="#3f9a3a" fill-opacity="0.85">
<circle cx="401.6" cy="216.8" r="1.05"/>
<circle cx="400.5" cy="209.8" r="1.05"/>
<circle cx="395.8" cy="216.0" r="1.05"/>
<circle cx="420.9" cy="221.4" r="1.05"/>
<circle cx="401.8" cy="220.1" r="1.05"/>
<circle cx="420.1" cy="225.5" r="1.05"/>
<circle cx="398.1" cy="218.0" r="1.05"/>
<circle cx="401.5" cy="220.8" r="1.05"/>
<circle cx="419.5" cy="227.9" r="1.05"/>
<circle cx="401.6" cy="222.6" r="1.05"/>
<circle cx="397.5" cy="212.3" r="1.05"/>
<circle cx="423.2" cy="212.8" r="1.05"/>
<circle cx="402.1" cy="227.0" r="1.05"/>
<circle cx="399.2" cy="222.9" r="1.05"/>
<circle cx="420.4" cy="220.5" r="1.05"/>
<circle cx="401.3" cy="211.6" r="1.05"/>
<circle cx="419.4" cy="210.0" r="1.05"/>
<circle cx="400.2" cy="209.3" r="1.05"/>
<circle cx="422.2" cy="216.1" r="1.05"/>
<circle cx="400.9" cy="209.8" r="1.05"/>
<circle cx="420.4" cy="230.6" r="1.05"/>
<circle cx="402.3" cy="230.5" r="1.05"/>
<circle cx="419.2" cy="223.2" r="1.05"/>
<circle cx="423.6" cy="226.9" r="1.05"/>
<circle cx="422.9" cy="210.3" r="1.05"/>
<circle cx="398.9" cy="209.1" r="1.05"/>
<circle cx="402.1" cy="228.6" r="1.05"/>
<circle cx="398.6" cy="210.3" r="1.05"/>
<circle cx="397.1" cy="225.5" r="1.05"/>
<circle cx="402.4" cy="209.7" r="1.05"/>
<circle cx="421.2" cy="222.6" r="1.05"/>
<circle cx="421.1" cy="217.6" r="1.05"/>
<circle cx="398.7" cy="224.4" r="1.05"/>
<circle cx="398.2" cy="223.8" r="1.05"/>
<circle cx="394.9" cy="226.2" r="1.05"/>
<circle cx="421.2" cy="228.1" r="1.05"/>
<circle cx="400.2" cy="222.9" r="1.05"/>
<circle cx="400.2" cy="221.9" r="1.05"/>
<circle cx="401.7" cy="223.4" r="1.05"/>
<circle cx="421.3" cy="212.1" r="1.05"/>
<circle cx="401.4" cy="210.6" r="1.05"/>
<circle cx="420.9" cy="221.0" r="1.05"/>
<circle cx="420.4" cy="228.6" r="1.05"/>
<circle cx="420.2" cy="215.2" r="1.05"/>
<circle cx="402.6" cy="229.9" r="1.05"/>
<circle cx="399.5" cy="215.8" r="1.05"/>
<circle cx="422.9" cy="224.2" r="1.05"/>
<circle cx="423.9" cy="214.7" r="1.05"/>
<circle cx="397.4" cy="215.0" r="1.05"/>
<circle cx="420.3" cy="225.9" r="1.05"/>
<circle cx="420.0" cy="213.7" r="1.05"/>
<circle cx="419.4" cy="218.0" r="1.05"/>
<circle cx="401.2" cy="230.4" r="1.05"/>
<circle cx="420.4" cy="219.0" r="1.05"/>
<circle cx="397.8" cy="217.5" r="1.05"/>
<circle cx="402.5" cy="217.8" r="1.05"/>
<circle cx="422.5" cy="222.3" r="1.05"/>
<circle cx="420.9" cy="221.8" r="1.05"/>
<circle cx="421.3" cy="216.7" r="1.05"/>
<circle cx="419.6" cy="213.4" r="1.05"/>
<circle cx="419.8" cy="228.4" r="1.05"/>
<circle cx="401.8" cy="212.1" r="1.05"/>
<circle cx="396.5" cy="215.2" r="1.05"/>
<circle cx="421.9" cy="217.8" r="1.05"/>
<circle cx="398.3" cy="226.2" r="1.05"/>
<circle cx="398.2" cy="218.5" r="1.05"/>
<circle cx="421.0" cy="218.2" r="1.05"/>
<circle cx="398.3" cy="230.4" r="1.05"/>
<circle cx="421.1" cy="220.6" r="1.05"/>
<circle cx="399.7" cy="224.3" r="1.05"/>
<circle cx="419.6" cy="221.8" r="1.05"/>
<circle cx="397.7" cy="209.5" r="1.05"/>
<circle cx="421.3" cy="223.1" r="1.05"/>
<circle cx="402.2" cy="227.6" r="1.05"/>
<circle cx="419.7" cy="214.6" r="1.05"/>
<circle cx="423.3" cy="217.6" r="1.05"/>
<circle cx="420.1" cy="217.3" r="1.05"/>
<circle cx="397.6" cy="218.8" r="1.05"/>
<circle cx="421.6" cy="224.2" r="1.05"/>
<circle cx="400.0" cy="218.1" r="1.05"/>
<circle cx="400.2" cy="228.3" r="1.05"/>
<circle cx="423.3" cy="229.4" r="1.05"/>
<circle cx="400.0" cy="224.1" r="1.05"/>
<circle cx="422.5" cy="215.0" r="1.05"/>
<circle cx="397.5" cy="228.2" r="1.05"/>
<circle cx="422.1" cy="222.1" r="1.05"/>
<circle cx="421.0" cy="210.8" r="1.05"/>
<circle cx="421.5" cy="210.1" r="1.05"/>
<circle cx="396.7" cy="211.0" r="1.05"/>
<circle cx="401.3" cy="230.4" r="1.05"/>
<circle cx="419.5" cy="223.3" r="1.05"/>
<circle cx="419.4" cy="225.7" r="1.05"/>
<circle cx="420.3" cy="216.8" r="1.05"/>
<circle cx="399.8" cy="216.1" r="1.05"/>
<circle cx="402.0" cy="222.1" r="1.05"/>
<circle cx="424.6" cy="216.1" r="1.05"/>
<circle cx="395.0" cy="222.6" r="1.05"/>
<circle cx="402.2" cy="220.5" r="1.05"/>
<circle cx="424.5" cy="226.0" r="1.05"/>
<circle cx="421.8" cy="214.7" r="1.05"/>
<circle cx="400.8" cy="227.1" r="1.05"/>
<circle cx="402.2" cy="216.1" r="1.05"/>
<circle cx="423.4" cy="228.1" r="1.05"/>
<circle cx="402.3" cy="224.7" r="1.05"/>
<circle cx="422.2" cy="216.9" r="1.05"/>
<circle cx="398.3" cy="223.1" r="1.05"/>
<circle cx="401.6" cy="215.3" r="1.05"/>
<circle cx="422.8" cy="219.9" r="1.05"/>
<circle cx="401.5" cy="214.9" r="1.05"/>
<circle cx="401.7" cy="219.5" r="1.05"/>
<circle cx="420.6" cy="223.3" r="1.05"/>
<circle cx="421.2" cy="209.8" r="1.05"/>
<circle cx="398.6" cy="215.9" r="1.05"/>
<circle cx="421.0" cy="227.1" r="1.05"/>
<circle cx="420.0" cy="230.1" r="1.05"/>
<circle cx="395.9" cy="222.3" r="1.05"/>
<circle cx="421.8" cy="221.4" r="1.05"/>
<circle cx="400.5" cy="213.2" r="1.05"/>
<circle cx="401.8" cy="223.7" r="1.05"/>
<circle cx="400.0" cy="227.1" r="1.05"/>
<circle cx="419.8" cy="223.3" r="1.05"/>
<circle cx="421.1" cy="225.9" r="1.05"/>
<circle cx="420.6" cy="226.7" r="1.05"/>
<circle cx="421.2" cy="219.6" r="1.05"/>
<circle cx="420.0" cy="209.6" r="1.05"/>
<circle cx="402.6" cy="222.5" r="1.05"/>
<circle cx="422.3" cy="216.3" r="1.05"/>
<circle cx="420.3" cy="223.1" r="1.05"/>
<circle cx="398.3" cy="213.8" r="1.05"/>
<circle cx="397.2" cy="215.6" r="1.05"/>
<circle cx="419.1" cy="228.9" r="1.05"/>
<circle cx="420.1" cy="220.1" r="1.05"/>
<circle cx="398.7" cy="228.9" r="1.05"/>
<circle cx="420.9" cy="214.9" r="1.05"/>
<circle cx="419.6" cy="219.8" r="1.05"/>
<circle cx="420.6" cy="221.3" r="1.05"/>
<circle cx="402.1" cy="216.6" r="1.05"/>
<circle cx="422.4" cy="230.6" r="1.05"/>
<circle cx="422.1" cy="219.6" r="1.05"/>
<circle cx="423.0" cy="214.4" r="1.05"/>
<circle cx="421.0" cy="224.5" r="1.05"/>
<circle cx="401.0" cy="213.7" r="1.05"/>
<circle cx="395.5" cy="227.6" r="1.05"/>
<circle cx="400.2" cy="220.2" r="1.05"/>
<circle cx="395.4" cy="218.3" r="1.05"/>
<circle cx="402.5" cy="216.6" r="1.05"/>
<circle cx="401.5" cy="220.1" r="1.05"/>
<circle cx="420.5" cy="216.6" r="1.05"/>
<circle cx="402.3" cy="223.5" r="1.05"/>
<circle cx="420.0" cy="224.6" r="1.05"/>
<circle cx="423.7" cy="219.1" r="1.05"/>
<circle cx="401.0" cy="223.8" r="1.05"/>
<circle cx="401.9" cy="226.7" r="1.05"/>
<circle cx="422.3" cy="229.5" r="1.05"/>
<circle cx="399.0" cy="225.0" r="1.05"/>
<circle cx="398.5" cy="210.8" r="1.05"/>
<circle cx="419.5" cy="219.4" r="1.05"/>
<circle cx="421.4" cy="229.0" r="1.05"/>
<circle cx="421.0" cy="223.0" r="1.05"/>
<circle cx="419.2" cy="216.4" r="1.05"/>
<circle cx="422.0" cy="229.0" r="1.05"/>
<circle cx="421.7" cy="215.0" r="1.05"/>
<circle cx="401.9" cy="218.7" r="1.05"/>
<circle cx="422.5" cy="209.6" r="1.05"/>
<circle cx="419.4" cy="229.9" r="1.05"/>
<circle cx="397.3" cy="211.1" r="1.05"/>
<circle cx="396.9" cy="230.4" r="1.05"/>
<circle cx="421.8" cy="217.6" r="1.05"/>
<circle cx="401.5" cy="224.6" r="1.05"/>
<circle cx="395.0" cy="209.6" r="1.05"/>
<circle cx="422.6" cy="214.7" r="1.05"/>
<circle cx="401.9" cy="210.6" r="1.05"/>
<circle cx="421.1" cy="215.5" r="1.05"/>
<circle cx="421.6" cy="218.3" r="1.05"/>
<circle cx="399.6" cy="228.1" r="1.05"/>
<circle cx="424.7" cy="224.3" r="1.05"/>
<circle cx="427.1" cy="229.0" r="1.05"/>
<circle cx="402.2" cy="215.1" r="1.05"/>
<circle cx="420.4" cy="215.0" r="1.05"/>
<circle cx="400.6" cy="217.6" r="1.05"/>
<circle cx="399.8" cy="224.5" r="1.05"/>
<circle cx="420.6" cy="213.3" r="1.05"/>
<circle cx="401.8" cy="217.5" r="1.05"/>
<circle cx="399.1" cy="209.6" r="1.05"/>
<circle cx="399.4" cy="221.0" r="1.05"/>
<circle cx="401.7" cy="209.8" r="1.05"/>
<circle cx="421.9" cy="222.5" r="1.05"/>
<circle cx="421.7" cy="212.9" r="1.05"/>
<circle cx="390.8" cy="227.4" r="1.05"/>
<circle cx="431.6" cy="218.0" r="1.05"/>
<circle cx="438.0" cy="217.1" r="1.05"/>
<circle cx="434.0" cy="218.9" r="1.05"/>
<circle cx="393.2" cy="229.2" r="1.05"/>
<circle cx="391.6" cy="225.2" r="1.05"/>
</g>
<g fill="#4060c8" fill-opacity="0.85">
<circle cx="417.8" cy="202.0" r="1.05"/>
<circle cx="417.7" cy="202.6" r="1.05"/>
<circle cx="417.4" cy="204.1" r="1.05"/>
<circle cx="405.3" cy="205.6" r="1.05"/>
<circle cx="416.3" cy="208.4" r="1.05"/>
<circle cx="416.6" cy="201.8" r="1.05"/>
<circle cx="417.0" cy="203.6" r="1.05"/>
<circle cx="404.6" cy="206.0" r="1.05"/>
<circle cx="416.7" cy="205.7" r="1.05"/>
<circle cx="416.5" cy="203.8" r="1.05"/>
<circle cx="416.9" cy="206.4" r="1.05"/>
<circle cx="404.8" cy="203.1" r="1.05"/>
<circle cx="415.8" cy="206.2" r="1.05"/>
<circle cx="417.0" cy="204.6" r="1.05"/>
<circle cx="405.0" cy="206.9" r="1.05"/>
<circle cx="416.7" cy="201.3" r="1.05"/>
<circle cx="416.2" cy="208.7" r="1.05"/>
<circle cx="416.4" cy="207.8" r="1.05"/>
<circle cx="405.2" cy="208.9" r="1.05"/>
<circle cx="416.8" cy="201.4" r="1.05"/>
<circle cx="416.2" cy="207.1" r="1.05"/>
<circle cx="417.4" cy="206.8" r="1.05"/>
<circle cx="415.9" cy="208.1" r="1.05"/>
<circle cx="404.5" cy="203.7" r="1.05"/>
<circle cx="416.9" cy="205.6" r="1.05"/>
<circle cx="404.0" cy="203.0" r="1.05"/>
<circle cx="403.9" cy="201.1" r="1.05"/>
<circle cx="416.2" cy="205.1" r="1.05"/>
<circle cx="405.8" cy="206.1" r="1.05"/>
<circle cx="417.7" cy="201.3" r="1.05"/>
<circle cx="417.4" cy="203.4" r="1.05"/>
<circle cx="404.3" cy="201.6" r="1.05"/>
<circle cx="406.0" cy="206.8" r="1.05"/>
<circle cx="415.9" cy="205.7" r="1.05"/>
<circle cx="416.5" cy="206.5" r="1.05"/>
<circle cx="416.9" cy="202.3" r="1.05"/>
<circle cx="405.5" cy="204.1" r="1.05"/>
<circle cx="403.8" cy="202.5" r="1.05"/>
<circle cx="416.5" cy="205.0" r="1.05"/>
<circle cx="405.6" cy="204.5" r="1.05"/>
<circle cx="405.7" cy="208.6" r="1.05"/>
<circle cx="417.9" cy="201.5" r="1.05"/>
<circle cx="404.7" cy="205.0" r="1.05"/>
<circle cx="417.0" cy="203.2" r="1.05"/>
<circle cx="404.5" cy="208.8" r="1.05"/>
<circle cx="415.7" cy="207.2" r="1.05"/>
<circle cx="416.5" cy="207.3" r="1.05"/>
<circle cx="416.9" cy="205.0" r="1.05"/>
<circle cx="415.5" cy="207.6" r="1.05"/>
<circle cx="404.0" cy="201.4" r="1.05"/>
<circle cx="404.5" cy="201.1" r="1.05"/>
<circle cx="405.8" cy="206.3" r="1.05"/>
<circle cx="416.6" cy="203.1" r="1.05"/>
<circle cx="417.4" cy="207.9" r="1.05"/>
<circle cx="416.6" cy="204.3" r="1.05"/>
<circle cx="404.9" cy="201.3" r="1.05"/>
<circle cx="405.7" cy="207.0" r="1.05"/>
<circle cx="404.3" cy="208.1" r="1.05"/>
<circle cx="405.3" cy="203.0" r="1.05"/>
<circle cx="404.9" cy="201.9" r="1.05"/>
<circle cx="405.6" cy="205.1" r="1.05"/>
<circle cx="406.1" cy="208.5" r="1.05"/>
<circle cx="404.5" cy="206.6" r="1.05"/>
<circle cx="404.5" cy="207.3" r="1.05"/>
<circle cx="405.4" cy="207.7" r="1.05"/>
<circle cx="417.5" cy="206.3" r="1.05"/>
<circle cx="416.6" cy="201.2" r="1.05"/>
<circle cx="405.2" cy="204.7" r="1.05"/>
<circle cx="403.8" cy="202.1" r="1.05"/>
</g>
<g fill="#c8202e" fill-opacity="0.85">
<circle cx="426.0" cy="184.7" r="1.05"/>
<circle cx="427.5" cy="185.7" r="1.05"/>
<circle cx="421.6" cy="195.2" r="1.05"/>
<circle cx="421.5" cy="197.8" r="1.05"/>
<circle cx="423.0" cy="187.4" r="1.05"/>
<circle cx="423.0" cy="184.6" r="1.05"/>
<circle cx="426.1" cy="185.9" r="1.05"/>
<circle cx="419.3" cy="207.1" r="1.05"/>
<circle cx="420.0" cy="207.0" r="1.05"/>
<circle cx="424.0" cy="190.7" r="1.05"/>
<circle cx="421.9" cy="205.0" r="1.05"/>
<circle cx="424.7" cy="190.4" r="1.05"/>
<circle cx="422.3" cy="203.3" r="1.05"/>
<circle cx="422.3" cy="208.1" r="1.05"/>
<circle cx="422.4" cy="199.4" r="1.05"/>
<circle cx="421.8" cy="190.3" r="1.05"/>
<circle cx="419.8" cy="202.8" r="1.05"/>
<circle cx="425.7" cy="204.6" r="1.05"/>
<circle cx="420.7" cy="196.8" r="1.05"/>
<circle cx="421.9" cy="193.1" r="1.05"/>
<circle cx="421.3" cy="202.8" r="1.05"/>
<circle cx="421.7" cy="190.3" r="1.05"/>
<circle cx="425.5" cy="182.4" r="1.05"/>
<circle cx="423.4" cy="208.2" r="1.05"/>
<circle cx="425.8" cy="205.1" r="1.05"/>
<circle cx="421.8" cy="191.3" r="1.05"/>
<circle cx="419.4" cy="208.4" r="1.05"/>
<circle cx="421.1" cy="199.9" r="1.05"/>
<circle cx="423.8" cy="195.8" r="1.05"/>
<circle cx="422.3" cy="183.5" r="1.05"/>
<circle cx="428.9" cy="189.0" r="1.05"/>
<circle cx="421.6" cy="188.1" r="1.05"/>
<circle cx="422.4" cy="186.5" r="1.05"/>
<circle cx="423.6" cy="182.9" r="1.05"/>
<circle cx="427.7" cy="184.6" r="1.05"/>
<circle cx="422.8" cy="186.7" r="1.05"/>
<circle cx="421.9" cy="199.7" r="1.05"/>
<circle cx="421.5" cy="207.6" r="1.05"/>
<circle cx="422.4" cy="186.0" r="1.05"/>
<circle cx="419.6" cy="206.1" r="1.05"/>
<circle cx="429.6" cy="183.9" r="1.05"/>
<circle cx="422.1" cy="198.8" r="1.05"/>
<circle cx="423.1" cy="205.7" r="1.05"/>
<circle cx="424.1" cy="184.1" r="1.05"/>
<circle cx="423.2" cy="198.2" r="1.05"/>
<circle cx="427.4" cy="183.3" r="1.05"/>
<circle cx="427.6" cy="187.5" r="1.05"/>
<circle cx="423.1" cy="195.5" r="1.05"/>
<circle cx="422.8" cy="184.0" r="1.05"/>
<circle cx="431.7" cy="189.8" r="1.05"/>
<circle cx="424.4" cy="192.5" r="1.05"/>
<circle cx="423.7" cy="190.7" r="1.05"/>
<circle cx="420.9" cy="205.8" r="1.05"/>
<circle cx="421.4" cy="198.7" r="1.05"/>
<circle cx="421.1" cy="194.1" r="1.05"/>
<circle cx="423.6" cy="195.3" r="1.05"/>
<circle cx="422.1" cy="185.4" r="1.05"/>
<circle cx="426.2" cy="196.3" r="1.05"/>
<circle cx="422.1" cy="199.9" r="1.05"/>
<circle cx="425.5" cy="188.8" r="1.05"/>
<circle cx="423.0" cy="199.3" r="1.05"/>
<circle cx="422.7" cy="207.5" r="1.05"/>
<circle cx="422.0" cy="196.4" r="1.05"/>
<circle cx="421.7" cy="200.3" r="1.05"/>
<circle cx="428.4" cy="184.9" r="1.05"/>
<circle cx="420.7" cy="196.1" r="1.05"/>
<circle cx="421.8" cy="207.2" r="1.05"/>
<circle cx="422.7" cy="182.5" r="1.05"/>
<circle cx="423.7" cy="188.2" r="1.05"/>
<circle cx="424.0" cy="206.9" r="1.05"/>
<circle cx="420.8" cy="203.5" r="1.05"/>
<circle cx="419.5" cy="206.6" r="1.05"/>
<circle cx="422.9" cy="192.9" r="1.05"/>
<circle cx="423.9" cy="192.8" r="1.05"/>
<circle cx="428.8" cy="186.1" r="1.05"/>
<circle cx="422.7" cy="182.0" r="1.05"/>
<circle cx="426.5" cy="201.4" r="1.05"/>
<circle cx="422.5" cy="189.5" r="1.05"/>
<circle cx="423.8" cy="186.8" r="1.05"/>
<circle cx="427.8" cy="188.3" r="1.05"/>
<circle cx="420.2" cy="204.8" r="1.05"/>
<circle cx="420.4" cy="201.2" r="1.05"/>
<circle cx="424.2" cy="189.8" r="1.05"/>
<circle cx="421.8" cy="201.5" r="1.05"/>
<circle cx="420.5" cy="203.4" r="1.05"/>
<circle cx="401.0" cy="193.0" r="1.05"/>
<circle cx="401.0" cy="194.9" r="1.05"/>
<circle cx="401.2" cy="197.4" r="1.05"/>
<circle cx="400.7" cy="201.9" r="1.05"/>
<circle cx="400.5" cy="187.6" r="1.05"/>
<circle cx="402.1" cy="187.9" r="1.05"/>
<circle cx="402.0" cy="199.4" r="1.05"/>
<circle cx="401.0" cy="206.4" r="1.05"/>
<circle cx="401.8" cy="189.7" r="1.05"/>
<circle cx="400.6" cy="199.7" r="1.05"/>
<circle cx="401.9" cy="190.5" r="1.05"/>
<circle cx="400.8" cy="190.6" r="1.05"/>
<circle cx="400.7" cy="185.2" r="1.05"/>
<circle cx="402.5" cy="204.7" r="1.05"/>
<circle cx="432.4" cy="208.1" r="1.05"/>
<circle cx="436.4" cy="209.4" r="1.05"/>
<circle cx="423.6" cy="175.2" r="1.05"/>
<circle cx="430.0" cy="203.6" r="1.05"/>
<circle cx="431.6" cy="205.4" r="1.05"/>
</g>
<line x1="376.20" y1="148.80" x2="376.20" y2="235.40" stroke="#222" stroke-width="1.0"/>
<line x1="375.80" y1="235.00" x2="456.00" y2="235.00" stroke="#222" stroke-width="1.0"/>
<line x1="373.20" y1="231.50" x2="376.20" y2="231.50" stroke="#222" stroke-width="0.9"/>
<text x="371.40" y="233.67" font-size="6.1" text-anchor="end" fill="#1e1e1e" >0</text>
<line x1="373.20" y1="209.00" x2="376.20" y2="209.00" stroke="#222" stroke-width="0.9"/>
<text x="371.40" y="211.17" font-size="6.1" text-anchor="end" fill="#1e1e1e" >5</text>
<line x1="373.20" y1="186.50" x2="376.20" y2="186.50" stroke="#222" stroke-width="0.9"/>
<text x="371.40" y="188.67" font-size="6.1" text-anchor="end" fill="#1e1e1e" >10</text>
<line x1="373.20" y1="164.00" x2="376.20" y2="164.00" stroke="#222" stroke-width="0.9"/>
<text x="371.40" y="166.17" font-size="6.1" text-anchor="end" fill="#1e1e1e" >15</text>
<line x1="378.80" y1="235.00" x2="378.80" y2="237.80" stroke="#222" stroke-width="0.9"/>
<text x="378.80" y="245.50" font-size="6.2" text-anchor="middle" fill="#1e1e1e" >−4</text>
<line x1="394.80" y1="235.00" x2="394.80" y2="237.80" stroke="#222" stroke-width="0.9"/>
<text x="394.80" y="245.50" font-size="6.2" text-anchor="middle" fill="#1e1e1e" >−2</text>
<line x1="410.80" y1="235.00" x2="410.80" y2="237.80" stroke="#222" stroke-width="0.9"/>
<text x="410.80" y="245.50" font-size="6.2" text-anchor="middle" fill="#1e1e1e" >0</text>
<line x1="426.80" y1="235.00" x2="426.80" y2="237.80" stroke="#222" stroke-width="0.9"/>
<text x="426.80" y="245.50" font-size="6.2" text-anchor="middle" fill="#1e1e1e" >2</text>
<line x1="442.80" y1="235.00" x2="442.80" y2="237.80" stroke="#222" stroke-width="0.9"/>
<text x="442.80" y="245.50" font-size="6.2" text-anchor="middle" fill="#1e1e1e" >4</text>
<text x="415.80" y="254.30" font-size="7.6" text-anchor="middle" fill="#1e1e1e" textLength="42" lengthAdjust="spacingAndGlyphs" font-weight="bold"><tspan>Log</tspan><tspan font-size="4.56" dy="1.67">2</tspan><tspan dy="-1.67"> fold change</tspan></text>
<text x="152.70" y="194.76" font-size="7.2" text-anchor="middle" fill="#1e1e1e" transform="rotate(-90 152.70 192.20)" textLength="23.5" lengthAdjust="spacingAndGlyphs" font-weight="bold"><tspan>−Log</tspan><tspan font-size="4.32" dy="1.58">10</tspan><tspan dy="-1.58"> </tspan><tspan font-style="italic">P</tspan></text>
<circle cx="453.80" cy="157.70" r="2.40" fill="#3a3a3a" stroke="#444" stroke-width="0.5"/>
<circle cx="453.80" cy="165.90" r="2.40" fill="#6aaa5a" stroke="#444" stroke-width="0.5"/>
<circle cx="453.80" cy="174.10" r="2.40" fill="#7080d0" stroke="#444" stroke-width="0.5"/>
<circle cx="453.80" cy="182.30" r="2.40" fill="#c04858" stroke="#444" stroke-width="0.5"/>
<text x="459.30" y="159.83" font-size="6.0" text-anchor="start" fill="#1e1e1e" >NS</text>
<text x="459.30" y="168.03" font-size="6.0" text-anchor="start" fill="#1e1e1e"><tspan>Log</tspan><tspan font-size="3.60" dy="1.32">2</tspan><tspan dy="-1.32"> FC</tspan></text>
<text x="459.30" y="176.23" font-size="6.0" text-anchor="start" fill="#1e1e1e"><tspan font-style="italic">P</tspan><tspan>-value</tspan></text>
<text x="459.30" y="184.43" font-size="6.0" text-anchor="start" fill="#1e1e1e"><tspan font-style="italic">P</tspan><tspan>-value and log</tspan><tspan font-size="3.60" dy="1.32">2</tspan><tspan dy="-1.32"> FC</tspan></text>
<text x="10.00" y="277.80" font-size="10.7" text-anchor="start" fill="#000" font-weight="bold" style="stroke:#000;stroke-width:0.35px">D</text>
<text x="13.00" y="294.43" font-size="6.0" text-anchor="start" fill="#1e1e1e" textLength="122.6" lengthAdjust="spacingAndGlyphs" >GSEA using 813 CUT&amp;RUN differential peaks</text>
<rect x="33.10" y="363.80" width="103.80" height="8.50" fill="#4a68b0" />
<g stroke="#c8d4ee" stroke-opacity="0.75">
<line x1="113.9" y1="363.8" x2="113.9" y2="372.3" stroke-width="0.72"/>
<line x1="106.6" y1="363.8" x2="106.6" y2="372.3" stroke-width="0.36"/>
<line x1="98.4" y1="363.8" x2="98.4" y2="372.3" stroke-width="0.99"/>
<line x1="77.1" y1="363.8" x2="77.1" y2="372.3" stroke-width="0.38"/>
<line x1="132.1" y1="363.8" x2="132.1" y2="372.3" stroke-width="0.77"/>
<line x1="53.9" y1="363.8" x2="53.9" y2="372.3" stroke-width="0.77"/>
<line x1="135.7" y1="363.8" x2="135.7" y2="372.3" stroke-width="0.45"/>
<line x1="121.4" y1="363.8" x2="121.4" y2="372.3" stroke-width="0.79"/>
<line x1="56.4" y1="363.8" x2="56.4" y2="372.3" stroke-width="0.43"/>
<line x1="131.7" y1="363.8" x2="131.7" y2="372.3" stroke-width="0.54"/>
<line x1="79.0" y1="363.8" x2="79.0" y2="372.3" stroke-width="0.76"/>
<line x1="78.9" y1="363.8" x2="78.9" y2="372.3" stroke-width="0.30"/>
<line x1="60.4" y1="363.8" x2="60.4" y2="372.3" stroke-width="0.63"/>
<line x1="111.9" y1="363.8" x2="111.9" y2="372.3" stroke-width="0.72"/>
<line x1="77.8" y1="363.8" x2="77.8" y2="372.3" stroke-width="0.43"/>
<line x1="114.3" y1="363.8" x2="114.3" y2="372.3" stroke-width="0.43"/>
<line x1="108.0" y1="363.8" x2="108.0" y2="372.3" stroke-width="0.65"/>
<line x1="90.4" y1="363.8" x2="90.4" y2="372.3" stroke-width="0.57"/>
<line x1="54.5" y1="363.8" x2="54.5" y2="372.3" stroke-width="0.42"/>
<line x1="99.5" y1="363.8" x2="99.5" y2="372.3" stroke-width="0.49"/>
<line x1="35.1" y1="363.8" x2="35.1" y2="372.3" stroke-width="0.43"/>
<line x1="128.3" y1="363.8" x2="128.3" y2="372.3" stroke-width="0.80"/>
<line x1="93.3" y1="363.8" x2="93.3" y2="372.3" stroke-width="0.58"/>
<line x1="117.7" y1="363.8" x2="117.7" y2="372.3" stroke-width="0.48"/>
<line x1="98.7" y1="363.8" x2="98.7" y2="372.3" stroke-width="0.31"/>
<line x1="100.0" y1="363.8" x2="100.0" y2="372.3" stroke-width="0.98"/>
<line x1="106.4" y1="363.8" x2="106.4" y2="372.3" stroke-width="0.35"/>
<line x1="94.4" y1="363.8" x2="94.4" y2="372.3" stroke-width="0.52"/>
<line x1="128.1" y1="363.8" x2="128.1" y2="372.3" stroke-width="0.31"/>
<line x1="34.8" y1="363.8" x2="34.8" y2="372.3" stroke-width="0.37"/>
<line x1="68.5" y1="363.8" x2="68.5" y2="372.3" stroke-width="0.92"/>
<line x1="91.6" y1="363.8" x2="91.6" y2="372.3" stroke-width="0.76"/>
<line x1="38.2" y1="363.8" x2="38.2" y2="372.3" stroke-width="0.42"/>
<line x1="72.7" y1="363.8" x2="72.7" y2="372.3" stroke-width="0.74"/>
<line x1="110.9" y1="363.8" x2="110.9" y2="372.3" stroke-width="0.70"/>
<line x1="62.3" y1="363.8" x2="62.3" y2="372.3" stroke-width="0.43"/>
<line x1="76.9" y1="363.8" x2="76.9" y2="372.3" stroke-width="0.48"/>
<line x1="111.7" y1="363.8" x2="111.7" y2="372.3" stroke-width="0.93"/>
<line x1="116.3" y1="363.8" x2="116.3" y2="372.3" stroke-width="0.38"/>
<line x1="114.5" y1="363.8" x2="114.5" y2="372.3" stroke-width="0.31"/>
<line x1="47.5" y1="363.8" x2="47.5" y2="372.3" stroke-width="0.79"/>
<line x1="66.7" y1="363.8" x2="66.7" y2="372.3" stroke-width="0.88"/>
<line x1="104.4" y1="363.8" x2="104.4" y2="372.3" stroke-width="0.75"/>
<line x1="95.3" y1="363.8" x2="95.3" y2="372.3" stroke-width="0.94"/>
<line x1="119.1" y1="363.8" x2="119.1" y2="372.3" stroke-width="0.32"/>
</g>
<defs><linearGradient id="gr1" x1="0" x2="1" y1="0" y2="0"><stop offset="0" stop-color="#e08890"/><stop offset="0.15" stop-color="#f2d0d4"/><stop offset="0.42" stop-color="#ffffff"/><stop offset="0.65" stop-color="#d8d8ec"/><stop offset="0.9" stop-color="#6a6aae"/><stop offset="1" stop-color="#2e2e80"/></linearGradient></defs>
<rect x="33.10" y="372.30" width="103.80" height="5.80" fill="url(#gr1)" />
<line x1="85.50" y1="378.10" x2="85.50" y2="414.00" stroke="#999" stroke-width="0.5" stroke-dasharray="0.8,0.8"/>
<path d="M33.1,402.3 L33.1,399.6 L34.4,400.4 L35.7,400.9 L37.0,401.2 L38.3,401.4 L39.6,401.6 L40.9,401.7 L42.2,401.8 L43.5,401.8 L44.8,401.8 L46.1,401.9 L47.4,401.9 L48.7,401.9 L50.0,401.9 L51.3,401.9 L52.6,401.9 L53.9,401.9 L55.2,401.9 L56.5,402.0 L57.8,402.0 L59.1,402.0 L60.3,402.0 L61.6,402.0 L62.9,402.0 L64.2,402.0 L65.5,402.0 L66.8,402.0 L68.1,402.0 L69.4,402.0 L70.7,402.0 L72.0,402.0 L73.3,402.0 L74.6,402.0 L75.9,402.0 L77.2,402.0 L78.5,402.0 L79.8,402.1 L81.1,402.1 L82.4,402.1 L83.7,402.1 L85.0,402.1 L86.3,402.1 L87.6,402.1 L88.9,402.1 L90.2,402.1 L91.5,402.1 L92.8,402.1 L94.1,402.1 L95.4,402.1 L96.7,402.1 L98.0,402.1 L99.3,402.1 L100.6,402.1 L101.9,402.2 L103.2,402.2 L104.5,402.2 L105.8,402.2 L107.1,402.2 L108.4,402.2 L109.7,402.2 L111.0,402.2 L112.2,402.2 L113.5,402.2 L114.8,402.2 L116.1,402.2 L117.4,402.3 L118.7,402.3 L120.0,402.3 L121.3,402.3 L122.6,402.4 L123.9,402.4 L125.2,402.4 L126.5,402.5 L127.8,402.6 L129.1,402.7 L130.4,402.8 L131.7,402.9 L133.0,403.1 L134.3,403.4 L135.6,403.7 L136.9,404.1 L136.9,402.3Z" fill="#d4d4d4" stroke="#a0a0a0" stroke-width="0.7" />
<path d="M33.1,363.8 L33.8,355.6 L34.4,349.4 L35.1,346.0 L35.7,342.4 L36.4,339.6 L37.0,338.7 L37.7,337.0 L38.3,335.7 L39.0,334.0 L39.6,333.7 L40.3,332.6 L40.9,331.9 L41.6,330.8 L42.2,330.7 L42.9,330.5 L43.5,329.5 L44.2,328.7 L44.9,328.1 L45.5,327.5 L46.2,327.5 L46.8,327.4 L47.5,326.6 L48.1,326.4 L48.8,326.1 L49.4,325.6 L50.1,324.9 L50.7,325.1 L51.4,324.9 L52.0,324.4 L52.7,324.2 L53.3,324.2 L54.0,324.0 L54.6,323.5 L55.3,323.1 L55.9,323.0 L56.6,322.8 L57.3,322.5 L57.9,323.1 L58.6,322.8 L59.2,322.4 L59.9,322.4 L60.5,322.3 L61.2,321.9 L61.8,322.1 L62.5,321.8 L63.1,322.1 L63.8,321.7 L64.4,321.0 L65.1,321.4 L65.7,321.1 L66.4,320.9 L67.0,321.1 L67.7,320.8 L68.4,320.8 L69.0,320.7 L69.7,321.0 L70.3,321.1 L71.0,321.0 L71.6,320.8 L72.3,320.5 L72.9,320.7 L73.6,320.7 L74.2,320.6 L74.9,320.2 L75.5,320.7 L76.2,320.2 L76.8,320.9 L77.5,320.8 L78.1,320.4 L78.8,320.5 L79.5,320.9 L80.1,320.8 L80.8,320.9 L81.4,320.6 L82.1,320.7 L82.7,321.0 L83.4,320.8 L84.0,321.0 L84.7,320.9 L85.3,321.0 L86.0,321.2 L86.6,321.1 L87.3,321.2 L87.9,321.3 L88.6,321.2 L89.2,321.7 L89.9,322.1 L90.5,322.0 L91.2,321.9 L91.9,322.1 L92.5,322.0 L93.2,322.1 L93.8,322.4 L94.5,322.5 L95.1,322.9 L95.8,322.5 L96.4,323.1 L97.1,323.5 L97.7,323.7 L98.4,323.8 L99.0,323.5 L99.7,323.9 L100.3,324.8 L101.0,324.6 L101.6,324.7 L102.3,324.8 L103.0,325.1 L103.6,325.6 L104.3,325.5 L104.9,326.0 L105.6,326.6 L106.2,326.5 L106.9,326.9 L107.5,326.8 L108.2,327.1 L108.8,327.9 L109.5,327.9 L110.1,328.3 L110.8,329.0 L111.4,329.5 L112.1,329.3 L112.7,329.6 L113.4,330.1 L114.1,331.0 L114.7,330.6 L115.4,331.1 L116.0,331.5 L116.7,331.8 L117.3,332.5 L118.0,332.6 L118.6,333.3 L119.3,333.9 L119.9,334.2 L120.6,334.8 L121.2,335.7 L121.9,335.9 L122.5,336.4 L123.2,337.3 L123.8,337.5 L124.5,337.8 L125.1,338.9 L125.8,339.2 L126.5,339.9 L127.1,341.2 L127.8,341.8 L128.4,342.3 L129.1,343.7 L129.7,344.7 L130.4,345.3 L131.0,346.8 L131.7,348.3 L132.3,349.4 L133.0,351.0 L133.6,352.3 L134.3,353.8 L134.9,355.6 L135.6,358.0 L136.2,360.5 L136.9,362.9" fill="none" stroke="#4ea832" stroke-width="1.15" />
<rect x="33.5" y="318.5" width="103.0" height="96.0" fill="none" stroke="#3a3a3a" stroke-width="0.9"/>
<line x1="33.50" y1="363.50" x2="136.50" y2="363.50" stroke="#555" stroke-width="0.8"/>
<line x1="30.90" y1="318.10" x2="33.10" y2="318.10" stroke="#333" stroke-width="0.7"/>
<text x="30.10" y="320.23" font-size="6.0" text-anchor="end" fill="#222" >2.0</text>
<line x1="30.90" y1="329.50" x2="33.10" y2="329.50" stroke="#333" stroke-width="0.7"/>
<text x="30.10" y="331.63" font-size="6.0" text-anchor="end" fill="#222" >1.5</text>
<line x1="30.90" y1="340.90" x2="33.10" y2="340.90" stroke="#333" stroke-width="0.7"/>
<text x="30.10" y="343.03" font-size="6.0" text-anchor="end" fill="#222" >1.0</text>
<line x1="30.90" y1="352.40" x2="33.10" y2="352.40" stroke="#333" stroke-width="0.7"/>
<text x="30.10" y="354.53" font-size="6.0" text-anchor="end" fill="#222" >0.5</text>
<line x1="30.90" y1="363.80" x2="33.10" y2="363.80" stroke="#333" stroke-width="0.7"/>
<text x="30.10" y="365.93" font-size="6.0" text-anchor="end" fill="#222" >0.0</text>
<line x1="30.90" y1="379.80" x2="33.10" y2="379.80" stroke="#333" stroke-width="0.7"/>
<text x="30.10" y="381.93" font-size="6.0" text-anchor="end" fill="#222" >1.0</text>
<line x1="30.90" y1="391.10" x2="33.10" y2="391.10" stroke="#333" stroke-width="0.7"/>
<text x="30.10" y="393.23" font-size="6.0" text-anchor="end" fill="#222" >0.5</text>
<line x1="30.90" y1="402.30" x2="33.10" y2="402.30" stroke="#333" stroke-width="0.7"/>
<text x="30.10" y="404.43" font-size="6.0" text-anchor="end" fill="#222" >0.0</text>
<line x1="33.90" y1="414.00" x2="33.90" y2="416.20" stroke="#333" stroke-width="0.7"/>
<text x="35.50" y="420.84" font-size="6.3" text-anchor="end" fill="#222" transform="rotate(-45 35.50 418.60)" >0</text>
<line x1="49.51" y1="414.00" x2="49.51" y2="416.20" stroke="#333" stroke-width="0.7"/>
<text x="51.11" y="420.84" font-size="6.3" text-anchor="end" fill="#222" transform="rotate(-45 51.11 418.60)" >2000</text>
<line x1="65.12" y1="414.00" x2="65.12" y2="416.20" stroke="#333" stroke-width="0.7"/>
<text x="66.72" y="420.84" font-size="6.3" text-anchor="end" fill="#222" transform="rotate(-45 66.72 418.60)" >4000</text>
<line x1="80.73" y1="414.00" x2="80.73" y2="416.20" stroke="#333" stroke-width="0.7"/>
<text x="82.33" y="420.84" font-size="6.3" text-anchor="end" fill="#222" transform="rotate(-45 82.33 418.60)" >6000</text>
<line x1="96.34" y1="414.00" x2="96.34" y2="416.20" stroke="#333" stroke-width="0.7"/>
<text x="97.94" y="420.84" font-size="6.3" text-anchor="end" fill="#222" transform="rotate(-45 97.94 418.60)" >8000</text>
<line x1="111.95" y1="414.00" x2="111.95" y2="416.20" stroke="#333" stroke-width="0.7"/>
<text x="113.55" y="420.84" font-size="6.3" text-anchor="end" fill="#222" transform="rotate(-45 113.55 418.60)" >10000</text>
<line x1="127.55" y1="414.00" x2="127.55" y2="416.20" stroke="#333" stroke-width="0.7"/>
<text x="129.15" y="420.84" font-size="6.3" text-anchor="end" fill="#222" transform="rotate(-45 129.15 418.60)" >12000</text>
<text x="43.60" y="348.81" font-size="5.1" text-anchor="start" fill="#1a1a1a" >NES: 1.861</text>
<text x="43.60" y="354.86" font-size="5.1" text-anchor="start" fill="#1a1a1a"><tspan font-style="italic">Pval</tspan><tspan>: 0.000e+00</tspan></text>
<text x="43.60" y="360.91" font-size="5.1" text-anchor="start" fill="#1a1a1a" >FDR: 0.000e+00</text>
<text x="86.20" y="397.46" font-size="5.25" text-anchor="middle" fill="#1a1a1a" >Zero score at 6638</text>
<text x="80.70" y="441.62" font-size="8.5" text-anchor="middle" fill="#1e1e1e" font-weight="bold" textLength="60" lengthAdjust="spacingAndGlyphs" >Rank in ordered dataset</text>
<text x="85.00" y="306.00" font-size="6.2" text-anchor="middle" fill="#1e1e1e" >Cluster: HSC</text>
<text x="85.00" y="311.82" font-size="5.7" text-anchor="middle" fill="#1e1e1e" textLength="56" lengthAdjust="spacingAndGlyphs"><tspan font-style="italic">Etv6</tspan><tspan font-size="3.42" dy="-2.17" font-style="italic">R355X/+</tspan><tspan dy="2.17"> vs </tspan><tspan font-style="italic">Etv6</tspan><tspan font-size="3.42" dy="-2.17" font-style="italic">+/+</tspan></text>
<rect x="33.10" y="517.80" width="103.80" height="7.80" fill="#4a68b0" />
<g stroke="#c8d4ee" stroke-opacity="0.75">
<line x1="71.3" y1="517.8" x2="71.3" y2="525.6" stroke-width="0.44"/>
<line x1="42.7" y1="517.8" x2="42.7" y2="525.6" stroke-width="0.76"/>
<line x1="80.8" y1="517.8" x2="80.8" y2="525.6" stroke-width="0.99"/>
<line x1="121.1" y1="517.8" x2="121.1" y2="525.6" stroke-width="0.89"/>
<line x1="38.9" y1="517.8" x2="38.9" y2="525.6" stroke-width="0.69"/>
<line x1="96.0" y1="517.8" x2="96.0" y2="525.6" stroke-width="0.34"/>
<line x1="82.7" y1="517.8" x2="82.7" y2="525.6" stroke-width="0.53"/>
<line x1="55.9" y1="517.8" x2="55.9" y2="525.6" stroke-width="0.86"/>
<line x1="76.9" y1="517.8" x2="76.9" y2="525.6" stroke-width="0.37"/>
<line x1="71.5" y1="517.8" x2="71.5" y2="525.6" stroke-width="0.94"/>
<line x1="73.7" y1="517.8" x2="73.7" y2="525.6" stroke-width="0.43"/>
<line x1="40.5" y1="517.8" x2="40.5" y2="525.6" stroke-width="0.66"/>
<line x1="102.2" y1="517.8" x2="102.2" y2="525.6" stroke-width="0.59"/>
<line x1="120.8" y1="517.8" x2="120.8" y2="525.6" stroke-width="0.67"/>
<line x1="115.6" y1="517.8" x2="115.6" y2="525.6" stroke-width="0.70"/>
<line x1="94.3" y1="517.8" x2="94.3" y2="525.6" stroke-width="0.59"/>
<line x1="44.9" y1="517.8" x2="44.9" y2="525.6" stroke-width="0.79"/>
<line x1="121.8" y1="517.8" x2="121.8" y2="525.6" stroke-width="0.81"/>
<line x1="76.7" y1="517.8" x2="76.7" y2="525.6" stroke-width="0.36"/>
<line x1="52.7" y1="517.8" x2="52.7" y2="525.6" stroke-width="0.69"/>
<line x1="101.3" y1="517.8" x2="101.3" y2="525.6" stroke-width="0.32"/>
<line x1="130.5" y1="517.8" x2="130.5" y2="525.6" stroke-width="0.80"/>
<line x1="107.9" y1="517.8" x2="107.9" y2="525.6" stroke-width="0.99"/>
<line x1="97.4" y1="517.8" x2="97.4" y2="525.6" stroke-width="0.64"/>
<line x1="56.7" y1="517.8" x2="56.7" y2="525.6" stroke-width="0.78"/>
<line x1="105.5" y1="517.8" x2="105.5" y2="525.6" stroke-width="0.97"/>
<line x1="129.6" y1="517.8" x2="129.6" y2="525.6" stroke-width="0.64"/>
<line x1="121.2" y1="517.8" x2="121.2" y2="525.6" stroke-width="0.97"/>
<line x1="76.4" y1="517.8" x2="76.4" y2="525.6" stroke-width="0.72"/>
<line x1="94.6" y1="517.8" x2="94.6" y2="525.6" stroke-width="0.64"/>
<line x1="81.8" y1="517.8" x2="81.8" y2="525.6" stroke-width="0.46"/>
<line x1="52.9" y1="517.8" x2="52.9" y2="525.6" stroke-width="0.52"/>
<line x1="94.5" y1="517.8" x2="94.5" y2="525.6" stroke-width="0.76"/>
<line x1="117.8" y1="517.8" x2="117.8" y2="525.6" stroke-width="0.50"/>
<line x1="86.6" y1="517.8" x2="86.6" y2="525.6" stroke-width="0.62"/>
<line x1="51.1" y1="517.8" x2="51.1" y2="525.6" stroke-width="0.99"/>
<line x1="68.1" y1="517.8" x2="68.1" y2="525.6" stroke-width="0.78"/>
<line x1="104.7" y1="517.8" x2="104.7" y2="525.6" stroke-width="0.84"/>
<line x1="119.3" y1="517.8" x2="119.3" y2="525.6" stroke-width="0.96"/>
<line x1="66.6" y1="517.8" x2="66.6" y2="525.6" stroke-width="0.77"/>
<line x1="66.2" y1="517.8" x2="66.2" y2="525.6" stroke-width="0.51"/>
<line x1="115.1" y1="517.8" x2="115.1" y2="525.6" stroke-width="0.82"/>
<line x1="108.8" y1="517.8" x2="108.8" y2="525.6" stroke-width="0.39"/>
<line x1="133.0" y1="517.8" x2="133.0" y2="525.6" stroke-width="0.74"/>
<line x1="81.4" y1="517.8" x2="81.4" y2="525.6" stroke-width="0.94"/>
</g>
<defs><linearGradient id="gr2" x1="0" x2="1" y1="0" y2="0"><stop offset="0" stop-color="#e08890"/><stop offset="0.15" stop-color="#f2d0d4"/><stop offset="0.42" stop-color="#ffffff"/><stop offset="0.65" stop-color="#d8d8ec"/><stop offset="0.9" stop-color="#6a6aae"/><stop offset="1" stop-color="#2e2e80"/></linearGradient></defs>
<rect x="33.10" y="525.60" width="103.80" height="5.20" fill="url(#gr2)" />
<line x1="85.50" y1="530.80" x2="85.50" y2="566.80" stroke="#999" stroke-width="0.5" stroke-dasharray="0.8,0.8"/>
<path d="M33.1,554.7 L33.1,550.5 L34.4,551.0 L35.7,551.5 L37.0,551.8 L38.3,552.2 L39.6,552.4 L40.9,552.7 L42.2,552.9 L43.5,553.1 L44.8,553.3 L46.1,553.4 L47.4,553.6 L48.7,553.7 L50.0,553.8 L51.3,553.8 L52.6,553.9 L53.9,554.0 L55.2,554.0 L56.5,554.1 L57.8,554.1 L59.1,554.2 L60.3,554.2 L61.6,554.3 L62.9,554.3 L64.2,554.3 L65.5,554.3 L66.8,554.4 L68.1,554.4 L69.4,554.4 L70.7,554.4 L72.0,554.4 L73.3,554.4 L74.6,554.5 L75.9,554.5 L77.2,554.5 L78.5,554.5 L79.8,554.5 L81.1,554.5 L82.4,554.5 L83.7,554.5 L85.0,554.5 L86.3,554.6 L87.6,554.6 L88.9,554.6 L90.2,554.6 L91.5,554.6 L92.8,554.6 L94.1,554.6 L95.4,554.7 L96.7,554.7 L98.0,554.7 L99.3,554.7 L100.6,554.7 L101.9,554.8 L103.2,554.8 L104.5,554.8 L105.8,554.9 L107.1,554.9 L108.4,554.9 L109.7,555.0 L111.0,555.0 L112.2,555.1 L113.5,555.1 L114.8,555.2 L116.1,555.3 L117.4,555.3 L118.7,555.4 L120.0,555.5 L121.3,555.6 L122.6,555.7 L123.9,555.9 L125.2,556.0 L126.5,556.1 L127.8,556.3 L129.1,556.5 L130.4,556.7 L131.7,556.9 L133.0,557.2 L134.3,557.5 L135.6,557.8 L136.9,558.1 L136.9,554.7Z" fill="#d4d4d4" stroke="#a0a0a0" stroke-width="0.7" />
<path d="M33.1,517.8 L33.8,514.5 L34.4,511.5 L35.1,508.6 L35.7,505.8 L36.4,502.9 L37.0,500.2 L37.7,498.0 L38.3,497.4 L39.0,495.5 L39.6,494.4 L40.3,493.4 L40.9,492.0 L41.6,490.9 L42.2,489.5 L42.9,488.0 L43.5,487.2 L44.2,486.0 L44.9,485.1 L45.5,484.4 L46.2,483.4 L46.8,483.0 L47.5,482.0 L48.1,480.8 L48.8,480.6 L49.4,480.1 L50.1,479.9 L50.7,479.5 L51.4,479.7 L52.0,479.4 L52.7,479.6 L53.3,479.2 L54.0,479.1 L54.6,478.9 L55.3,478.5 L55.9,478.0 L56.6,478.1 L57.3,478.2 L57.9,477.6 L58.6,477.4 L59.2,477.6 L59.9,477.0 L60.5,477.1 L61.2,476.8 L61.8,476.7 L62.5,476.2 L63.1,476.5 L63.8,476.2 L64.4,475.9 L65.1,475.6 L65.7,475.4 L66.4,475.8 L67.0,475.1 L67.7,475.2 L68.4,474.8 L69.0,474.7 L69.7,475.1 L70.3,474.9 L71.0,474.9 L71.6,474.7 L72.3,474.4 L72.9,474.8 L73.6,474.9 L74.2,474.1 L74.9,475.0 L75.5,474.7 L76.2,474.7 L76.8,475.0 L77.5,474.4 L78.1,474.3 L78.8,474.6 L79.5,474.5 L80.1,474.5 L80.8,475.0 L81.4,474.4 L82.1,474.8 L82.7,474.7 L83.4,474.4 L84.0,474.3 L84.7,474.7 L85.3,474.2 L86.0,474.0 L86.6,474.5 L87.3,474.6 L87.9,474.6 L88.6,474.8 L89.2,475.1 L89.9,474.8 L90.5,474.9 L91.2,475.3 L91.9,475.4 L92.5,475.5 L93.2,475.6 L93.8,475.8 L94.5,476.0 L95.1,475.5 L95.8,476.0 L96.4,476.1 L97.1,475.8 L97.7,476.6 L98.4,476.5 L99.0,477.2 L99.7,477.2 L100.3,477.1 L101.0,477.5 L101.6,478.0 L102.3,478.2 L103.0,477.9 L103.6,478.4 L104.3,478.2 L104.9,478.5 L105.6,478.9 L106.2,479.1 L106.9,479.3 L107.5,479.9 L108.2,480.5 L108.8,480.5 L109.5,481.1 L110.1,481.4 L110.8,481.6 L111.4,482.1 L112.1,482.3 L112.7,483.0 L113.4,483.4 L114.1,483.8 L114.7,484.0 L115.4,484.6 L116.0,484.9 L116.7,485.7 L117.3,486.4 L118.0,486.9 L118.6,487.0 L119.3,488.4 L119.9,488.9 L120.6,489.7 L121.2,490.5 L121.9,491.1 L122.5,491.3 L123.2,492.6 L123.8,492.8 L124.5,493.8 L125.1,494.9 L125.8,495.5 L126.5,496.2 L127.1,497.3 L127.8,497.6 L128.4,498.7 L129.1,499.6 L129.7,500.9 L130.4,501.5 L131.0,502.7 L131.7,502.8 L132.3,505.2 L133.0,506.8 L133.6,508.5 L134.3,510.4 L134.9,512.0 L135.6,513.5 L136.2,515.0 L136.9,516.5" fill="none" stroke="#4ea832" stroke-width="1.15" />
<rect x="33.5" y="472.5" width="103.0" height="94.0" fill="none" stroke="#3a3a3a" stroke-width="0.9"/>
<line x1="33.50" y1="517.50" x2="136.50" y2="517.50" stroke="#555" stroke-width="0.8"/>
<line x1="30.90" y1="478.00" x2="33.10" y2="478.00" stroke="#333" stroke-width="0.7"/>
<text x="30.10" y="480.13" font-size="6.0" text-anchor="end" fill="#222" >2.0</text>
<line x1="30.90" y1="487.90" x2="33.10" y2="487.90" stroke="#333" stroke-width="0.7"/>
<text x="30.10" y="490.03" font-size="6.0" text-anchor="end" fill="#222" >1.5</text>
<line x1="30.90" y1="497.80" x2="33.10" y2="497.80" stroke="#333" stroke-width="0.7"/>
<text x="30.10" y="499.93" font-size="6.0" text-anchor="end" fill="#222" >1.0</text>
<line x1="30.90" y1="507.80" x2="33.10" y2="507.80" stroke="#333" stroke-width="0.7"/>
<text x="30.10" y="509.93" font-size="6.0" text-anchor="end" fill="#222" >0.5</text>
<line x1="30.90" y1="517.80" x2="33.10" y2="517.80" stroke="#333" stroke-width="0.7"/>
<text x="30.10" y="519.93" font-size="6.0" text-anchor="end" fill="#222" >0.0</text>
<line x1="30.90" y1="535.70" x2="33.10" y2="535.70" stroke="#333" stroke-width="0.7"/>
<text x="30.10" y="537.83" font-size="6.0" text-anchor="end" fill="#222" >1.0</text>
<line x1="30.90" y1="545.20" x2="33.10" y2="545.20" stroke="#333" stroke-width="0.7"/>
<text x="30.10" y="547.33" font-size="6.0" text-anchor="end" fill="#222" >0.5</text>
<line x1="30.90" y1="554.70" x2="33.10" y2="554.70" stroke="#333" stroke-width="0.7"/>
<text x="30.10" y="556.83" font-size="6.0" text-anchor="end" fill="#222" >0.0</text>
<line x1="30.90" y1="566.80" x2="33.10" y2="566.80" stroke="#333" stroke-width="0.7"/>
<text x="30.10" y="568.93" font-size="6.0" text-anchor="end" fill="#222" >−0.5</text>
<line x1="33.90" y1="566.80" x2="33.90" y2="569.00" stroke="#333" stroke-width="0.7"/>
<text x="35.50" y="573.64" font-size="6.3" text-anchor="end" fill="#222" transform="rotate(-45 35.50 571.40)" >0</text>
<line x1="49.51" y1="566.80" x2="49.51" y2="569.00" stroke="#333" stroke-width="0.7"/>
<text x="51.11" y="573.64" font-size="6.3" text-anchor="end" fill="#222" transform="rotate(-45 51.11 571.40)" >2000</text>
<line x1="65.12" y1="566.80" x2="65.12" y2="569.00" stroke="#333" stroke-width="0.7"/>
<text x="66.72" y="573.64" font-size="6.3" text-anchor="end" fill="#222" transform="rotate(-45 66.72 571.40)" >4000</text>
<line x1="80.73" y1="566.80" x2="80.73" y2="569.00" stroke="#333" stroke-width="0.7"/>
<text x="82.33" y="573.64" font-size="6.3" text-anchor="end" fill="#222" transform="rotate(-45 82.33 571.40)" >6000</text>
<line x1="96.34" y1="566.80" x2="96.34" y2="569.00" stroke="#333" stroke-width="0.7"/>
<text x="97.94" y="573.64" font-size="6.3" text-anchor="end" fill="#222" transform="rotate(-45 97.94 571.40)" >8000</text>
<line x1="111.95" y1="566.80" x2="111.95" y2="569.00" stroke="#333" stroke-width="0.7"/>
<text x="113.55" y="573.64" font-size="6.3" text-anchor="end" fill="#222" transform="rotate(-45 113.55 571.40)" >10000</text>
<line x1="127.55" y1="566.80" x2="127.55" y2="569.00" stroke="#333" stroke-width="0.7"/>
<text x="129.15" y="573.64" font-size="6.3" text-anchor="end" fill="#222" transform="rotate(-45 129.15 571.40)" >12000</text>
<text x="43.60" y="502.21" font-size="5.1" text-anchor="start" fill="#1a1a1a" >NES: 1.798</text>
<text x="43.60" y="508.26" font-size="5.1" text-anchor="start" fill="#1a1a1a"><tspan font-style="italic">Pval</tspan><tspan>: 0.000e+00</tspan></text>
<text x="43.60" y="514.31" font-size="5.1" text-anchor="start" fill="#1a1a1a" >FDR: 0.000e+00</text>
<text x="86.20" y="550.56" font-size="5.25" text-anchor="middle" fill="#1a1a1a" >Zero score at 6591</text>
<text x="81.50" y="595.02" font-size="8.5" text-anchor="middle" fill="#1e1e1e" font-weight="bold" textLength="60" lengthAdjust="spacingAndGlyphs" >Rank in ordered dataset</text>
<text x="85.00" y="461.40" font-size="6.2" text-anchor="middle" fill="#1e1e1e" >Cluster: MPP</text>
<text x="85.00" y="467.02" font-size="5.7" text-anchor="middle" fill="#1e1e1e" textLength="56" lengthAdjust="spacingAndGlyphs"><tspan font-style="italic">Etv6</tspan><tspan font-size="3.42" dy="-2.17" font-style="italic">R355X/+</tspan><tspan dy="2.17"> vs </tspan><tspan font-style="italic">Etv6</tspan><tspan font-size="3.42" dy="-2.17" font-style="italic">+/+</tspan></text>
<text x="14.80" y="345.27" font-size="7.8" text-anchor="middle" fill="#1e1e1e" font-weight="bold" textLength="46" lengthAdjust="spacingAndGlyphs" transform="rotate(-90 14.80 342.50)" >Enrichment score</text>
<text x="14.80" y="393.77" font-size="7.8" text-anchor="middle" fill="#1e1e1e" font-weight="bold" textLength="45.6" lengthAdjust="spacingAndGlyphs" transform="rotate(-90 14.80 391.00)" >Ranked list metric</text>
<text x="14.80" y="497.27" font-size="7.8" text-anchor="middle" fill="#1e1e1e" font-weight="bold" textLength="45" lengthAdjust="spacingAndGlyphs" transform="rotate(-90 14.80 494.50)" >Enrichment score</text>
<text x="14.80" y="547.97" font-size="7.8" text-anchor="middle" fill="#1e1e1e" font-weight="bold" textLength="45.6" lengthAdjust="spacingAndGlyphs" transform="rotate(-90 14.80 545.20)" >Ranked list metric</text>
<text x="157.00" y="277.80" font-size="10.7" text-anchor="start" fill="#000" font-weight="bold" style="stroke:#000;stroke-width:0.35px">E</text>
<text x="336.00" y="273.12" font-size="6.25" text-anchor="middle" fill="#1e1e1e" >Cluster: HSC</text>
<text x="336.00" y="280.02" font-size="5.4" text-anchor="middle" fill="#1e1e1e" textLength="54.5" lengthAdjust="spacingAndGlyphs"><tspan font-style="italic">Etv6</tspan><tspan font-size="3.24" dy="-2.05" font-style="italic">R355X/+</tspan><tspan dy="2.05"> vs </tspan><tspan font-style="italic">Etv6</tspan><tspan font-size="3.24" dy="-2.05" font-style="italic">+/+</tspan></text>
<rect x="311.8" y="284.0" width="44.6" height="77.8" fill="#fff" stroke="#c4c4c4" stroke-width="0.7"/>
<text x="308.20" y="289.51" font-size="5.95" text-anchor="end" fill="#1e1e1e" >HALLMARK_ALLOGRAFT_REJECTION</text>
<line x1="310.00" y1="287.40" x2="311.80" y2="287.40" stroke="#555" stroke-width="0.6"/>
<circle cx="348.69" cy="287.40" r="0.70" fill="#e8e490"/>
<text x="308.20" y="297.34" font-size="5.95" text-anchor="end" fill="#1e1e1e" >HALLMARK_INFLAMMATORY_RESPONSE</text>
<line x1="310.00" y1="295.23" x2="311.80" y2="295.23" stroke="#555" stroke-width="0.6"/>
<circle cx="347.32" cy="295.23" r="0.70" fill="#e0dc8c"/>
<text x="308.20" y="305.17" font-size="5.95" text-anchor="end" fill="#1e1e1e" >HALLMARK_IL6_JAK_STAT3_SIGNALING</text>
<line x1="310.00" y1="303.06" x2="311.80" y2="303.06" stroke="#555" stroke-width="0.6"/>
<circle cx="347.48" cy="303.06" r="0.95" fill="#7a9068"/>
<text x="308.20" y="313.00" font-size="5.95" text-anchor="end" fill="#1e1e1e" >HALLMARK_CHOLESTEROL_HOMEOSTASIS</text>
<line x1="310.00" y1="310.89" x2="311.80" y2="310.89" stroke="#555" stroke-width="0.6"/>
<circle cx="318.89" cy="310.89" r="0.75" fill="#3a5668"/>
<text x="308.20" y="320.83" font-size="5.95" text-anchor="end" fill="#1e1e1e" >HALLMARK_REACTIVE_OXYGEN_SPECIES_PATHWAY</text>
<line x1="310.00" y1="318.72" x2="311.80" y2="318.72" stroke="#555" stroke-width="0.6"/>
<circle cx="318.48" cy="318.72" r="0.60" fill="#8aa098"/>
<text x="308.20" y="328.66" font-size="5.95" text-anchor="end" fill="#1e1e1e" >HALLMARK_HYPOXIA</text>
<line x1="310.00" y1="326.55" x2="311.80" y2="326.55" stroke="#555" stroke-width="0.6"/>
<circle cx="319.53" cy="326.55" r="0.95" fill="#3e6470"/>
<text x="308.20" y="336.49" font-size="5.95" text-anchor="end" fill="#1e1e1e" >HALLMARK_ADIPOGENESIS</text>
<line x1="310.00" y1="334.38" x2="311.80" y2="334.38" stroke="#555" stroke-width="0.6"/>
<circle cx="319.78" cy="334.38" r="1.20" fill="#2e4a60"/>
<text x="308.20" y="344.32" font-size="5.95" text-anchor="end" fill="#1e1e1e" >HALLMARK_XENOBIOTIC_METABOLISM</text>
<line x1="310.00" y1="342.21" x2="311.80" y2="342.21" stroke="#555" stroke-width="0.6"/>
<circle cx="319.45" cy="342.21" r="1.10" fill="#2e4c62"/>
<text x="308.20" y="352.15" font-size="5.95" text-anchor="end" fill="#1e1e1e" >HALLMARK_EPITHELIAL_MESENCHYMAL_TRANSITION</text>
<line x1="310.00" y1="350.04" x2="311.80" y2="350.04" stroke="#555" stroke-width="0.6"/>
<circle cx="319.13" cy="350.04" r="1.00" fill="#34546a"/>
<text x="308.20" y="359.98" font-size="5.95" text-anchor="end" fill="#1e1e1e" >HALLMARK_BILE_ACID_METABOLISM</text>
<line x1="310.00" y1="357.87" x2="311.80" y2="357.87" stroke="#555" stroke-width="0.6"/>
<circle cx="320.75" cy="357.87" r="0.95" fill="#243a58"/>
<line x1="316.70" y1="361.80" x2="316.70" y2="363.60" stroke="#555" stroke-width="0.6"/>
<text x="316.70" y="369.33" font-size="6.0" text-anchor="middle" fill="#1e1e1e" >−2</text>
<line x1="332.90" y1="361.80" x2="332.90" y2="363.60" stroke="#555" stroke-width="0.6"/>
<text x="332.90" y="369.33" font-size="6.0" text-anchor="middle" fill="#1e1e1e" >0</text>
<line x1="349.10" y1="361.80" x2="349.10" y2="363.60" stroke="#555" stroke-width="0.6"/>
<text x="349.10" y="369.33" font-size="6.0" text-anchor="middle" fill="#1e1e1e" >2</text>
<text x="332.90" y="377.61" font-size="8.2" text-anchor="middle" fill="#1e1e1e" font-weight="bold" textLength="10.2" lengthAdjust="spacingAndGlyphs" >NES</text>
<text x="359.30" y="289.26" font-size="5.8" text-anchor="start" fill="#1e1e1e" >% Genes</text>
<text x="359.30" y="296.26" font-size="5.8" text-anchor="start" fill="#1e1e1e" >in set</text>
<circle cx="360.90" cy="301.00" r="0.60" fill="#333"/>
<text x="363.00" y="303.06" font-size="5.8" text-anchor="start" fill="#1e1e1e" >0.30</text>
<circle cx="360.90" cy="308.00" r="0.90" fill="#333"/>
<text x="363.00" y="310.06" font-size="5.8" text-anchor="start" fill="#1e1e1e" >0.40</text>
<circle cx="360.90" cy="315.00" r="1.20" fill="#333"/>
<text x="363.00" y="317.06" font-size="5.8" text-anchor="start" fill="#1e1e1e" >0.50</text>
<text x="359.90" y="327.26" font-size="5.8" text-anchor="start" fill="#1e1e1e"><tspan>log</tspan><tspan font-size="3.48" dy="1.28">10</tspan></text>
<line x1="371.50" y1="325.00" x2="385.30" y2="325.00" stroke="#222" stroke-width="0.45"/>
<text x="378.90" y="324.45" font-size="5.2" text-anchor="middle" fill="#1e1e1e" >1</text>
<text x="379.10" y="329.72" font-size="5.4" text-anchor="middle" fill="#1e1e1e"><tspan font-style="italic">Pval</tspan></text>
<defs><linearGradient id="cb1" x1="0" x2="0" y1="0" y2="1"><stop offset="0" stop-color="#f0e63c"/><stop offset="0.3" stop-color="#a8c870"/><stop offset="0.6" stop-color="#5a8aa0"/><stop offset="1" stop-color="#141446"/></linearGradient></defs>
<rect x="359.30" y="330.80" width="1.60" height="20.00" fill="url(#cb1)" />
<text x="362.50" y="334.13" font-size="6.0" text-anchor="start" fill="#1e1e1e" >2.0</text>
<text x="362.50" y="342.93" font-size="6.0" text-anchor="start" fill="#1e1e1e" >1.5</text>
<text x="362.50" y="352.33" font-size="6.0" text-anchor="start" fill="#1e1e1e" >1.0</text>
<text x="328.60" y="398.12" font-size="6.25" text-anchor="middle" fill="#1e1e1e" >Cluster: MPP</text>
<text x="328.60" y="405.02" font-size="5.4" text-anchor="middle" fill="#1e1e1e" textLength="54" lengthAdjust="spacingAndGlyphs"><tspan font-style="italic">Etv6</tspan><tspan font-size="3.24" dy="-2.05" font-style="italic">R355X/+</tspan><tspan dy="2.05"> vs </tspan><tspan font-style="italic">Etv6</tspan><tspan font-size="3.24" dy="-2.05" font-style="italic">+/+</tspan></text>
<rect x="302.0" y="410.3" width="50.2" height="78.2" fill="#fff" stroke="#c4c4c4" stroke-width="0.7"/>
<text x="297.20" y="416.01" font-size="5.95" text-anchor="end" fill="#1e1e1e" >HALLMARK_ALLOGRAFT_REJECTION</text>
<line x1="300.20" y1="413.90" x2="302.00" y2="413.90" stroke="#555" stroke-width="0.6"/>
<circle cx="343.37" cy="413.90" r="1.00" fill="#e6e080"/>
<text x="297.20" y="423.85" font-size="5.95" text-anchor="end" fill="#1e1e1e" >HALLMARK_NOTCH_SIGNALING</text>
<line x1="300.20" y1="421.74" x2="302.00" y2="421.74" stroke="#555" stroke-width="0.6"/>
<circle cx="341.30" cy="421.74" r="1.00" fill="#d4d070"/>
<text x="297.20" y="431.69" font-size="5.95" text-anchor="end" fill="#1e1e1e" >HALLMARK_IL6_JAK_STAT3_SIGNALING</text>
<line x1="300.20" y1="429.58" x2="302.00" y2="429.58" stroke="#555" stroke-width="0.6"/>
<circle cx="340.22" cy="429.58" r="1.00" fill="#8a9a70"/>
<text x="297.20" y="439.53" font-size="5.95" text-anchor="end" fill="#1e1e1e" >HALLMARK_KRAS_SIGNALING_UP</text>
<line x1="300.20" y1="437.42" x2="302.00" y2="437.42" stroke="#555" stroke-width="0.6"/>
<circle cx="340.40" cy="437.42" r="1.05" fill="#4a6a78"/>
<text x="297.20" y="447.37" font-size="5.95" text-anchor="end" fill="#1e1e1e" >HALLMARK_APICAL_JUNCTION</text>
<line x1="300.20" y1="445.26" x2="302.00" y2="445.26" stroke="#555" stroke-width="0.6"/>
<circle cx="310.43" cy="445.26" r="1.10" fill="#3c6470"/>
<text x="297.20" y="455.21" font-size="5.95" text-anchor="end" fill="#1e1e1e" >HALLMARK_XENOBIOTIC_METABOLISM</text>
<line x1="300.20" y1="453.10" x2="302.00" y2="453.10" stroke="#555" stroke-width="0.6"/>
<circle cx="310.97" cy="453.10" r="1.05" fill="#3c6470"/>
<text x="297.20" y="463.05" font-size="5.95" text-anchor="end" fill="#1e1e1e" >HALLMARK_FATTY_ACID_METABOLISM</text>
<line x1="300.20" y1="460.94" x2="302.00" y2="460.94" stroke="#555" stroke-width="0.6"/>
<circle cx="310.43" cy="460.94" r="1.00" fill="#3c6470"/>
<text x="297.20" y="470.89" font-size="5.95" text-anchor="end" fill="#1e1e1e" >HALLMARK_INTERFERON_ALPHA_RESPONSE</text>
<line x1="300.20" y1="468.78" x2="302.00" y2="468.78" stroke="#555" stroke-width="0.6"/>
<circle cx="311.42" cy="468.78" r="1.00" fill="#3c6470"/>
<text x="297.20" y="478.73" font-size="5.95" text-anchor="end" fill="#1e1e1e" >HALLMARK_COAGULATION</text>
<line x1="300.20" y1="476.62" x2="302.00" y2="476.62" stroke="#555" stroke-width="0.6"/>
<circle cx="311.42" cy="476.62" r="1.05" fill="#3c6470"/>
<text x="297.20" y="486.57" font-size="5.95" text-anchor="end" fill="#1e1e1e" >HALLMARK_UV_RESPONSE_DN</text>
<line x1="300.20" y1="484.46" x2="302.00" y2="484.46" stroke="#555" stroke-width="0.6"/>
<circle cx="311.42" cy="484.46" r="1.00" fill="#3c6470"/>
<line x1="308.00" y1="488.50" x2="308.00" y2="490.30" stroke="#555" stroke-width="0.6"/>
<text x="308.00" y="496.03" font-size="6.0" text-anchor="middle" fill="#1e1e1e" >−2</text>
<line x1="326.00" y1="488.50" x2="326.00" y2="490.30" stroke="#555" stroke-width="0.6"/>
<text x="326.00" y="496.03" font-size="6.0" text-anchor="middle" fill="#1e1e1e" >0</text>
<line x1="344.00" y1="488.50" x2="344.00" y2="490.30" stroke="#555" stroke-width="0.6"/>
<text x="344.00" y="496.03" font-size="6.0" text-anchor="middle" fill="#1e1e1e" >2</text>
<text x="326.00" y="504.31" font-size="8.2" text-anchor="middle" fill="#1e1e1e" font-weight="bold" textLength="10.2" lengthAdjust="spacingAndGlyphs" >NES</text>
<text x="354.20" y="422.26" font-size="5.8" text-anchor="start" fill="#1e1e1e" >% Genes</text>
<text x="354.20" y="429.26" font-size="5.8" text-anchor="start" fill="#1e1e1e" >in set</text>
<circle cx="358.50" cy="434.00" r="0.90" fill="#333"/>
<text x="360.80" y="436.06" font-size="5.8" text-anchor="start" fill="#1e1e1e" >0.42</text>
<circle cx="358.50" cy="441.00" r="1.10" fill="#333"/>
<text x="360.80" y="443.06" font-size="5.8" text-anchor="start" fill="#1e1e1e" >0.48</text>
<text x="354.80" y="453.26" font-size="5.8" text-anchor="start" fill="#1e1e1e"><tspan>log</tspan><tspan font-size="3.48" dy="1.28">10</tspan></text>
<line x1="366.40" y1="451.00" x2="380.20" y2="451.00" stroke="#222" stroke-width="0.45"/>
<text x="373.80" y="450.45" font-size="5.2" text-anchor="middle" fill="#1e1e1e" >1</text>
<text x="374.00" y="455.72" font-size="5.4" text-anchor="middle" fill="#1e1e1e"><tspan font-style="italic">Pval</tspan></text>
<defs><linearGradient id="cb2" x1="0" x2="0" y1="0" y2="1"><stop offset="0" stop-color="#f0e63c"/><stop offset="0.3" stop-color="#a8c870"/><stop offset="0.6" stop-color="#5a8aa0"/><stop offset="1" stop-color="#141446"/></linearGradient></defs>
<rect x="354.20" y="456.80" width="1.60" height="20.00" fill="url(#cb2)" />
<text x="357.40" y="460.13" font-size="6.0" text-anchor="start" fill="#1e1e1e" >2.0</text>
<text x="357.40" y="468.93" font-size="6.0" text-anchor="start" fill="#1e1e1e" >1.5</text>
<text x="357.40" y="478.33" font-size="6.0" text-anchor="start" fill="#1e1e1e" >1.0</text>
<text x="332.60" y="528.62" font-size="6.25" text-anchor="middle" fill="#1e1e1e" >Cluster: ELP</text>
<text x="332.60" y="535.52" font-size="5.4" text-anchor="middle" fill="#1e1e1e" textLength="53" lengthAdjust="spacingAndGlyphs"><tspan font-style="italic">Etv6</tspan><tspan font-size="3.24" dy="-2.05" font-style="italic">R355X/+</tspan><tspan dy="2.05"> vs </tspan><tspan font-style="italic">Etv6</tspan><tspan font-size="3.24" dy="-2.05" font-style="italic">+/+</tspan></text>
<rect x="310.0" y="538.9" width="45.2" height="78.5" fill="#fff" stroke="#c4c4c4" stroke-width="0.7"/>
<text x="301.50" y="544.91" font-size="5.95" text-anchor="end" fill="#1e1e1e" >HALLMARK_MYC_TARGETS_V1</text>
<line x1="308.20" y1="542.80" x2="310.00" y2="542.80" stroke="#555" stroke-width="0.6"/>
<circle cx="312.45" cy="542.80" r="1.60" fill="#e0d030"/>
<text x="301.50" y="552.81" font-size="5.95" text-anchor="end" fill="#1e1e1e" >HALLMARK_MYC_TARGETS_V2</text>
<line x1="308.20" y1="550.70" x2="310.00" y2="550.70" stroke="#555" stroke-width="0.6"/>
<circle cx="313.93" cy="550.70" r="1.30" fill="#d8d058"/>
<text x="301.50" y="560.71" font-size="5.95" text-anchor="end" fill="#1e1e1e" >HALLMARK_ALLOGRAFT_REJECTION</text>
<line x1="308.20" y1="558.60" x2="310.00" y2="558.60" stroke="#555" stroke-width="0.6"/>
<circle cx="346.56" cy="558.60" r="1.30" fill="#e0dc60"/>
<text x="301.50" y="568.61" font-size="5.95" text-anchor="end" fill="#1e1e1e" >HALLMARK_COMPLEMENT</text>
<line x1="308.20" y1="566.50" x2="310.00" y2="566.50" stroke="#555" stroke-width="0.6"/>
<circle cx="345.74" cy="566.50" r="1.15" fill="#d8d474"/>
<text x="301.50" y="576.51" font-size="5.95" text-anchor="end" fill="#1e1e1e" >HALLMARK_UV_RESPONSE_DN</text>
<line x1="308.20" y1="574.40" x2="310.00" y2="574.40" stroke="#555" stroke-width="0.6"/>
<circle cx="314.99" cy="574.40" r="1.10" fill="#c8c460"/>
<text x="301.50" y="584.41" font-size="5.95" text-anchor="end" fill="#1e1e1e" >HALLMARK_E2F_TARGETS</text>
<line x1="308.20" y1="582.30" x2="310.00" y2="582.30" stroke="#555" stroke-width="0.6"/>
<circle cx="314.75" cy="582.30" r="1.00" fill="#bcbc6c"/>
<text x="301.50" y="592.31" font-size="5.95" text-anchor="end" fill="#1e1e1e" >HALLMARK_G2M_CHECKPOINT</text>
<line x1="308.20" y1="590.20" x2="310.00" y2="590.20" stroke="#555" stroke-width="0.6"/>
<circle cx="316.06" cy="590.20" r="1.10" fill="#5a8078"/>
<text x="301.50" y="600.21" font-size="5.95" text-anchor="end" fill="#1e1e1e" >HALLMARK_DNA_REPAIR</text>
<line x1="308.20" y1="598.10" x2="310.00" y2="598.10" stroke="#555" stroke-width="0.6"/>
<circle cx="316.06" cy="598.10" r="1.10" fill="#5e8880"/>
<text x="301.50" y="608.11" font-size="5.95" text-anchor="end" fill="#1e1e1e" >HALLMARK_ANDROGEN_RESPONSE</text>
<line x1="308.20" y1="606.00" x2="310.00" y2="606.00" stroke="#555" stroke-width="0.6"/>
<circle cx="316.88" cy="606.00" r="0.80" fill="#3a5a70"/>
<text x="301.50" y="616.01" font-size="5.95" text-anchor="end" fill="#1e1e1e" >HALLMARK_INTERFERON_GAMMA_RESPONSE</text>
<line x1="308.20" y1="613.90" x2="310.00" y2="613.90" stroke="#555" stroke-width="0.6"/>
<circle cx="342.79" cy="613.90" r="1.25" fill="#10103a"/>
<line x1="313.60" y1="617.40" x2="313.60" y2="619.20" stroke="#555" stroke-width="0.6"/>
<text x="313.60" y="624.93" font-size="6.0" text-anchor="middle" fill="#1e1e1e" >−2</text>
<line x1="330.00" y1="617.40" x2="330.00" y2="619.20" stroke="#555" stroke-width="0.6"/>
<text x="330.00" y="624.93" font-size="6.0" text-anchor="middle" fill="#1e1e1e" >0</text>
<line x1="346.40" y1="617.40" x2="346.40" y2="619.20" stroke="#555" stroke-width="0.6"/>
<text x="346.40" y="624.93" font-size="6.0" text-anchor="middle" fill="#1e1e1e" >2</text>
<text x="330.00" y="633.21" font-size="8.2" text-anchor="middle" fill="#1e1e1e" font-weight="bold" textLength="10.2" lengthAdjust="spacingAndGlyphs" >NES</text>
<text x="358.90" y="550.96" font-size="5.8" text-anchor="start" fill="#1e1e1e" >% Genes</text>
<text x="358.90" y="557.96" font-size="5.8" text-anchor="start" fill="#1e1e1e" >in set</text>
<circle cx="360.90" cy="562.70" r="0.60" fill="#333"/>
<text x="363.50" y="564.76" font-size="5.8" text-anchor="start" fill="#1e1e1e" >0.40</text>
<circle cx="360.90" cy="569.70" r="1.20" fill="#333"/>
<text x="363.50" y="571.76" font-size="5.8" text-anchor="start" fill="#1e1e1e" >0.60</text>
<text x="359.50" y="581.96" font-size="5.8" text-anchor="start" fill="#1e1e1e"><tspan>log</tspan><tspan font-size="3.48" dy="1.28">10</tspan></text>
<line x1="371.10" y1="579.70" x2="384.90" y2="579.70" stroke="#222" stroke-width="0.45"/>
<text x="378.50" y="579.15" font-size="5.2" text-anchor="middle" fill="#1e1e1e" >1</text>
<text x="378.70" y="584.42" font-size="5.4" text-anchor="middle" fill="#1e1e1e"><tspan font-style="italic">Pval</tspan></text>
<defs><linearGradient id="cb3" x1="0" x2="0" y1="0" y2="1"><stop offset="0" stop-color="#f0e63c"/><stop offset="0.3" stop-color="#a8c870"/><stop offset="0.6" stop-color="#5a8aa0"/><stop offset="1" stop-color="#141446"/></linearGradient></defs>
<rect x="358.90" y="585.50" width="1.60" height="20.00" fill="url(#cb3)" />
<text x="362.10" y="588.83" font-size="6.0" text-anchor="start" fill="#1e1e1e" >2.0</text>
<text x="362.10" y="597.63" font-size="6.0" text-anchor="start" fill="#1e1e1e" >1.5</text>
<text x="362.10" y="607.03" font-size="6.0" text-anchor="start" fill="#1e1e1e" >1.0</text>
<rect x="430.00" y="316.30" width="82.00" height="7.10" fill="#e6eaf4" />
<g stroke="#7888c0" stroke-opacity="0.8">
<line x1="503.7" y1="316.3" x2="503.7" y2="323.4" stroke-width="0.44"/>
<line x1="485.0" y1="316.3" x2="485.0" y2="323.4" stroke-width="0.68"/>
<line x1="485.4" y1="316.3" x2="485.4" y2="323.4" stroke-width="0.42"/>
<line x1="434.6" y1="316.3" x2="434.6" y2="323.4" stroke-width="0.51"/>
<line x1="509.8" y1="316.3" x2="509.8" y2="323.4" stroke-width="0.58"/>
<line x1="478.3" y1="316.3" x2="478.3" y2="323.4" stroke-width="0.99"/>
<line x1="487.6" y1="316.3" x2="487.6" y2="323.4" stroke-width="0.53"/>
<line x1="464.9" y1="316.3" x2="464.9" y2="323.4" stroke-width="0.46"/>
<line x1="453.6" y1="316.3" x2="453.6" y2="323.4" stroke-width="0.58"/>
<line x1="432.1" y1="316.3" x2="432.1" y2="323.4" stroke-width="0.91"/>
<line x1="503.1" y1="316.3" x2="503.1" y2="323.4" stroke-width="0.71"/>
<line x1="482.0" y1="316.3" x2="482.0" y2="323.4" stroke-width="0.76"/>
<line x1="484.1" y1="316.3" x2="484.1" y2="323.4" stroke-width="1.00"/>
<line x1="477.3" y1="316.3" x2="477.3" y2="323.4" stroke-width="0.49"/>
<line x1="486.6" y1="316.3" x2="486.6" y2="323.4" stroke-width="0.81"/>
<line x1="499.7" y1="316.3" x2="499.7" y2="323.4" stroke-width="0.81"/>
<line x1="456.7" y1="316.3" x2="456.7" y2="323.4" stroke-width="0.42"/>
<line x1="466.8" y1="316.3" x2="466.8" y2="323.4" stroke-width="0.78"/>
<line x1="490.0" y1="316.3" x2="490.0" y2="323.4" stroke-width="0.80"/>
<line x1="478.9" y1="316.3" x2="478.9" y2="323.4" stroke-width="0.76"/>
<line x1="449.4" y1="316.3" x2="449.4" y2="323.4" stroke-width="0.64"/>
<line x1="464.3" y1="316.3" x2="464.3" y2="323.4" stroke-width="0.42"/>
<line x1="507.6" y1="316.3" x2="507.6" y2="323.4" stroke-width="0.45"/>
<line x1="509.1" y1="316.3" x2="509.1" y2="323.4" stroke-width="0.88"/>
<line x1="448.5" y1="316.3" x2="448.5" y2="323.4" stroke-width="0.62"/>
<line x1="450.6" y1="316.3" x2="450.6" y2="323.4" stroke-width="0.77"/>
<line x1="433.0" y1="316.3" x2="433.0" y2="323.4" stroke-width="0.65"/>
<line x1="491.5" y1="316.3" x2="491.5" y2="323.4" stroke-width="0.67"/>
<line x1="481.3" y1="316.3" x2="481.3" y2="323.4" stroke-width="0.66"/>
<line x1="481.4" y1="316.3" x2="481.4" y2="323.4" stroke-width="0.92"/>
<line x1="485.2" y1="316.3" x2="485.2" y2="323.4" stroke-width="0.94"/>
<line x1="498.6" y1="316.3" x2="498.6" y2="323.4" stroke-width="0.70"/>
<line x1="464.2" y1="316.3" x2="464.2" y2="323.4" stroke-width="0.82"/>
<line x1="485.8" y1="316.3" x2="485.8" y2="323.4" stroke-width="0.59"/>
<line x1="481.1" y1="316.3" x2="481.1" y2="323.4" stroke-width="0.63"/>
<line x1="509.9" y1="316.3" x2="509.9" y2="323.4" stroke-width="0.54"/>
<line x1="464.5" y1="316.3" x2="464.5" y2="323.4" stroke-width="0.91"/>
<line x1="468.9" y1="316.3" x2="468.9" y2="323.4" stroke-width="0.56"/>
<line x1="448.8" y1="316.3" x2="448.8" y2="323.4" stroke-width="0.84"/>
<line x1="484.5" y1="316.3" x2="484.5" y2="323.4" stroke-width="0.59"/>
<line x1="455.7" y1="316.3" x2="455.7" y2="323.4" stroke-width="0.71"/>
<line x1="500.9" y1="316.3" x2="500.9" y2="323.4" stroke-width="0.80"/>
</g>
<defs><linearGradient id="gr3" x1="0" x2="1" y1="0" y2="0"><stop offset="0" stop-color="#eab4b8"/><stop offset="0.2" stop-color="#f6e2e4"/><stop offset="0.45" stop-color="#ffffff"/><stop offset="0.7" stop-color="#dcdcee"/><stop offset="0.92" stop-color="#8484c0"/><stop offset="1" stop-color="#4a4a9a"/></linearGradient></defs>
<rect x="430.00" y="323.40" width="82.00" height="4.40" fill="url(#gr3)" />
<line x1="471.00" y1="327.80" x2="471.00" y2="356.40" stroke="#999" stroke-width="0.5" stroke-dasharray="0.8,0.8"/>
<path d="M430.0,347.0 L430.0,344.4 L431.0,345.2 L432.1,345.7 L433.1,346.0 L434.1,346.2 L435.1,346.4 L436.1,346.5 L437.2,346.5 L438.2,346.6 L439.2,346.6 L440.2,346.6 L441.3,346.7 L442.3,346.7 L443.3,346.7 L444.4,346.7 L445.4,346.7 L446.4,346.7 L447.4,346.7 L448.4,346.7 L449.5,346.7 L450.5,346.7 L451.5,346.7 L452.6,346.7 L453.6,346.7 L454.6,346.7 L455.6,346.7 L456.6,346.8 L457.7,346.8 L458.7,346.8 L459.7,346.8 L460.8,346.8 L461.8,346.8 L462.8,346.8 L463.8,346.8 L464.9,346.8 L465.9,346.8 L466.9,346.8 L467.9,346.8 L468.9,346.8 L470.0,346.8 L471.0,346.8 L472.0,346.8 L473.1,346.8 L474.1,346.8 L475.1,346.8 L476.1,346.8 L477.1,346.8 L478.2,346.8 L479.2,346.9 L480.2,346.9 L481.2,346.9 L482.3,346.9 L483.3,346.9 L484.3,346.9 L485.4,346.9 L486.4,346.9 L487.4,346.9 L488.4,346.9 L489.4,346.9 L490.5,346.9 L491.5,346.9 L492.5,346.9 L493.6,346.9 L494.6,347.0 L495.6,347.0 L496.6,347.0 L497.6,347.0 L498.7,347.0 L499.7,347.1 L500.7,347.1 L501.8,347.1 L502.8,347.2 L503.8,347.3 L504.8,347.4 L505.9,347.5 L506.9,347.6 L507.9,347.8 L508.9,348.0 L509.9,348.3 L511.0,348.7 L512.0,349.2 L512.0,347.0Z" fill="#d4d4d4" stroke="#a0a0a0" stroke-width="0.7" />
<path d="M430.0,316.3 L430.5,306.6 L431.0,299.8 L431.5,297.1 L432.1,294.2 L432.6,292.1 L433.1,291.9 L433.6,291.2 L434.1,290.5 L434.6,289.6 L435.2,289.1 L435.7,288.5 L436.2,287.9 L436.7,287.3 L437.2,286.9 L437.7,287.0 L438.3,286.9 L438.8,286.2 L439.3,286.1 L439.8,285.7 L440.3,285.5 L440.8,285.4 L441.3,285.2 L441.9,284.4 L442.4,284.2 L442.9,284.1 L443.4,284.2 L443.9,284.1 L444.4,284.1 L445.0,283.9 L445.5,284.0 L446.0,283.9 L446.5,283.7 L447.0,283.3 L447.5,283.9 L448.1,283.3 L448.6,283.2 L449.1,283.5 L449.6,283.1 L450.1,283.1 L450.6,283.1 L451.1,283.1 L451.7,283.2 L452.2,282.5 L452.7,282.4 L453.2,282.5 L453.7,282.8 L454.2,282.7 L454.8,282.6 L455.3,282.8 L455.8,282.6 L456.3,282.4 L456.8,282.6 L457.3,282.8 L457.8,282.7 L458.4,282.3 L458.9,282.4 L459.4,282.4 L459.9,282.0 L460.4,282.3 L460.9,282.4 L461.5,282.2 L462.0,281.8 L462.5,282.4 L463.0,281.8 L463.5,281.8 L464.0,282.2 L464.6,282.2 L465.1,281.8 L465.6,282.0 L466.1,282.1 L466.6,281.6 L467.1,282.0 L467.6,282.0 L468.2,282.1 L468.7,282.2 L469.2,282.2 L469.7,282.3 L470.2,282.2 L470.7,282.1 L471.3,282.1 L471.8,282.2 L472.3,282.1 L472.8,282.3 L473.3,282.7 L473.8,282.4 L474.4,283.0 L474.9,282.8 L475.4,282.7 L475.9,283.2 L476.4,282.7 L476.9,283.3 L477.4,283.5 L478.0,283.4 L478.5,283.5 L479.0,283.5 L479.5,283.6 L480.0,283.5 L480.5,283.9 L481.1,283.9 L481.6,284.2 L482.1,284.0 L482.6,284.4 L483.1,284.8 L483.6,284.2 L484.2,284.9 L484.7,285.0 L485.2,285.1 L485.7,285.0 L486.2,285.6 L486.7,285.5 L487.2,285.4 L487.8,285.3 L488.3,285.9 L488.8,286.0 L489.3,286.3 L489.8,285.9 L490.3,286.5 L490.9,286.6 L491.4,286.7 L491.9,287.2 L492.4,287.2 L492.9,287.7 L493.4,287.3 L493.9,287.9 L494.5,288.1 L495.0,288.0 L495.5,288.7 L496.0,288.4 L496.5,288.6 L497.0,289.3 L497.6,289.2 L498.1,289.6 L498.6,289.6 L499.1,290.0 L499.6,290.4 L500.1,290.4 L500.7,291.0 L501.2,291.3 L501.7,291.6 L502.2,291.9 L502.7,292.4 L503.2,293.3 L503.7,293.2 L504.3,293.8 L504.8,294.0 L505.3,294.6 L505.8,295.1 L506.3,296.3 L506.8,297.4 L507.4,298.3 L507.9,299.7 L508.4,300.2 L508.9,301.3 L509.4,302.6 L509.9,304.6 L510.5,307.4 L511.0,310.0 L511.5,311.8 L512.0,312.9" fill="none" stroke="#5cb040" stroke-width="0.9" />
<rect x="430.5" y="280.5" width="82.0" height="76.0" fill="none" stroke="#3a3a3a" stroke-width="0.9"/>
<line x1="430.50" y1="316.50" x2="512.50" y2="316.50" stroke="#555" stroke-width="0.8"/>
<line x1="427.80" y1="280.80" x2="430.00" y2="280.80" stroke="#333" stroke-width="0.7"/>
<text x="427.00" y="282.93" font-size="6.0" text-anchor="end" fill="#222" >2.0</text>
<line x1="427.80" y1="289.70" x2="430.00" y2="289.70" stroke="#333" stroke-width="0.7"/>
<text x="427.00" y="291.83" font-size="6.0" text-anchor="end" fill="#222" >1.5</text>
<line x1="427.80" y1="298.60" x2="430.00" y2="298.60" stroke="#333" stroke-width="0.7"/>
<text x="427.00" y="300.73" font-size="6.0" text-anchor="end" fill="#222" >1.0</text>
<line x1="427.80" y1="307.40" x2="430.00" y2="307.40" stroke="#333" stroke-width="0.7"/>
<text x="427.00" y="309.53" font-size="6.0" text-anchor="end" fill="#222" >0.5</text>
<line x1="427.80" y1="316.30" x2="430.00" y2="316.30" stroke="#333" stroke-width="0.7"/>
<text x="427.00" y="318.43" font-size="6.0" text-anchor="end" fill="#222" >0.0</text>
<line x1="427.80" y1="328.80" x2="430.00" y2="328.80" stroke="#333" stroke-width="0.7"/>
<text x="427.00" y="330.93" font-size="6.0" text-anchor="end" fill="#222" >1.0</text>
<line x1="427.80" y1="337.90" x2="430.00" y2="337.90" stroke="#333" stroke-width="0.7"/>
<text x="427.00" y="340.03" font-size="6.0" text-anchor="end" fill="#222" >0.5</text>
<line x1="427.80" y1="347.00" x2="430.00" y2="347.00" stroke="#333" stroke-width="0.7"/>
<text x="427.00" y="349.13" font-size="6.0" text-anchor="end" fill="#222" >0.0</text>
<line x1="430.80" y1="356.40" x2="430.80" y2="358.60" stroke="#333" stroke-width="0.7"/>
<text x="432.40" y="363.24" font-size="6.3" text-anchor="end" fill="#222" transform="rotate(-45 432.40 361.00)" >0</text>
<line x1="443.13" y1="356.40" x2="443.13" y2="358.60" stroke="#333" stroke-width="0.7"/>
<text x="444.73" y="363.24" font-size="6.3" text-anchor="end" fill="#222" transform="rotate(-45 444.73 361.00)" >2000</text>
<line x1="455.46" y1="356.40" x2="455.46" y2="358.60" stroke="#333" stroke-width="0.7"/>
<text x="457.06" y="363.24" font-size="6.3" text-anchor="end" fill="#222" transform="rotate(-45 457.06 361.00)" >4000</text>
<line x1="467.79" y1="356.40" x2="467.79" y2="358.60" stroke="#333" stroke-width="0.7"/>
<text x="469.39" y="363.24" font-size="6.3" text-anchor="end" fill="#222" transform="rotate(-45 469.39 361.00)" >6000</text>
<line x1="480.12" y1="356.40" x2="480.12" y2="358.60" stroke="#333" stroke-width="0.7"/>
<text x="481.72" y="363.24" font-size="6.3" text-anchor="end" fill="#222" transform="rotate(-45 481.72 361.00)" >8000</text>
<line x1="492.45" y1="356.40" x2="492.45" y2="358.60" stroke="#333" stroke-width="0.7"/>
<text x="494.05" y="363.24" font-size="6.3" text-anchor="end" fill="#222" transform="rotate(-45 494.05 361.00)" >10000</text>
<line x1="504.78" y1="356.40" x2="504.78" y2="358.60" stroke="#333" stroke-width="0.7"/>
<text x="506.38" y="363.24" font-size="6.3" text-anchor="end" fill="#222" transform="rotate(-45 506.38 361.00)" >12000</text>
<text x="438.00" y="302.21" font-size="5.1" text-anchor="start" fill="#1a1a1a" >NES: 1.898</text>
<text x="438.00" y="308.26" font-size="5.1" text-anchor="start" fill="#1a1a1a"><tspan font-style="italic">Pval</tspan><tspan>: 0.000e+00</tspan></text>
<text x="438.00" y="314.31" font-size="5.1" text-anchor="start" fill="#1a1a1a" >FDR: 6.160e−03</text>
<text x="470.50" y="344.36" font-size="5.25" text-anchor="middle" fill="#1a1a1a" >Zero score at 6638</text>
<text x="468.70" y="385.02" font-size="8.5" text-anchor="middle" fill="#1e1e1e" font-weight="bold" textLength="60" lengthAdjust="spacingAndGlyphs" >Rank in ordered dataset</text>
<text x="399.60" y="303.97" font-size="7.8" text-anchor="middle" fill="#1e1e1e" textLength="29" lengthAdjust="spacingAndGlyphs" transform="rotate(-90 399.60 301.20)" >Enrichment</text>
<text x="409.00" y="303.37" font-size="7.8" text-anchor="middle" fill="#1e1e1e" textLength="12.4" lengthAdjust="spacingAndGlyphs" transform="rotate(-90 409.00 300.60)" >score</text>
<text x="399.60" y="339.17" font-size="7.8" text-anchor="middle" fill="#1e1e1e" textLength="27.7" lengthAdjust="spacingAndGlyphs" transform="rotate(-90 399.60 336.40)" >Ranked list</text>
<text x="409.00" y="338.97" font-size="7.8" text-anchor="middle" fill="#1e1e1e" textLength="16" lengthAdjust="spacingAndGlyphs" transform="rotate(-90 409.00 336.20)" >metric</text>
<text x="471.00" y="269.71" font-size="5.95" text-anchor="middle" fill="#1e1e1e" >HALLMARK_INFLAMMATORY_</text>
<text x="471.00" y="277.31" font-size="5.95" text-anchor="middle" fill="#1e1e1e" >RESPONSE</text>
<rect x="430.00" y="446.30" width="82.00" height="7.10" fill="#eceef8" />
<g stroke="#3a4270" stroke-opacity="0.55">
<line x1="430.7" y1="446.3" x2="430.7" y2="453.4" stroke-width="0.41"/>
<line x1="433.3" y1="446.3" x2="433.3" y2="453.4" stroke-width="0.36"/>
<line x1="435.9" y1="446.3" x2="435.9" y2="453.4" stroke-width="0.49"/>
<line x1="438.5" y1="446.3" x2="438.5" y2="453.4" stroke-width="0.43"/>
<line x1="440.6" y1="446.3" x2="440.6" y2="453.4" stroke-width="0.39"/>
<line x1="442.3" y1="446.3" x2="442.3" y2="453.4" stroke-width="0.41"/>
<line x1="444.9" y1="446.3" x2="444.9" y2="453.4" stroke-width="0.48"/>
<line x1="447.0" y1="446.3" x2="447.0" y2="453.4" stroke-width="0.41"/>
<line x1="449.3" y1="446.3" x2="449.3" y2="453.4" stroke-width="0.33"/>
<line x1="451.1" y1="446.3" x2="451.1" y2="453.4" stroke-width="0.35"/>
<line x1="454.0" y1="446.3" x2="454.0" y2="453.4" stroke-width="0.48"/>
<line x1="455.6" y1="446.3" x2="455.6" y2="453.4" stroke-width="0.39"/>
<line x1="458.8" y1="446.3" x2="458.8" y2="453.4" stroke-width="0.49"/>
<line x1="460.3" y1="446.3" x2="460.3" y2="453.4" stroke-width="0.31"/>
<line x1="462.6" y1="446.3" x2="462.6" y2="453.4" stroke-width="0.37"/>
<line x1="465.1" y1="446.3" x2="465.1" y2="453.4" stroke-width="0.42"/>
<line x1="467.0" y1="446.3" x2="467.0" y2="453.4" stroke-width="0.48"/>
<line x1="470.1" y1="446.3" x2="470.1" y2="453.4" stroke-width="0.41"/>
<line x1="472.7" y1="446.3" x2="472.7" y2="453.4" stroke-width="0.39"/>
<line x1="474.2" y1="446.3" x2="474.2" y2="453.4" stroke-width="0.45"/>
<line x1="477.1" y1="446.3" x2="477.1" y2="453.4" stroke-width="0.44"/>
<line x1="479.4" y1="446.3" x2="479.4" y2="453.4" stroke-width="0.32"/>
<line x1="481.8" y1="446.3" x2="481.8" y2="453.4" stroke-width="0.35"/>
<line x1="483.7" y1="446.3" x2="483.7" y2="453.4" stroke-width="0.35"/>
<line x1="485.8" y1="446.3" x2="485.8" y2="453.4" stroke-width="0.49"/>
<line x1="487.9" y1="446.3" x2="487.9" y2="453.4" stroke-width="0.50"/>
<line x1="490.4" y1="446.3" x2="490.4" y2="453.4" stroke-width="0.49"/>
<line x1="492.6" y1="446.3" x2="492.6" y2="453.4" stroke-width="0.38"/>
<line x1="495.3" y1="446.3" x2="495.3" y2="453.4" stroke-width="0.36"/>
<line x1="497.6" y1="446.3" x2="497.6" y2="453.4" stroke-width="0.36"/>
<line x1="499.3" y1="446.3" x2="499.3" y2="453.4" stroke-width="0.45"/>
<line x1="501.6" y1="446.3" x2="501.6" y2="453.4" stroke-width="0.45"/>
<line x1="503.6" y1="446.3" x2="503.6" y2="453.4" stroke-width="0.34"/>
<line x1="505.8" y1="446.3" x2="505.8" y2="453.4" stroke-width="0.47"/>
<line x1="509.0" y1="446.3" x2="509.0" y2="453.4" stroke-width="0.46"/>
<line x1="511.4" y1="446.3" x2="511.4" y2="453.4" stroke-width="0.30"/>
</g>
<defs><linearGradient id="gr4" x1="0" x2="1" y1="0" y2="0"><stop offset="0" stop-color="#eeb8bc"/><stop offset="0.2" stop-color="#f8e6e8"/><stop offset="0.45" stop-color="#ffffff"/><stop offset="0.7" stop-color="#d8d8ee"/><stop offset="0.92" stop-color="#6060b0"/><stop offset="1" stop-color="#1e1e80"/></linearGradient></defs>
<rect x="430.00" y="453.40" width="82.00" height="3.80" fill="url(#gr4)" />
<line x1="471.00" y1="457.20" x2="471.00" y2="485.50" stroke="#999" stroke-width="0.5" stroke-dasharray="0.8,0.8"/>
<path d="M430.0,476.3 L430.0,473.8 L431.0,474.5 L432.1,475.0 L433.1,475.3 L434.1,475.6 L435.1,475.7 L436.1,475.8 L437.2,475.9 L438.2,475.9 L439.2,475.9 L440.2,476.0 L441.3,476.0 L442.3,476.0 L443.3,476.0 L444.4,476.0 L445.4,476.0 L446.4,476.0 L447.4,476.0 L448.4,476.0 L449.5,476.0 L450.5,476.0 L451.5,476.0 L452.6,476.0 L453.6,476.0 L454.6,476.0 L455.6,476.1 L456.6,476.1 L457.7,476.1 L458.7,476.1 L459.7,476.1 L460.8,476.1 L461.8,476.1 L462.8,476.1 L463.8,476.1 L464.9,476.1 L465.9,476.1 L466.9,476.1 L467.9,476.1 L468.9,476.1 L470.0,476.1 L471.0,476.1 L472.0,476.1 L473.1,476.1 L474.1,476.1 L475.1,476.1 L476.1,476.1 L477.1,476.1 L478.2,476.2 L479.2,476.2 L480.2,476.2 L481.2,476.2 L482.3,476.2 L483.3,476.2 L484.3,476.2 L485.4,476.2 L486.4,476.2 L487.4,476.2 L488.4,476.2 L489.4,476.2 L490.5,476.2 L491.5,476.2 L492.5,476.2 L493.6,476.2 L494.6,476.3 L495.6,476.3 L496.6,476.3 L497.6,476.3 L498.7,476.3 L499.7,476.4 L500.7,476.4 L501.8,476.4 L502.8,476.5 L503.8,476.6 L504.8,476.6 L505.9,476.8 L506.9,476.9 L507.9,477.1 L508.9,477.3 L509.9,477.6 L511.0,478.0 L512.0,478.5 L512.0,476.3Z" fill="#d4d4d4" stroke="#a0a0a0" stroke-width="0.7" />
<path d="M430.0,446.3 L430.5,438.3 L431.0,432.8 L431.5,430.8 L432.1,428.8 L432.6,426.8 L433.1,425.2 L433.6,423.8 L434.1,423.0 L434.6,422.5 L435.2,422.0 L435.7,421.6 L436.2,420.8 L436.7,419.8 L437.2,419.6 L437.7,418.7 L438.3,418.4 L438.8,417.9 L439.3,418.1 L439.8,417.8 L440.3,417.5 L440.8,417.4 L441.3,417.5 L441.9,417.3 L442.4,417.2 L442.9,416.9 L443.4,416.8 L443.9,416.6 L444.4,416.3 L445.0,416.4 L445.5,416.2 L446.0,416.0 L446.5,415.8 L447.0,415.9 L447.5,415.5 L448.1,415.8 L448.6,415.2 L449.1,415.5 L449.6,415.2 L450.1,415.5 L450.6,415.3 L451.1,415.2 L451.7,414.8 L452.2,415.1 L452.7,414.8 L453.2,415.1 L453.7,414.6 L454.2,415.0 L454.8,415.1 L455.3,415.2 L455.8,414.7 L456.3,414.8 L456.8,414.7 L457.3,414.7 L457.8,414.6 L458.4,414.4 L458.9,414.7 L459.4,414.6 L459.9,414.7 L460.4,414.9 L460.9,414.6 L461.5,414.3 L462.0,414.7 L462.5,414.1 L463.0,414.4 L463.5,414.5 L464.0,414.5 L464.6,414.7 L465.1,414.7 L465.6,414.6 L466.1,415.0 L466.6,415.0 L467.1,415.2 L467.6,415.0 L468.2,414.5 L468.7,414.9 L469.2,415.4 L469.7,415.6 L470.2,415.2 L470.7,415.3 L471.3,415.6 L471.8,415.3 L472.3,415.6 L472.8,415.7 L473.3,415.7 L473.8,415.8 L474.4,416.2 L474.9,416.3 L475.4,416.0 L475.9,416.4 L476.4,416.7 L476.9,416.5 L477.4,416.8 L478.0,416.7 L478.5,416.3 L479.0,416.6 L479.5,417.2 L480.0,417.5 L480.5,417.4 L481.1,417.8 L481.6,417.7 L482.1,417.9 L482.6,418.0 L483.1,418.2 L483.6,418.7 L484.2,418.6 L484.7,418.7 L485.2,418.8 L485.7,418.8 L486.2,419.4 L486.7,419.4 L487.2,419.6 L487.8,419.9 L488.3,419.8 L488.8,420.3 L489.3,420.0 L489.8,421.1 L490.3,420.5 L490.9,421.1 L491.4,421.5 L491.9,421.5 L492.4,421.7 L492.9,421.7 L493.4,421.9 L493.9,422.5 L494.5,422.6 L495.0,422.7 L495.5,423.0 L496.0,423.4 L496.5,423.4 L497.0,423.9 L497.6,424.6 L498.1,424.6 L498.6,425.0 L499.1,425.3 L499.6,425.4 L500.1,425.8 L500.7,426.2 L501.2,426.5 L501.7,426.7 L502.2,427.4 L502.7,427.7 L503.2,428.0 L503.7,428.9 L504.3,429.4 L504.8,429.9 L505.3,430.1 L505.8,430.9 L506.3,431.2 L506.8,432.0 L507.4,432.4 L507.9,432.9 L508.4,434.3 L508.9,435.8 L509.4,436.7 L509.9,438.3 L510.5,439.6 L511.0,441.0 L511.5,442.7 L512.0,444.7" fill="none" stroke="#5cb040" stroke-width="0.9" />
<rect x="430.5" y="412.5" width="82.0" height="73.0" fill="none" stroke="#3a3a3a" stroke-width="0.9"/>
<line x1="430.50" y1="446.50" x2="512.50" y2="446.50" stroke="#555" stroke-width="0.8"/>
<line x1="427.80" y1="419.50" x2="430.00" y2="419.50" stroke="#333" stroke-width="0.7"/>
<text x="427.00" y="421.63" font-size="6.0" text-anchor="end" fill="#222" >1.5</text>
<line x1="427.80" y1="428.30" x2="430.00" y2="428.30" stroke="#333" stroke-width="0.7"/>
<text x="427.00" y="430.43" font-size="6.0" text-anchor="end" fill="#222" >1.0</text>
<line x1="427.80" y1="437.30" x2="430.00" y2="437.30" stroke="#333" stroke-width="0.7"/>
<text x="427.00" y="439.43" font-size="6.0" text-anchor="end" fill="#222" >0.5</text>
<line x1="427.80" y1="446.30" x2="430.00" y2="446.30" stroke="#333" stroke-width="0.7"/>
<text x="427.00" y="448.43" font-size="6.0" text-anchor="end" fill="#222" >0.0</text>
<line x1="427.80" y1="458.30" x2="430.00" y2="458.30" stroke="#333" stroke-width="0.7"/>
<text x="427.00" y="460.43" font-size="6.0" text-anchor="end" fill="#222" >1.0</text>
<line x1="427.80" y1="467.30" x2="430.00" y2="467.30" stroke="#333" stroke-width="0.7"/>
<text x="427.00" y="469.43" font-size="6.0" text-anchor="end" fill="#222" >0.5</text>
<line x1="427.80" y1="476.30" x2="430.00" y2="476.30" stroke="#333" stroke-width="0.7"/>
<text x="427.00" y="478.43" font-size="6.0" text-anchor="end" fill="#222" >0.0</text>
<line x1="427.80" y1="485.50" x2="430.00" y2="485.50" stroke="#333" stroke-width="0.7"/>
<text x="427.00" y="487.63" font-size="6.0" text-anchor="end" fill="#222" >−0.5</text>
<line x1="430.80" y1="485.50" x2="430.80" y2="487.70" stroke="#333" stroke-width="0.7"/>
<text x="432.40" y="492.34" font-size="6.3" text-anchor="end" fill="#222" transform="rotate(-45 432.40 490.10)" >0</text>
<line x1="443.13" y1="485.50" x2="443.13" y2="487.70" stroke="#333" stroke-width="0.7"/>
<text x="444.73" y="492.34" font-size="6.3" text-anchor="end" fill="#222" transform="rotate(-45 444.73 490.10)" >2000</text>
<line x1="455.46" y1="485.50" x2="455.46" y2="487.70" stroke="#333" stroke-width="0.7"/>
<text x="457.06" y="492.34" font-size="6.3" text-anchor="end" fill="#222" transform="rotate(-45 457.06 490.10)" >4000</text>
<line x1="467.79" y1="485.50" x2="467.79" y2="487.70" stroke="#333" stroke-width="0.7"/>
<text x="469.39" y="492.34" font-size="6.3" text-anchor="end" fill="#222" transform="rotate(-45 469.39 490.10)" >6000</text>
<line x1="480.12" y1="485.50" x2="480.12" y2="487.70" stroke="#333" stroke-width="0.7"/>
<text x="481.72" y="492.34" font-size="6.3" text-anchor="end" fill="#222" transform="rotate(-45 481.72 490.10)" >8000</text>
<line x1="492.45" y1="485.50" x2="492.45" y2="487.70" stroke="#333" stroke-width="0.7"/>
<text x="494.05" y="492.34" font-size="6.3" text-anchor="end" fill="#222" transform="rotate(-45 494.05 490.10)" >10000</text>
<line x1="504.78" y1="485.50" x2="504.78" y2="487.70" stroke="#333" stroke-width="0.7"/>
<text x="506.38" y="492.34" font-size="6.3" text-anchor="end" fill="#222" transform="rotate(-45 506.38 490.10)" >12000</text>
<text x="438.00" y="431.81" font-size="5.1" text-anchor="start" fill="#1a1a1a" >NES: 1.785</text>
<text x="438.00" y="437.86" font-size="5.1" text-anchor="start" fill="#1a1a1a"><tspan font-style="italic">Pval</tspan><tspan>: 0.000e+00</tspan></text>
<text x="438.00" y="443.91" font-size="5.1" text-anchor="start" fill="#1a1a1a" >FDR: 1.817e−02</text>
<text x="471.50" y="472.36" font-size="5.25" text-anchor="middle" fill="#1a1a1a" >Zero score at 6591</text>
<text x="468.70" y="514.32" font-size="8.5" text-anchor="middle" fill="#1e1e1e" font-weight="bold" textLength="60" lengthAdjust="spacingAndGlyphs" >Rank in ordered dataset</text>
<text x="399.60" y="435.17" font-size="7.8" text-anchor="middle" fill="#1e1e1e" textLength="29" lengthAdjust="spacingAndGlyphs" transform="rotate(-90 399.60 432.40)" >Enrichment</text>
<text x="409.00" y="434.57" font-size="7.8" text-anchor="middle" fill="#1e1e1e" textLength="12.4" lengthAdjust="spacingAndGlyphs" transform="rotate(-90 409.00 431.80)" >score</text>
<text x="399.60" y="469.27" font-size="7.8" text-anchor="middle" fill="#1e1e1e" textLength="27.7" lengthAdjust="spacingAndGlyphs" transform="rotate(-90 399.60 466.50)" >Ranked list</text>
<text x="409.00" y="469.07" font-size="7.8" text-anchor="middle" fill="#1e1e1e" textLength="16" lengthAdjust="spacingAndGlyphs" transform="rotate(-90 409.00 466.30)" >metric</text>
<text x="471.00" y="400.11" font-size="5.95" text-anchor="middle" fill="#1e1e1e" >HALLMARK_IL6_JAK_</text>
<text x="471.00" y="407.91" font-size="5.95" text-anchor="middle" fill="#1e1e1e" >STAT3_SIGNALING</text>
<rect x="428.80" y="575.00" width="83.00" height="6.40" fill="#dde4f4" />
<g stroke="#8098cc" stroke-opacity="0.9">
<line x1="465.7" y1="575.0" x2="465.7" y2="581.4" stroke-width="1.25"/>
<line x1="503.8" y1="575.0" x2="503.8" y2="581.4" stroke-width="1.00"/>
<line x1="477.6" y1="575.0" x2="477.6" y2="581.4" stroke-width="1.09"/>
<line x1="491.3" y1="575.0" x2="491.3" y2="581.4" stroke-width="1.23"/>
<line x1="445.9" y1="575.0" x2="445.9" y2="581.4" stroke-width="1.21"/>
<line x1="449.1" y1="575.0" x2="449.1" y2="581.4" stroke-width="0.84"/>
<line x1="438.6" y1="575.0" x2="438.6" y2="581.4" stroke-width="1.07"/>
<line x1="430.6" y1="575.0" x2="430.6" y2="581.4" stroke-width="1.42"/>
<line x1="495.2" y1="575.0" x2="495.2" y2="581.4" stroke-width="0.82"/>
<line x1="472.4" y1="575.0" x2="472.4" y2="581.4" stroke-width="1.15"/>
<line x1="462.2" y1="575.0" x2="462.2" y2="581.4" stroke-width="0.86"/>
<line x1="506.4" y1="575.0" x2="506.4" y2="581.4" stroke-width="1.04"/>
<line x1="505.7" y1="575.0" x2="505.7" y2="581.4" stroke-width="1.12"/>
<line x1="446.5" y1="575.0" x2="446.5" y2="581.4" stroke-width="1.00"/>
<line x1="449.6" y1="575.0" x2="449.6" y2="581.4" stroke-width="1.44"/>
<line x1="497.3" y1="575.0" x2="497.3" y2="581.4" stroke-width="1.45"/>
<line x1="451.1" y1="575.0" x2="451.1" y2="581.4" stroke-width="1.04"/>
<line x1="473.4" y1="575.0" x2="473.4" y2="581.4" stroke-width="1.37"/>
<line x1="487.2" y1="575.0" x2="487.2" y2="581.4" stroke-width="1.47"/>
<line x1="492.0" y1="575.0" x2="492.0" y2="581.4" stroke-width="1.21"/>
<line x1="486.1" y1="575.0" x2="486.1" y2="581.4" stroke-width="1.41"/>
<line x1="445.1" y1="575.0" x2="445.1" y2="581.4" stroke-width="1.58"/>
<line x1="473.4" y1="575.0" x2="473.4" y2="581.4" stroke-width="1.31"/>
<line x1="484.3" y1="575.0" x2="484.3" y2="581.4" stroke-width="1.37"/>
<line x1="436.5" y1="575.0" x2="436.5" y2="581.4" stroke-width="0.86"/>
<line x1="453.9" y1="575.0" x2="453.9" y2="581.4" stroke-width="0.91"/>
<line x1="490.5" y1="575.0" x2="490.5" y2="581.4" stroke-width="1.18"/>
<line x1="444.2" y1="575.0" x2="444.2" y2="581.4" stroke-width="1.12"/>
<line x1="445.4" y1="575.0" x2="445.4" y2="581.4" stroke-width="1.40"/>
<line x1="462.2" y1="575.0" x2="462.2" y2="581.4" stroke-width="1.48"/>
<line x1="487.5" y1="575.0" x2="487.5" y2="581.4" stroke-width="1.17"/>
<line x1="476.4" y1="575.0" x2="476.4" y2="581.4" stroke-width="1.60"/>
<line x1="488.3" y1="575.0" x2="488.3" y2="581.4" stroke-width="1.14"/>
<line x1="461.7" y1="575.0" x2="461.7" y2="581.4" stroke-width="1.48"/>
<line x1="480.9" y1="575.0" x2="480.9" y2="581.4" stroke-width="1.36"/>
<line x1="442.4" y1="575.0" x2="442.4" y2="581.4" stroke-width="1.15"/>
<line x1="430.7" y1="575.0" x2="430.7" y2="581.4" stroke-width="1.23"/>
<line x1="430.9" y1="575.0" x2="430.9" y2="581.4" stroke-width="1.32"/>
<line x1="441.2" y1="575.0" x2="441.2" y2="581.4" stroke-width="0.86"/>
<line x1="442.8" y1="575.0" x2="442.8" y2="581.4" stroke-width="1.13"/>
<line x1="469.4" y1="575.0" x2="469.4" y2="581.4" stroke-width="1.00"/>
<line x1="480.4" y1="575.0" x2="480.4" y2="581.4" stroke-width="1.29"/>
<line x1="446.9" y1="575.0" x2="446.9" y2="581.4" stroke-width="1.11"/>
<line x1="505.7" y1="575.0" x2="505.7" y2="581.4" stroke-width="1.20"/>
<line x1="496.1" y1="575.0" x2="496.1" y2="581.4" stroke-width="1.35"/>
<line x1="482.8" y1="575.0" x2="482.8" y2="581.4" stroke-width="1.51"/>
<line x1="432.8" y1="575.0" x2="432.8" y2="581.4" stroke-width="1.24"/>
<line x1="502.7" y1="575.0" x2="502.7" y2="581.4" stroke-width="1.24"/>
<line x1="430.6" y1="575.0" x2="430.6" y2="581.4" stroke-width="1.55"/>
<line x1="490.0" y1="575.0" x2="490.0" y2="581.4" stroke-width="1.10"/>
<line x1="444.2" y1="575.0" x2="444.2" y2="581.4" stroke-width="0.82"/>
<line x1="505.6" y1="575.0" x2="505.6" y2="581.4" stroke-width="1.47"/>
<line x1="439.7" y1="575.0" x2="439.7" y2="581.4" stroke-width="0.93"/>
<line x1="487.5" y1="575.0" x2="487.5" y2="581.4" stroke-width="0.91"/>
<line x1="476.1" y1="575.0" x2="476.1" y2="581.4" stroke-width="1.09"/>
</g>
<defs><linearGradient id="gr5" x1="0" x2="1" y1="0" y2="0"><stop offset="0" stop-color="#e08890"/><stop offset="0.15" stop-color="#f2d0d4"/><stop offset="0.35" stop-color="#ffffff"/><stop offset="0.6" stop-color="#d0d0ea"/><stop offset="0.88" stop-color="#5858aa"/><stop offset="1" stop-color="#202080"/></linearGradient></defs>
<rect x="428.80" y="581.40" width="83.00" height="4.40" fill="url(#gr5)" />
<line x1="454.50" y1="585.80" x2="454.50" y2="614.30" stroke="#999" stroke-width="0.5" stroke-dasharray="0.8,0.8"/>
<path d="M428.8,605.5 L428.8,603.0 L429.8,603.7 L430.9,604.2 L431.9,604.5 L432.9,604.8 L434.0,604.9 L435.0,605.0 L436.1,605.1 L437.1,605.1 L438.1,605.1 L439.2,605.2 L440.2,605.2 L441.2,605.2 L442.3,605.2 L443.3,605.2 L444.4,605.2 L445.4,605.2 L446.4,605.2 L447.5,605.2 L448.5,605.2 L449.6,605.2 L450.6,605.2 L451.6,605.2 L452.7,605.2 L453.7,605.2 L454.7,605.3 L455.8,605.3 L456.8,605.3 L457.9,605.3 L458.9,605.3 L459.9,605.3 L461.0,605.3 L462.0,605.3 L463.0,605.3 L464.1,605.3 L465.1,605.3 L466.2,605.3 L467.2,605.3 L468.2,605.3 L469.3,605.3 L470.3,605.3 L471.3,605.3 L472.4,605.3 L473.4,605.3 L474.5,605.3 L475.5,605.3 L476.5,605.3 L477.6,605.4 L478.6,605.4 L479.6,605.4 L480.7,605.4 L481.7,605.4 L482.8,605.4 L483.8,605.4 L484.8,605.4 L485.9,605.4 L486.9,605.4 L487.9,605.4 L489.0,605.4 L490.0,605.4 L491.1,605.4 L492.1,605.4 L493.1,605.4 L494.2,605.5 L495.2,605.5 L496.2,605.5 L497.3,605.5 L498.3,605.5 L499.4,605.6 L500.4,605.6 L501.4,605.6 L502.5,605.7 L503.5,605.8 L504.5,605.8 L505.6,606.0 L506.6,606.1 L507.6,606.3 L508.7,606.5 L509.7,606.8 L510.8,607.2 L511.8,607.7 L511.8,605.5Z" fill="#d4d4d4" stroke="#a0a0a0" stroke-width="0.7" />
<path d="M428.8,575.0 L429.3,570.8 L429.8,567.6 L430.4,565.8 L430.9,563.9 L431.4,562.4 L431.9,560.6 L432.5,559.4 L433.0,557.9 L433.5,557.2 L434.0,556.1 L434.5,555.2 L435.1,553.9 L435.6,553.1 L436.1,552.0 L436.6,551.2 L437.2,550.2 L437.7,549.4 L438.2,548.9 L438.7,549.0 L439.2,548.2 L439.8,547.8 L440.3,546.9 L440.8,547.3 L441.3,546.8 L441.9,546.5 L442.4,545.7 L442.9,545.3 L443.4,545.2 L443.9,544.5 L444.5,544.1 L445.0,544.4 L445.5,543.9 L446.0,543.8 L446.5,543.7 L447.1,543.4 L447.6,543.1 L448.1,543.1 L448.6,542.6 L449.2,542.2 L449.7,542.3 L450.2,542.2 L450.7,542.2 L451.2,541.9 L451.8,541.9 L452.3,541.7 L452.8,541.9 L453.3,542.0 L453.9,541.6 L454.4,541.7 L454.9,541.3 L455.4,541.4 L455.9,542.1 L456.5,542.0 L457.0,541.7 L457.5,541.9 L458.0,542.2 L458.6,541.9 L459.1,541.6 L459.6,541.8 L460.1,542.2 L460.6,542.0 L461.2,541.9 L461.7,542.2 L462.2,541.9 L462.7,542.5 L463.3,542.1 L463.8,542.3 L464.3,542.6 L464.8,542.8 L465.3,543.0 L465.9,543.3 L466.4,543.0 L466.9,543.1 L467.4,543.3 L468.0,543.6 L468.5,543.7 L469.0,544.1 L469.5,544.1 L470.0,544.4 L470.6,544.2 L471.1,544.6 L471.6,544.4 L472.1,544.9 L472.6,544.7 L473.2,544.8 L473.7,545.0 L474.2,545.2 L474.7,545.7 L475.3,545.8 L475.8,546.1 L476.3,546.1 L476.8,546.0 L477.3,546.7 L477.9,546.1 L478.4,546.9 L478.9,547.2 L479.4,547.0 L480.0,547.0 L480.5,547.5 L481.0,547.7 L481.5,547.3 L482.0,548.1 L482.6,547.8 L483.1,548.1 L483.6,548.4 L484.1,548.4 L484.7,548.8 L485.2,548.9 L485.7,548.8 L486.2,549.2 L486.7,549.3 L487.3,549.1 L487.8,549.2 L488.3,549.6 L488.8,549.9 L489.4,550.3 L489.9,550.5 L490.4,550.9 L490.9,551.6 L491.4,551.2 L492.0,551.4 L492.5,551.5 L493.0,552.2 L493.5,551.9 L494.1,552.5 L494.6,552.9 L495.1,552.9 L495.6,553.1 L496.1,553.8 L496.7,554.3 L497.2,555.1 L497.7,555.3 L498.2,555.7 L498.7,556.5 L499.3,556.5 L499.8,557.0 L500.3,556.9 L500.8,557.5 L501.4,557.3 L501.9,557.6 L502.4,558.0 L502.9,557.9 L503.4,558.4 L504.0,558.6 L504.5,559.1 L505.0,559.2 L505.5,559.7 L506.1,559.7 L506.6,560.2 L507.1,560.6 L507.6,561.3 L508.1,561.8 L508.7,562.2 L509.2,563.0 L509.7,564.8 L510.2,565.8 L510.8,567.8 L511.3,570.9 L511.8,574.0" fill="none" stroke="#5cb040" stroke-width="0.9" />
<rect x="428.5" y="540.5" width="83.0" height="74.0" fill="none" stroke="#3a3a3a" stroke-width="0.9"/>
<line x1="428.50" y1="575.50" x2="511.50" y2="575.50" stroke="#555" stroke-width="0.8"/>
<line x1="426.60" y1="549.50" x2="428.80" y2="549.50" stroke="#333" stroke-width="0.7"/>
<text x="425.80" y="551.63" font-size="6.0" text-anchor="end" fill="#222" >4.0</text>
<line x1="426.60" y1="562.30" x2="428.80" y2="562.30" stroke="#333" stroke-width="0.7"/>
<text x="425.80" y="564.43" font-size="6.0" text-anchor="end" fill="#222" >2.0</text>
<line x1="426.60" y1="575.00" x2="428.80" y2="575.00" stroke="#333" stroke-width="0.7"/>
<text x="425.80" y="577.13" font-size="6.0" text-anchor="end" fill="#222" >0.0</text>
<line x1="426.60" y1="587.20" x2="428.80" y2="587.20" stroke="#333" stroke-width="0.7"/>
<text x="425.80" y="589.33" font-size="6.0" text-anchor="end" fill="#222" >1.0</text>
<line x1="426.60" y1="596.30" x2="428.80" y2="596.30" stroke="#333" stroke-width="0.7"/>
<text x="425.80" y="598.43" font-size="6.0" text-anchor="end" fill="#222" >0.5</text>
<line x1="426.60" y1="605.50" x2="428.80" y2="605.50" stroke="#333" stroke-width="0.7"/>
<text x="425.80" y="607.63" font-size="6.0" text-anchor="end" fill="#222" >0.0</text>
<line x1="426.60" y1="613.80" x2="428.80" y2="613.80" stroke="#333" stroke-width="0.7"/>
<text x="425.80" y="615.93" font-size="6.0" text-anchor="end" fill="#222" >−0.5</text>
<line x1="429.60" y1="614.30" x2="429.60" y2="616.50" stroke="#333" stroke-width="0.7"/>
<text x="431.20" y="621.14" font-size="6.3" text-anchor="end" fill="#222" transform="rotate(-45 431.20 618.90)" >0</text>
<line x1="442.08" y1="614.30" x2="442.08" y2="616.50" stroke="#333" stroke-width="0.7"/>
<text x="443.68" y="621.14" font-size="6.3" text-anchor="end" fill="#222" transform="rotate(-45 443.68 618.90)" >2000</text>
<line x1="454.56" y1="614.30" x2="454.56" y2="616.50" stroke="#333" stroke-width="0.7"/>
<text x="456.16" y="621.14" font-size="6.3" text-anchor="end" fill="#222" transform="rotate(-45 456.16 618.90)" >4000</text>
<line x1="467.04" y1="614.30" x2="467.04" y2="616.50" stroke="#333" stroke-width="0.7"/>
<text x="468.64" y="621.14" font-size="6.3" text-anchor="end" fill="#222" transform="rotate(-45 468.64 618.90)" >6000</text>
<line x1="479.52" y1="614.30" x2="479.52" y2="616.50" stroke="#333" stroke-width="0.7"/>
<text x="481.12" y="621.14" font-size="6.3" text-anchor="end" fill="#222" transform="rotate(-45 481.12 618.90)" >8000</text>
<line x1="492.01" y1="614.30" x2="492.01" y2="616.50" stroke="#333" stroke-width="0.7"/>
<text x="493.61" y="621.14" font-size="6.3" text-anchor="end" fill="#222" transform="rotate(-45 493.61 618.90)" >10000</text>
<line x1="504.49" y1="614.30" x2="504.49" y2="616.50" stroke="#333" stroke-width="0.7"/>
<text x="506.09" y="621.14" font-size="6.3" text-anchor="end" fill="#222" transform="rotate(-45 506.09 618.90)" >12000</text>
<text x="437.50" y="558.81" font-size="5.1" text-anchor="start" fill="#1a1a1a" >NES: 1.538</text>
<text x="437.50" y="564.86" font-size="5.1" text-anchor="start" fill="#1a1a1a"><tspan font-style="italic">Pval</tspan><tspan>: 2.477e−02</tspan></text>
<text x="437.50" y="570.91" font-size="5.1" text-anchor="start" fill="#1a1a1a" >FDR: 6.289e−02</text>
<text x="454.30" y="601.36" font-size="5.25" text-anchor="middle" fill="#1a1a1a" >Zero score at 4020</text>
<text x="468.00" y="643.02" font-size="8.5" text-anchor="middle" fill="#1e1e1e" font-weight="bold" textLength="60" lengthAdjust="spacingAndGlyphs" >Rank in ordered dataset</text>
<text x="397.60" y="561.67" font-size="7.8" text-anchor="middle" fill="#1e1e1e" textLength="28.3" lengthAdjust="spacingAndGlyphs" transform="rotate(-90 397.60 558.90)" >Enrichment</text>
<text x="407.60" y="560.97" font-size="7.8" text-anchor="middle" fill="#1e1e1e" textLength="13.1" lengthAdjust="spacingAndGlyphs" transform="rotate(-90 407.60 558.20)" >score</text>
<text x="397.60" y="597.97" font-size="7.8" text-anchor="middle" fill="#1e1e1e" textLength="29" lengthAdjust="spacingAndGlyphs" transform="rotate(-90 397.60 595.20)" >Ranked list</text>
<text x="407.60" y="596.87" font-size="7.8" text-anchor="middle" fill="#1e1e1e" textLength="15.8" lengthAdjust="spacingAndGlyphs" transform="rotate(-90 407.60 594.10)" >metric</text>
<text x="470.30" y="527.71" font-size="5.95" text-anchor="middle" fill="#1e1e1e" >HALLMARK_INTERFERON_</text>
<text x="470.30" y="535.91" font-size="5.95" text-anchor="middle" fill="#1e1e1e" >GAMMA_RESPONSE</text>
<rect x="0.5" y="0.5" width="519" height="650" fill="none" stroke="#505050" stroke-width="1"/>
</svg>
</body></html>
